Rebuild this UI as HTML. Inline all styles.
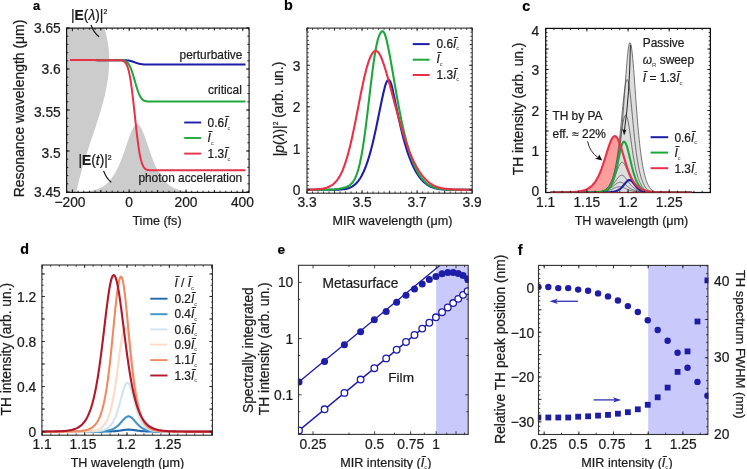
<!DOCTYPE html>
<html><head><meta charset="utf-8"><title>figure</title>
<style>html,body{margin:0;padding:0;background:#fff;}body{width:747px;height:469px;overflow:hidden;font-family:"Liberation Sans",sans-serif;}svg{display:block;will-change:transform;}</style></head>
<body>
<svg width="747" height="469" viewBox="0 0 747 469" font-family="Liberation Sans, sans-serif">
<style>text{stroke:#1a1a1a;stroke-width:0.22px;paint-order:stroke}.sb{fill:#3a3a3a;stroke:none}</style>
<rect width="747" height="469" fill="#fff"/>
<clipPath id="ca"><rect x="66.6" y="28.1" width="182.5" height="164.3"/></clipPath>
<g clip-path="url(#ca)">
<path d="M66.6,28.1 104.4,28.1 105.0,30.2 105.6,32.2 106.1,34.3 106.5,36.3 107.0,38.4 107.4,40.4 107.8,42.5 108.1,44.5 108.4,46.6 108.6,48.6 108.8,50.7 109.0,52.7 109.1,54.8 109.2,56.9 109.2,58.9 109.2,61.0 109.1,63.0 109.1,65.1 109.0,67.1 108.8,69.2 108.7,71.2 108.5,73.3 108.3,75.3 108.0,77.4 107.8,79.4 107.5,81.5 107.1,83.6 106.8,85.6 106.4,87.7 106.0,89.7 105.6,91.8 105.1,93.8 104.7,95.9 104.2,97.9 103.7,100.0 103.1,102.0 102.6,104.1 102.0,106.1 101.4,108.2 100.8,110.2 100.2,112.3 99.6,114.4 99.0,116.4 98.3,118.5 97.7,120.5 97.0,122.6 96.3,124.6 95.7,126.7 95.0,128.7 94.3,130.8 93.6,132.8 92.9,134.9 92.2,136.9 91.5,139.0 90.9,141.1 90.2,143.1 89.5,145.2 88.8,147.2 88.1,149.3 87.5,151.3 86.8,153.4 86.2,155.4 85.5,157.5 84.9,159.5 84.2,161.6 83.6,163.6 83.0,165.7 82.4,167.8 81.8,169.8 81.3,171.9 80.7,173.9 80.1,176.0 79.6,178.0 79.1,180.1 78.6,182.1 78.1,184.2 77.6,186.2 77.1,188.3 76.6,190.3 76.2,192.4 66.6,192.4 Z" fill="#cccccc" stroke="none" stroke-width="0" stroke-linejoin="round" stroke-linecap="butt" />
<path d="M78.0,192.4 78.0,192.0 78.6,192.0 79.2,192.0 79.8,191.9 80.4,191.9 81.0,191.9 81.6,191.8 82.2,191.8 82.8,191.8 83.4,191.7 84.0,191.7 84.6,191.6 85.2,191.6 85.8,191.5 86.4,191.4 87.0,191.4 87.6,191.3 88.2,191.2 88.8,191.2 89.4,191.1 90.0,191.0 90.6,190.9 91.2,190.8 91.8,190.7 92.4,190.5 93.0,190.4 93.6,190.3 94.2,190.1 94.8,190.0 95.4,189.8 96.0,189.7 96.6,189.5 97.2,189.3 97.8,189.1 98.4,188.8 99.0,188.6 99.6,188.3 100.2,188.1 100.8,187.8 101.4,187.5 102.0,187.1 102.6,186.8 103.2,186.4 103.8,186.0 104.4,185.6 105.0,185.2 105.6,184.7 106.2,184.2 106.8,183.7 107.4,183.1 108.0,182.5 108.6,181.9 109.2,181.2 109.8,180.5 110.4,179.8 111.0,179.0 111.6,178.2 112.2,177.3 112.8,176.5 113.4,175.6 114.0,174.7 114.6,173.8 115.2,172.8 115.8,171.7 116.4,170.6 117.0,169.5 117.6,168.3 118.2,167.0 118.8,165.7 119.4,164.4 120.0,163.0 120.6,161.5 121.2,160.0 121.8,158.5 122.4,156.9 123.0,155.2 123.6,153.6 124.2,151.9 124.8,150.1 125.4,148.4 126.0,146.6 126.6,144.8 127.2,143.1 127.8,141.3 128.4,139.6 129.0,137.9 129.6,136.2 130.2,134.6 130.8,133.0 131.4,131.6 132.0,130.2 132.6,128.9 133.2,127.8 133.8,126.8 134.4,125.9 135.0,125.2 135.6,124.7 136.2,124.3 136.8,124.1 137.4,124.1 138.0,124.3 138.6,124.7 139.2,125.2 139.8,125.9 140.4,126.8 141.0,127.8 141.6,128.9 142.2,130.2 142.8,131.6 143.4,133.0 144.0,134.6 144.6,136.2 145.2,137.9 145.8,139.6 146.4,141.3 147.0,143.1 147.6,144.8 148.2,146.6 148.8,148.4 149.4,150.1 150.0,151.9 150.6,153.6 151.2,155.2 151.8,156.9 152.4,158.5 153.0,160.0 153.6,161.5 154.2,163.0 154.8,164.4 155.4,165.7 156.0,167.0 156.6,168.3 157.2,169.5 157.8,170.6 158.4,171.7 159.0,172.8 159.6,173.8 160.2,174.7 160.8,175.6 161.4,176.5 162.0,177.3 162.6,178.2 163.2,179.0 163.8,179.8 164.4,180.5 165.0,181.2 165.6,181.9 166.2,182.5 166.8,183.1 167.4,183.7 168.0,184.2 168.6,184.7 169.2,185.2 169.8,185.6 170.4,186.0 171.0,186.4 171.6,186.8 172.2,187.1 172.8,187.5 173.4,187.8 174.0,188.1 174.6,188.3 175.2,188.6 175.8,188.8 176.4,189.1 177.0,189.3 177.6,189.5 178.2,189.7 178.8,189.8 179.4,190.0 180.0,190.1 180.6,190.3 181.2,190.4 181.8,190.5 182.4,190.7 183.0,190.8 183.6,190.9 184.2,191.0 184.8,191.1 185.4,191.2 186.0,191.2 186.6,191.3 187.2,191.4 187.8,191.4 188.4,191.5 189.0,191.6 189.6,191.6 190.2,191.7 190.8,191.7 191.4,191.8 192.0,191.8 192.6,191.8 193.2,191.9 193.8,191.9 194.4,191.9 195.0,192.0 195.6,192.0 196.2,192.0 196.8,192.0 197.4,192.1 198.0,192.1 198.6,192.1 199.2,192.1 199.8,192.1 200.0,192.4 Z" fill="#cccccc" stroke="none" stroke-width="0" stroke-linejoin="round" stroke-linecap="butt" />
</g>
<path d="M70.0,60.1 70.5,60.1 71.0,60.1 71.5,60.1 72.0,60.1 72.5,60.1 73.0,60.1 73.5,60.1 74.0,60.1 74.5,60.1 75.0,60.1 75.5,60.1 76.0,60.1 76.5,60.1 77.0,60.1 77.5,60.1 78.0,60.1 78.5,60.1 79.0,60.1 79.5,60.1 80.0,60.1 80.5,60.1 81.0,60.1 81.5,60.1 82.0,60.1 82.5,60.1 83.0,60.1 83.5,60.1 84.0,60.1 84.5,60.1 85.0,60.1 85.5,60.1 86.0,60.1 86.5,60.1 87.0,60.1 87.5,60.1 88.0,60.1 88.5,60.1 89.0,60.1 89.5,60.1 90.0,60.1 90.5,60.1 91.0,60.1 91.5,60.1 92.0,60.1 92.5,60.1 93.0,60.1 93.5,60.1 94.0,60.1 94.5,60.1 95.0,60.1 95.5,60.1 96.0,60.1 96.5,60.1 97.0,60.1 97.5,60.2 98.0,60.2 98.5,60.2 99.0,60.2 99.5,60.2 100.0,60.2 100.5,60.2 101.0,60.2 101.5,60.2 102.0,60.2 102.5,60.2 103.0,60.2 103.5,60.2 104.0,60.2 104.5,60.2 105.0,60.2 105.5,60.2 106.0,60.2 106.5,60.2 107.0,60.2 107.5,60.2 108.0,60.2 108.5,60.2 109.0,60.2 109.5,60.2 110.0,60.2 110.5,60.2 111.0,60.2 111.5,60.2 112.0,60.2 112.5,60.2 113.0,60.2 113.5,60.2 114.0,60.2 114.5,60.2 115.0,60.2 115.5,60.2 116.0,60.2 116.5,60.2 117.0,60.2 117.5,60.2 118.0,60.2 118.5,60.2 119.0,60.2 119.5,60.2 120.0,60.2 120.5,60.2 121.0,60.2 121.5,60.2 122.0,60.2 122.5,60.2 123.0,60.2 123.5,60.2 124.0,60.2 124.5,60.2 125.0,60.2 125.5,60.3 126.0,60.3 126.5,60.3 127.0,60.4 127.5,60.4 128.0,60.5 128.5,60.5 129.0,60.6 129.5,60.7 130.0,60.8 130.5,60.9 131.0,61.1 131.5,61.2 132.0,61.3 132.5,61.5 133.0,61.7 133.5,61.9 134.0,62.0 134.5,62.2 135.0,62.4 135.5,62.6 136.0,62.8 136.5,62.9 137.0,63.1 137.5,63.3 138.0,63.4 138.5,63.6 139.0,63.7 139.5,63.8 140.0,63.9 140.5,64.0 141.0,64.1 141.5,64.2 142.0,64.2 142.5,64.3 143.0,64.3 143.5,64.4 144.0,64.4 144.5,64.4 145.0,64.4 145.5,64.5 146.0,64.5 146.5,64.5 147.0,64.5 147.5,64.5 148.0,64.5 148.5,64.5 149.0,64.5 149.5,64.5 150.0,64.5 150.5,64.5 151.0,64.5 151.5,64.5 152.0,64.5 152.5,64.5 153.0,64.5 153.5,64.5 154.0,64.5 154.5,64.5 155.0,64.5 155.5,64.5 156.0,64.5 156.5,64.5 157.0,64.5 157.5,64.5 158.0,64.5 158.5,64.5 159.0,64.5 159.5,64.5 160.0,64.5 160.5,64.5 161.0,64.5 161.5,64.5 162.0,64.5 162.5,64.5 163.0,64.5 163.5,64.5 164.0,64.5 164.5,64.5 165.0,64.5 165.5,64.5 166.0,64.5 166.5,64.5 167.0,64.5 167.5,64.5 168.0,64.5 168.5,64.5 169.0,64.5 169.5,64.5 170.0,64.5 170.5,64.5 171.0,64.5 171.5,64.5 172.0,64.5 172.5,64.5 173.0,64.5 173.5,64.5 174.0,64.5 174.5,64.5 175.0,64.5 175.5,64.5 176.0,64.5 176.5,64.5 177.0,64.5 177.5,64.5 178.0,64.5 178.5,64.5 179.0,64.5 179.5,64.5 180.0,64.5 180.5,64.5 181.0,64.5 181.5,64.5 182.0,64.5 182.5,64.5 183.0,64.5 183.5,64.5 184.0,64.5 184.5,64.5 185.0,64.5 185.5,64.5 186.0,64.5 186.5,64.5 187.0,64.5 187.5,64.5 188.0,64.5 188.5,64.5 189.0,64.5 189.5,64.5 190.0,64.5 190.5,64.5 191.0,64.5 191.5,64.5 192.0,64.5 192.5,64.5 193.0,64.5 193.5,64.5 194.0,64.5 194.5,64.5 195.0,64.5 195.5,64.5 196.0,64.5 196.5,64.5 197.0,64.5 197.5,64.5 198.0,64.5 198.5,64.5 199.0,64.5 199.5,64.5 200.0,64.5 200.5,64.5 201.0,64.5 201.5,64.5 202.0,64.5 202.5,64.5 203.0,64.5 203.5,64.5 204.0,64.5 204.5,64.5 205.0,64.5 205.5,64.5 206.0,64.5 206.5,64.5 207.0,64.5 207.5,64.5 208.0,64.5 208.5,64.5 209.0,64.5 209.5,64.5 210.0,64.5 210.5,64.5 211.0,64.5 211.5,64.5 212.0,64.5 212.5,64.5 213.0,64.5 213.5,64.5 214.0,64.5 214.5,64.5 215.0,64.5 215.5,64.5 216.0,64.5 216.5,64.5 217.0,64.5 217.5,64.5 218.0,64.5 218.5,64.5 219.0,64.5 219.5,64.5 220.0,64.5 220.5,64.5 221.0,64.5 221.5,64.5 222.0,64.5 222.5,64.5 223.0,64.5 223.5,64.5 224.0,64.5 224.5,64.5 225.0,64.5 225.5,64.5 226.0,64.5 226.5,64.5 227.0,64.5 227.5,64.5 228.0,64.5 228.5,64.5 229.0,64.5 229.5,64.5 230.0,64.5 230.5,64.5 231.0,64.5 231.5,64.5 232.0,64.5 232.5,64.5 233.0,64.5 233.5,64.5 234.0,64.5 234.5,64.5 235.0,64.5 235.5,64.5 236.0,64.5 236.5,64.5 237.0,64.5 237.5,64.5 238.0,64.5 238.5,64.5 239.0,64.5 239.5,64.5 240.0,64.5 240.5,64.5 241.0,64.5 241.5,64.5 242.0,64.5 242.5,64.5 243.0,64.5 243.5,64.5 244.0,64.5 244.5,64.5 245.0,64.5 245.5,64.5" fill="none" stroke="#1d1da8" stroke-width="2.0" stroke-linejoin="round" stroke-linecap="butt" />
<path d="M70.0,60.1 70.5,60.1 71.0,60.1 71.5,60.1 72.0,60.1 72.5,60.1 73.0,60.1 73.5,60.1 74.0,60.1 74.5,60.1 75.0,60.1 75.5,60.1 76.0,60.1 76.5,60.1 77.0,60.1 77.5,60.1 78.0,60.1 78.5,60.1 79.0,60.1 79.5,60.1 80.0,60.1 80.5,60.1 81.0,60.1 81.5,60.1 82.0,60.1 82.5,60.1 83.0,60.1 83.5,60.1 84.0,60.1 84.5,60.1 85.0,60.1 85.5,60.1 86.0,60.1 86.5,60.1 87.0,60.1 87.5,60.1 88.0,60.1 88.5,60.1 89.0,60.1 89.5,60.1 90.0,60.1 90.5,60.1 91.0,60.1 91.5,60.1 92.0,60.1 92.5,60.1 93.0,60.1 93.5,60.1 94.0,60.1 94.5,60.1 95.0,60.1 95.5,60.1 96.0,60.1 96.5,60.2 97.0,60.2 97.5,60.2 98.0,60.2 98.5,60.2 99.0,60.2 99.5,60.2 100.0,60.2 100.5,60.2 101.0,60.2 101.5,60.2 102.0,60.2 102.5,60.2 103.0,60.2 103.5,60.2 104.0,60.2 104.5,60.2 105.0,60.2 105.5,60.2 106.0,60.2 106.5,60.2 107.0,60.2 107.5,60.2 108.0,60.2 108.5,60.2 109.0,60.2 109.5,60.2 110.0,60.2 110.5,60.2 111.0,60.2 111.5,60.2 112.0,60.2 112.5,60.2 113.0,60.2 113.5,60.2 114.0,60.2 114.5,60.2 115.0,60.2 115.5,60.2 116.0,60.2 116.5,60.2 117.0,60.2 117.5,60.2 118.0,60.2 118.5,60.2 119.0,60.2 119.5,60.2 120.0,60.2 120.5,60.2 121.0,60.2 121.5,60.2 122.0,60.3 122.5,60.3 123.0,60.4 123.5,60.5 124.0,60.6 124.5,60.7 125.0,60.9 125.5,61.1 126.0,61.4 126.5,61.8 127.0,62.2 127.5,62.6 128.0,63.2 128.5,63.9 129.0,64.7 129.5,65.5 130.0,66.5 130.5,67.6 131.0,68.8 131.5,70.2 132.0,71.6 132.5,73.1 133.0,74.7 133.5,76.4 134.0,78.1 134.5,79.8 135.0,81.6 135.5,83.3 136.0,85.1 136.5,86.7 137.0,88.3 137.5,89.9 138.0,91.3 138.5,92.7 139.0,93.9 139.5,95.0 140.0,96.0 140.5,96.9 141.0,97.7 141.5,98.4 142.0,99.0 142.5,99.5 143.0,99.9 143.5,100.3 144.0,100.6 144.5,100.8 145.0,101.0 145.5,101.1 146.0,101.2 146.5,101.3 147.0,101.4 147.5,101.5 148.0,101.5 148.5,101.5 149.0,101.5 149.5,101.6 150.0,101.6 150.5,101.6 151.0,101.6 151.5,101.6 152.0,101.6 152.5,101.6 153.0,101.6 153.5,101.6 154.0,101.6 154.5,101.6 155.0,101.6 155.5,101.6 156.0,101.6 156.5,101.6 157.0,101.6 157.5,101.6 158.0,101.6 158.5,101.6 159.0,101.6 159.5,101.6 160.0,101.6 160.5,101.6 161.0,101.6 161.5,101.6 162.0,101.6 162.5,101.6 163.0,101.6 163.5,101.6 164.0,101.6 164.5,101.6 165.0,101.6 165.5,101.6 166.0,101.6 166.5,101.6 167.0,101.6 167.5,101.6 168.0,101.6 168.5,101.6 169.0,101.6 169.5,101.6 170.0,101.6 170.5,101.6 171.0,101.6 171.5,101.6 172.0,101.6 172.5,101.6 173.0,101.6 173.5,101.6 174.0,101.6 174.5,101.6 175.0,101.6 175.5,101.6 176.0,101.6 176.5,101.6 177.0,101.6 177.5,101.6 178.0,101.6 178.5,101.6 179.0,101.6 179.5,101.6 180.0,101.6 180.5,101.6 181.0,101.6 181.5,101.6 182.0,101.6 182.5,101.6 183.0,101.6 183.5,101.6 184.0,101.6 184.5,101.6 185.0,101.6 185.5,101.6 186.0,101.6 186.5,101.6 187.0,101.6 187.5,101.6 188.0,101.6 188.5,101.6 189.0,101.6 189.5,101.6 190.0,101.6 190.5,101.6 191.0,101.6 191.5,101.6 192.0,101.6 192.5,101.6 193.0,101.6 193.5,101.6 194.0,101.6 194.5,101.6 195.0,101.6 195.5,101.6 196.0,101.6 196.5,101.6 197.0,101.6 197.5,101.6 198.0,101.6 198.5,101.6 199.0,101.6 199.5,101.6 200.0,101.6 200.5,101.6 201.0,101.6 201.5,101.6 202.0,101.6 202.5,101.6 203.0,101.6 203.5,101.6 204.0,101.6 204.5,101.6 205.0,101.6 205.5,101.6 206.0,101.6 206.5,101.6 207.0,101.6 207.5,101.6 208.0,101.6 208.5,101.6 209.0,101.6 209.5,101.6 210.0,101.6 210.5,101.6 211.0,101.6 211.5,101.6 212.0,101.6 212.5,101.6 213.0,101.6 213.5,101.6 214.0,101.6 214.5,101.6 215.0,101.6 215.5,101.6 216.0,101.6 216.5,101.6 217.0,101.6 217.5,101.6 218.0,101.6 218.5,101.6 219.0,101.6 219.5,101.6 220.0,101.6 220.5,101.6 221.0,101.6 221.5,101.6 222.0,101.6 222.5,101.6 223.0,101.6 223.5,101.6 224.0,101.6 224.5,101.6 225.0,101.6 225.5,101.6 226.0,101.6 226.5,101.6 227.0,101.6 227.5,101.6 228.0,101.6 228.5,101.6 229.0,101.6 229.5,101.6 230.0,101.6 230.5,101.6 231.0,101.6 231.5,101.6 232.0,101.6 232.5,101.6 233.0,101.6 233.5,101.6 234.0,101.6 234.5,101.6 235.0,101.6 235.5,101.6 236.0,101.6 236.5,101.6 237.0,101.6 237.5,101.6 238.0,101.6 238.5,101.6 239.0,101.6 239.5,101.6 240.0,101.6 240.5,101.6 241.0,101.6 241.5,101.6 242.0,101.6 242.5,101.6 243.0,101.6 243.5,101.6 244.0,101.6 244.5,101.6 245.0,101.6 245.5,101.6" fill="none" stroke="#1ea83c" stroke-width="2.0" stroke-linejoin="round" stroke-linecap="butt" />
<path d="M70.0,60.1 70.5,60.1 71.0,60.1 71.5,60.1 72.0,60.1 72.5,60.1 73.0,60.1 73.5,60.1 74.0,60.1 74.5,60.1 75.0,60.1 75.5,60.1 76.0,60.1 76.5,60.1 77.0,60.1 77.5,60.1 78.0,60.1 78.5,60.1 79.0,60.1 79.5,60.1 80.0,60.1 80.5,60.1 81.0,60.1 81.5,60.1 82.0,60.1 82.5,60.1 83.0,60.1 83.5,60.1 84.0,60.1 84.5,60.1 85.0,60.1 85.5,60.1 86.0,60.1 86.5,60.1 87.0,60.1 87.5,60.1 88.0,60.1 88.5,60.1 89.0,60.1 89.5,60.1 90.0,60.1 90.5,60.1 91.0,60.1 91.5,60.1 92.0,60.1 92.5,60.1 93.0,60.1 93.5,60.1 94.0,60.1 94.5,60.1 95.0,60.1 95.5,60.2 96.0,60.2 96.5,60.2 97.0,60.2 97.5,60.2 98.0,60.2 98.5,60.2 99.0,60.2 99.5,60.2 100.0,60.2 100.5,60.2 101.0,60.2 101.5,60.2 102.0,60.2 102.5,60.2 103.0,60.2 103.5,60.2 104.0,60.2 104.5,60.2 105.0,60.2 105.5,60.2 106.0,60.2 106.5,60.2 107.0,60.2 107.5,60.2 108.0,60.2 108.5,60.2 109.0,60.2 109.5,60.2 110.0,60.2 110.5,60.2 111.0,60.2 111.5,60.2 112.0,60.2 112.5,60.2 113.0,60.2 113.5,60.2 114.0,60.2 114.5,60.2 115.0,60.2 115.5,60.2 116.0,60.2 116.5,60.2 117.0,60.2 117.5,60.2 118.0,60.2 118.5,60.2 119.0,60.2 119.5,60.2 120.0,60.2 120.5,60.3 121.0,60.3 121.5,60.4 122.0,60.5 122.5,60.6 123.0,60.8 123.5,61.0 124.0,61.3 124.5,61.7 125.0,62.2 125.5,62.8 126.0,63.5 126.5,64.4 127.0,65.5 127.5,66.8 128.0,68.3 128.5,70.1 129.0,72.1 129.5,74.4 130.0,77.1 130.5,80.0 131.0,83.2 131.5,86.7 132.0,90.5 132.5,94.5 133.0,98.8 133.5,103.2 134.0,107.8 134.5,112.4 135.0,117.1 135.5,121.7 136.0,126.3 136.5,130.8 137.0,135.1 137.5,139.1 138.0,143.0 138.5,146.6 139.0,149.8 139.5,152.8 140.0,155.5 140.5,157.9 141.0,160.0 141.5,161.8 142.0,163.4 142.5,164.7 143.0,165.8 143.5,166.8 144.0,167.5 144.5,168.2 145.0,168.6 145.5,169.0 146.0,169.4 146.5,169.6 147.0,169.8 147.5,169.9 148.0,170.0 148.5,170.1 149.0,170.2 149.5,170.2 150.0,170.2 150.5,170.3 151.0,170.3 151.5,170.3 152.0,170.3 152.5,170.3 153.0,170.3 153.5,170.3 154.0,170.3 154.5,170.3 155.0,170.3 155.5,170.3 156.0,170.3 156.5,170.3 157.0,170.3 157.5,170.3 158.0,170.3 158.5,170.3 159.0,170.3 159.5,170.3 160.0,170.3 160.5,170.3 161.0,170.3 161.5,170.3 162.0,170.3 162.5,170.3 163.0,170.3 163.5,170.3 164.0,170.3 164.5,170.3 165.0,170.3 165.5,170.3 166.0,170.3 166.5,170.3 167.0,170.3 167.5,170.3 168.0,170.3 168.5,170.3 169.0,170.3 169.5,170.3 170.0,170.3 170.5,170.3 171.0,170.3 171.5,170.3 172.0,170.3 172.5,170.3 173.0,170.3 173.5,170.3 174.0,170.3 174.5,170.3 175.0,170.3 175.5,170.3 176.0,170.3 176.5,170.3 177.0,170.3 177.5,170.3 178.0,170.3 178.5,170.3 179.0,170.3 179.5,170.3 180.0,170.3 180.5,170.3 181.0,170.3 181.5,170.3 182.0,170.3 182.5,170.3 183.0,170.3 183.5,170.3 184.0,170.3 184.5,170.3 185.0,170.3 185.5,170.3 186.0,170.3 186.5,170.3 187.0,170.3 187.5,170.3 188.0,170.3 188.5,170.3 189.0,170.3 189.5,170.3 190.0,170.3 190.5,170.3 191.0,170.3 191.5,170.3 192.0,170.3 192.5,170.3 193.0,170.3 193.5,170.3 194.0,170.3 194.5,170.3 195.0,170.3 195.5,170.3 196.0,170.3 196.5,170.3 197.0,170.3 197.5,170.3 198.0,170.3 198.5,170.3 199.0,170.3 199.5,170.3 200.0,170.3 200.5,170.3 201.0,170.3 201.5,170.3 202.0,170.3 202.5,170.3 203.0,170.3 203.5,170.3 204.0,170.3 204.5,170.3 205.0,170.3 205.5,170.3 206.0,170.3 206.5,170.3 207.0,170.3 207.5,170.3 208.0,170.3 208.5,170.3 209.0,170.3 209.5,170.3 210.0,170.3 210.5,170.3 211.0,170.3 211.5,170.3 212.0,170.3 212.5,170.3 213.0,170.3 213.5,170.3 214.0,170.3 214.5,170.3 215.0,170.3 215.5,170.3 216.0,170.3 216.5,170.3 217.0,170.3 217.5,170.3 218.0,170.3 218.5,170.3 219.0,170.3 219.5,170.3 220.0,170.3 220.5,170.3 221.0,170.3 221.5,170.3 222.0,170.3 222.5,170.3 223.0,170.3 223.5,170.3 224.0,170.3 224.5,170.3 225.0,170.3 225.5,170.3 226.0,170.3 226.5,170.3 227.0,170.3 227.5,170.3 228.0,170.3 228.5,170.3 229.0,170.3 229.5,170.3 230.0,170.3 230.5,170.3 231.0,170.3 231.5,170.3 232.0,170.3 232.5,170.3 233.0,170.3 233.5,170.3 234.0,170.3 234.5,170.3 235.0,170.3 235.5,170.3 236.0,170.3 236.5,170.3 237.0,170.3 237.5,170.3 238.0,170.3 238.5,170.3 239.0,170.3 239.5,170.3 240.0,170.3 240.5,170.3 241.0,170.3 241.5,170.3 242.0,170.3 242.5,170.3 243.0,170.3 243.5,170.3 244.0,170.3 244.5,170.3 245.0,170.3 245.5,170.3" fill="none" stroke="#e8324a" stroke-width="2.0" stroke-linejoin="round" stroke-linecap="butt" />
<rect x="66.6" y="28.1" width="182.5" height="164.3" fill="none" stroke="#111" stroke-width="1.15"/>
<line x1="66.72" y1="192.40" x2="66.72" y2="190.60" stroke="#111" stroke-width="0.85"/>
<line x1="66.72" y1="28.10" x2="66.72" y2="29.90" stroke="#111" stroke-width="0.85"/>
<line x1="72.40" y1="192.40" x2="72.40" y2="190.60" stroke="#111" stroke-width="0.85"/>
<line x1="72.40" y1="28.10" x2="72.40" y2="29.90" stroke="#111" stroke-width="0.85"/>
<line x1="78.08" y1="192.40" x2="78.08" y2="190.60" stroke="#111" stroke-width="0.85"/>
<line x1="78.08" y1="28.10" x2="78.08" y2="29.90" stroke="#111" stroke-width="0.85"/>
<line x1="83.76" y1="192.40" x2="83.76" y2="190.60" stroke="#111" stroke-width="0.85"/>
<line x1="83.76" y1="28.10" x2="83.76" y2="29.90" stroke="#111" stroke-width="0.85"/>
<line x1="89.44" y1="192.40" x2="89.44" y2="190.60" stroke="#111" stroke-width="0.85"/>
<line x1="89.44" y1="28.10" x2="89.44" y2="29.90" stroke="#111" stroke-width="0.85"/>
<line x1="95.12" y1="192.40" x2="95.12" y2="190.60" stroke="#111" stroke-width="0.85"/>
<line x1="95.12" y1="28.10" x2="95.12" y2="29.90" stroke="#111" stroke-width="0.85"/>
<line x1="100.80" y1="192.40" x2="100.80" y2="190.60" stroke="#111" stroke-width="0.85"/>
<line x1="100.80" y1="28.10" x2="100.80" y2="29.90" stroke="#111" stroke-width="0.85"/>
<line x1="106.48" y1="192.40" x2="106.48" y2="190.60" stroke="#111" stroke-width="0.85"/>
<line x1="106.48" y1="28.10" x2="106.48" y2="29.90" stroke="#111" stroke-width="0.85"/>
<line x1="112.16" y1="192.40" x2="112.16" y2="190.60" stroke="#111" stroke-width="0.85"/>
<line x1="112.16" y1="28.10" x2="112.16" y2="29.90" stroke="#111" stroke-width="0.85"/>
<line x1="117.84" y1="192.40" x2="117.84" y2="190.60" stroke="#111" stroke-width="0.85"/>
<line x1="117.84" y1="28.10" x2="117.84" y2="29.90" stroke="#111" stroke-width="0.85"/>
<line x1="123.52" y1="192.40" x2="123.52" y2="190.60" stroke="#111" stroke-width="0.85"/>
<line x1="123.52" y1="28.10" x2="123.52" y2="29.90" stroke="#111" stroke-width="0.85"/>
<line x1="129.20" y1="192.40" x2="129.20" y2="190.60" stroke="#111" stroke-width="0.85"/>
<line x1="129.20" y1="28.10" x2="129.20" y2="29.90" stroke="#111" stroke-width="0.85"/>
<line x1="134.88" y1="192.40" x2="134.88" y2="190.60" stroke="#111" stroke-width="0.85"/>
<line x1="134.88" y1="28.10" x2="134.88" y2="29.90" stroke="#111" stroke-width="0.85"/>
<line x1="140.56" y1="192.40" x2="140.56" y2="190.60" stroke="#111" stroke-width="0.85"/>
<line x1="140.56" y1="28.10" x2="140.56" y2="29.90" stroke="#111" stroke-width="0.85"/>
<line x1="146.24" y1="192.40" x2="146.24" y2="190.60" stroke="#111" stroke-width="0.85"/>
<line x1="146.24" y1="28.10" x2="146.24" y2="29.90" stroke="#111" stroke-width="0.85"/>
<line x1="151.92" y1="192.40" x2="151.92" y2="190.60" stroke="#111" stroke-width="0.85"/>
<line x1="151.92" y1="28.10" x2="151.92" y2="29.90" stroke="#111" stroke-width="0.85"/>
<line x1="157.60" y1="192.40" x2="157.60" y2="190.60" stroke="#111" stroke-width="0.85"/>
<line x1="157.60" y1="28.10" x2="157.60" y2="29.90" stroke="#111" stroke-width="0.85"/>
<line x1="163.28" y1="192.40" x2="163.28" y2="190.60" stroke="#111" stroke-width="0.85"/>
<line x1="163.28" y1="28.10" x2="163.28" y2="29.90" stroke="#111" stroke-width="0.85"/>
<line x1="168.96" y1="192.40" x2="168.96" y2="190.60" stroke="#111" stroke-width="0.85"/>
<line x1="168.96" y1="28.10" x2="168.96" y2="29.90" stroke="#111" stroke-width="0.85"/>
<line x1="174.64" y1="192.40" x2="174.64" y2="190.60" stroke="#111" stroke-width="0.85"/>
<line x1="174.64" y1="28.10" x2="174.64" y2="29.90" stroke="#111" stroke-width="0.85"/>
<line x1="180.32" y1="192.40" x2="180.32" y2="190.60" stroke="#111" stroke-width="0.85"/>
<line x1="180.32" y1="28.10" x2="180.32" y2="29.90" stroke="#111" stroke-width="0.85"/>
<line x1="186.00" y1="192.40" x2="186.00" y2="190.60" stroke="#111" stroke-width="0.85"/>
<line x1="186.00" y1="28.10" x2="186.00" y2="29.90" stroke="#111" stroke-width="0.85"/>
<line x1="191.68" y1="192.40" x2="191.68" y2="190.60" stroke="#111" stroke-width="0.85"/>
<line x1="191.68" y1="28.10" x2="191.68" y2="29.90" stroke="#111" stroke-width="0.85"/>
<line x1="197.36" y1="192.40" x2="197.36" y2="190.60" stroke="#111" stroke-width="0.85"/>
<line x1="197.36" y1="28.10" x2="197.36" y2="29.90" stroke="#111" stroke-width="0.85"/>
<line x1="203.04" y1="192.40" x2="203.04" y2="190.60" stroke="#111" stroke-width="0.85"/>
<line x1="203.04" y1="28.10" x2="203.04" y2="29.90" stroke="#111" stroke-width="0.85"/>
<line x1="208.72" y1="192.40" x2="208.72" y2="190.60" stroke="#111" stroke-width="0.85"/>
<line x1="208.72" y1="28.10" x2="208.72" y2="29.90" stroke="#111" stroke-width="0.85"/>
<line x1="214.40" y1="192.40" x2="214.40" y2="190.60" stroke="#111" stroke-width="0.85"/>
<line x1="214.40" y1="28.10" x2="214.40" y2="29.90" stroke="#111" stroke-width="0.85"/>
<line x1="220.08" y1="192.40" x2="220.08" y2="190.60" stroke="#111" stroke-width="0.85"/>
<line x1="220.08" y1="28.10" x2="220.08" y2="29.90" stroke="#111" stroke-width="0.85"/>
<line x1="225.76" y1="192.40" x2="225.76" y2="190.60" stroke="#111" stroke-width="0.85"/>
<line x1="225.76" y1="28.10" x2="225.76" y2="29.90" stroke="#111" stroke-width="0.85"/>
<line x1="231.44" y1="192.40" x2="231.44" y2="190.60" stroke="#111" stroke-width="0.85"/>
<line x1="231.44" y1="28.10" x2="231.44" y2="29.90" stroke="#111" stroke-width="0.85"/>
<line x1="237.12" y1="192.40" x2="237.12" y2="190.60" stroke="#111" stroke-width="0.85"/>
<line x1="237.12" y1="28.10" x2="237.12" y2="29.90" stroke="#111" stroke-width="0.85"/>
<line x1="242.80" y1="192.40" x2="242.80" y2="190.60" stroke="#111" stroke-width="0.85"/>
<line x1="242.80" y1="28.10" x2="242.80" y2="29.90" stroke="#111" stroke-width="0.85"/>
<line x1="248.48" y1="192.40" x2="248.48" y2="190.60" stroke="#111" stroke-width="0.85"/>
<line x1="248.48" y1="28.10" x2="248.48" y2="29.90" stroke="#111" stroke-width="0.85"/>
<line x1="72.40" y1="192.40" x2="72.40" y2="189.30" stroke="#111" stroke-width="0.85"/>
<line x1="72.40" y1="28.10" x2="72.40" y2="31.20" stroke="#111" stroke-width="0.85"/>
<line x1="129.20" y1="192.40" x2="129.20" y2="189.30" stroke="#111" stroke-width="0.85"/>
<line x1="129.20" y1="28.10" x2="129.20" y2="31.20" stroke="#111" stroke-width="0.85"/>
<line x1="186.00" y1="192.40" x2="186.00" y2="189.30" stroke="#111" stroke-width="0.85"/>
<line x1="186.00" y1="28.10" x2="186.00" y2="31.20" stroke="#111" stroke-width="0.85"/>
<line x1="242.80" y1="192.40" x2="242.80" y2="189.30" stroke="#111" stroke-width="0.85"/>
<line x1="242.80" y1="28.10" x2="242.80" y2="31.20" stroke="#111" stroke-width="0.85"/>
<line x1="66.60" y1="192.00" x2="68.40" y2="192.00" stroke="#111" stroke-width="0.85"/>
<line x1="249.10" y1="192.00" x2="247.30" y2="192.00" stroke="#111" stroke-width="0.85"/>
<line x1="66.60" y1="183.80" x2="68.40" y2="183.80" stroke="#111" stroke-width="0.85"/>
<line x1="249.10" y1="183.80" x2="247.30" y2="183.80" stroke="#111" stroke-width="0.85"/>
<line x1="66.60" y1="175.60" x2="68.40" y2="175.60" stroke="#111" stroke-width="0.85"/>
<line x1="249.10" y1="175.60" x2="247.30" y2="175.60" stroke="#111" stroke-width="0.85"/>
<line x1="66.60" y1="167.40" x2="68.40" y2="167.40" stroke="#111" stroke-width="0.85"/>
<line x1="249.10" y1="167.40" x2="247.30" y2="167.40" stroke="#111" stroke-width="0.85"/>
<line x1="66.60" y1="159.20" x2="68.40" y2="159.20" stroke="#111" stroke-width="0.85"/>
<line x1="249.10" y1="159.20" x2="247.30" y2="159.20" stroke="#111" stroke-width="0.85"/>
<line x1="66.60" y1="151.00" x2="68.40" y2="151.00" stroke="#111" stroke-width="0.85"/>
<line x1="249.10" y1="151.00" x2="247.30" y2="151.00" stroke="#111" stroke-width="0.85"/>
<line x1="66.60" y1="142.80" x2="68.40" y2="142.80" stroke="#111" stroke-width="0.85"/>
<line x1="249.10" y1="142.80" x2="247.30" y2="142.80" stroke="#111" stroke-width="0.85"/>
<line x1="66.60" y1="134.60" x2="68.40" y2="134.60" stroke="#111" stroke-width="0.85"/>
<line x1="249.10" y1="134.60" x2="247.30" y2="134.60" stroke="#111" stroke-width="0.85"/>
<line x1="66.60" y1="126.40" x2="68.40" y2="126.40" stroke="#111" stroke-width="0.85"/>
<line x1="249.10" y1="126.40" x2="247.30" y2="126.40" stroke="#111" stroke-width="0.85"/>
<line x1="66.60" y1="118.20" x2="68.40" y2="118.20" stroke="#111" stroke-width="0.85"/>
<line x1="249.10" y1="118.20" x2="247.30" y2="118.20" stroke="#111" stroke-width="0.85"/>
<line x1="66.60" y1="110.00" x2="68.40" y2="110.00" stroke="#111" stroke-width="0.85"/>
<line x1="249.10" y1="110.00" x2="247.30" y2="110.00" stroke="#111" stroke-width="0.85"/>
<line x1="66.60" y1="101.80" x2="68.40" y2="101.80" stroke="#111" stroke-width="0.85"/>
<line x1="249.10" y1="101.80" x2="247.30" y2="101.80" stroke="#111" stroke-width="0.85"/>
<line x1="66.60" y1="93.60" x2="68.40" y2="93.60" stroke="#111" stroke-width="0.85"/>
<line x1="249.10" y1="93.60" x2="247.30" y2="93.60" stroke="#111" stroke-width="0.85"/>
<line x1="66.60" y1="85.40" x2="68.40" y2="85.40" stroke="#111" stroke-width="0.85"/>
<line x1="249.10" y1="85.40" x2="247.30" y2="85.40" stroke="#111" stroke-width="0.85"/>
<line x1="66.60" y1="77.20" x2="68.40" y2="77.20" stroke="#111" stroke-width="0.85"/>
<line x1="249.10" y1="77.20" x2="247.30" y2="77.20" stroke="#111" stroke-width="0.85"/>
<line x1="66.60" y1="69.00" x2="68.40" y2="69.00" stroke="#111" stroke-width="0.85"/>
<line x1="249.10" y1="69.00" x2="247.30" y2="69.00" stroke="#111" stroke-width="0.85"/>
<line x1="66.60" y1="60.80" x2="68.40" y2="60.80" stroke="#111" stroke-width="0.85"/>
<line x1="249.10" y1="60.80" x2="247.30" y2="60.80" stroke="#111" stroke-width="0.85"/>
<line x1="66.60" y1="52.60" x2="68.40" y2="52.60" stroke="#111" stroke-width="0.85"/>
<line x1="249.10" y1="52.60" x2="247.30" y2="52.60" stroke="#111" stroke-width="0.85"/>
<line x1="66.60" y1="44.40" x2="68.40" y2="44.40" stroke="#111" stroke-width="0.85"/>
<line x1="249.10" y1="44.40" x2="247.30" y2="44.40" stroke="#111" stroke-width="0.85"/>
<line x1="66.60" y1="36.20" x2="68.40" y2="36.20" stroke="#111" stroke-width="0.85"/>
<line x1="249.10" y1="36.20" x2="247.30" y2="36.20" stroke="#111" stroke-width="0.85"/>
<line x1="66.60" y1="28.00" x2="68.40" y2="28.00" stroke="#111" stroke-width="0.85"/>
<line x1="249.10" y1="28.00" x2="247.30" y2="28.00" stroke="#111" stroke-width="0.85"/>
<line x1="66.60" y1="192.00" x2="69.70" y2="192.00" stroke="#111" stroke-width="0.85"/>
<line x1="249.10" y1="192.00" x2="246.00" y2="192.00" stroke="#111" stroke-width="0.85"/>
<line x1="66.60" y1="151.00" x2="69.70" y2="151.00" stroke="#111" stroke-width="0.85"/>
<line x1="249.10" y1="151.00" x2="246.00" y2="151.00" stroke="#111" stroke-width="0.85"/>
<line x1="66.60" y1="110.00" x2="69.70" y2="110.00" stroke="#111" stroke-width="0.85"/>
<line x1="249.10" y1="110.00" x2="246.00" y2="110.00" stroke="#111" stroke-width="0.85"/>
<line x1="66.60" y1="69.00" x2="69.70" y2="69.00" stroke="#111" stroke-width="0.85"/>
<line x1="249.10" y1="69.00" x2="246.00" y2="69.00" stroke="#111" stroke-width="0.85"/>
<line x1="66.60" y1="28.00" x2="69.70" y2="28.00" stroke="#111" stroke-width="0.85"/>
<line x1="249.10" y1="28.00" x2="246.00" y2="28.00" stroke="#111" stroke-width="0.85"/>
<line x1="100.80" y1="192.40" x2="100.80" y2="189.90" stroke="#111" stroke-width="0.85"/>
<line x1="100.80" y1="28.10" x2="100.80" y2="30.60" stroke="#111" stroke-width="0.85"/>
<line x1="157.60" y1="192.40" x2="157.60" y2="189.90" stroke="#111" stroke-width="0.85"/>
<line x1="157.60" y1="28.10" x2="157.60" y2="30.60" stroke="#111" stroke-width="0.85"/>
<line x1="214.40" y1="192.40" x2="214.40" y2="189.90" stroke="#111" stroke-width="0.85"/>
<line x1="214.40" y1="28.10" x2="214.40" y2="30.60" stroke="#111" stroke-width="0.85"/>
<text x="60.8" y="33.05" font-size="13.8" text-anchor="end" font-weight="normal" font-style="normal" fill="#1a1a1a" >3.65</text>
<text x="60.8" y="74.35" font-size="13.8" text-anchor="end" font-weight="normal" font-style="normal" fill="#1a1a1a" >3.6</text>
<text x="60.8" y="116.64999999999999" font-size="13.8" text-anchor="end" font-weight="normal" font-style="normal" fill="#1a1a1a" >3.55</text>
<text x="60.8" y="157.95" font-size="13.8" text-anchor="end" font-weight="normal" font-style="normal" fill="#1a1a1a" >3.5</text>
<text x="60.8" y="196.65" font-size="13.8" text-anchor="end" font-weight="normal" font-style="normal" fill="#1a1a1a" >3.45</text>
<text x="70.0" y="206.5" font-size="13.8" text-anchor="middle" font-weight="normal" font-style="normal" fill="#1a1a1a" >&#8722;200</text>
<text x="129.2" y="206.5" font-size="13.8" text-anchor="middle" font-weight="normal" font-style="normal" fill="#1a1a1a" >0</text>
<text x="186.0" y="206.5" font-size="13.8" text-anchor="middle" font-weight="normal" font-style="normal" fill="#1a1a1a" >200</text>
<text x="242.4" y="206.5" font-size="13.8" text-anchor="middle" font-weight="normal" font-style="normal" fill="#1a1a1a" >400</text>
<text x="157" y="224.8" font-size="12.6" text-anchor="middle" font-weight="normal" font-style="normal" fill="#1a1a1a" >Time (fs)</text>
<text x="24.1" y="108.5" font-size="13.95" text-anchor="middle" font-weight="normal" font-style="normal" fill="#1a1a1a" transform="rotate(-90 24.1 108.5)" >Resonance wavelength (&#956;m)</text>
<text x="33.0" y="10.3" font-size="12.8" text-anchor="start" font-weight="bold" font-style="normal" fill="#000" >a</text>
<text x="71.0" y="19.6" font-size="13.8" fill="#1a1a1a">|<tspan font-weight="bold">E</tspan>(<tspan font-style="italic">&#955;</tspan>)|<tspan font-size="6.8" dy="-5.2">2</tspan></text>
<text x="78.4" y="165.0" font-size="13.8" fill="#1a1a1a">|<tspan font-weight="bold">E</tspan>(<tspan font-style="italic">t</tspan>)|<tspan font-size="6.8" dy="-5.2">2</tspan></text>
<path d="M91,24.9 Q93.5,32.5 99.1,36.8" fill="none" stroke="#111" stroke-width="1.2"/>
<path d="M103.6,170.9 Q106,178 111.3,182.4" fill="none" stroke="#111" stroke-width="1.2"/>
<text x="242.4" y="59.4" font-size="11.9" text-anchor="end" font-weight="normal" font-style="normal" fill="#1a1a1a" >perturbative</text>
<text x="241.8" y="94.2" font-size="11.9" text-anchor="end" font-weight="normal" font-style="normal" fill="#1a1a1a" >critical</text>
<text x="242.2" y="181.8" font-size="11.9" text-anchor="end" font-weight="normal" font-style="normal" fill="#1a1a1a" >photon acceleration</text>
<line x1="184.20" y1="122.50" x2="201.20" y2="122.50" stroke="#1d1da8" stroke-width="1.9"/>
<text x="207.6" y="126.9" font-size="11.9" fill="#1a1a1a" text-anchor="start">0.6<tspan font-style="italic">&#296;</tspan><tspan class="sb" font-size="5.6" dy="2.6">c</tspan></text>
<line x1="184.20" y1="138.00" x2="201.20" y2="138.00" stroke="#1ea83c" stroke-width="1.9"/>
<text x="207.6" y="142.4" font-size="11.9" fill="#1a1a1a" text-anchor="start"><tspan font-style="italic">&#296;</tspan><tspan class="sb" font-size="5.6" dy="2.6">c</tspan></text>
<line x1="184.20" y1="153.60" x2="201.20" y2="153.60" stroke="#e8324a" stroke-width="1.9"/>
<text x="207.6" y="158.0" font-size="11.9" fill="#1a1a1a" text-anchor="start">1.3<tspan font-style="italic">&#296;</tspan><tspan class="sb" font-size="5.6" dy="2.6">c</tspan></text>
<clipPath id="cb"><rect x="307.0" y="28.1" width="165.2" height="165.1"/></clipPath>
<g clip-path="url(#cb)">
<path d="M307.0,189.7 307.5,189.7 308.0,189.7 308.5,189.7 309.0,189.7 309.5,189.7 310.0,189.7 310.5,189.7 311.0,189.7 311.5,189.7 312.0,189.7 312.5,189.7 313.0,189.7 313.5,189.7 314.0,189.7 314.5,189.7 315.0,189.7 315.5,189.7 316.0,189.7 316.5,189.7 317.0,189.7 317.5,189.7 318.0,189.7 318.5,189.7 319.0,189.7 319.5,189.7 320.0,189.7 320.5,189.7 321.0,189.7 321.5,189.7 322.0,189.7 322.5,189.7 323.0,189.7 323.5,189.7 324.0,189.7 324.5,189.7 325.0,189.7 325.5,189.7 326.0,189.7 326.5,189.7 327.0,189.7 327.5,189.7 328.0,189.7 328.5,189.7 329.0,189.7 329.5,189.7 330.0,189.7 330.5,189.7 331.0,189.7 331.5,189.7 332.0,189.7 332.5,189.7 333.0,189.7 333.5,189.7 334.0,189.7 334.5,189.7 335.0,189.7 335.5,189.6 336.0,189.6 336.5,189.6 337.0,189.6 337.5,189.6 338.0,189.6 338.5,189.6 339.0,189.6 339.5,189.5 340.0,189.5 340.5,189.5 341.0,189.5 341.5,189.4 342.0,189.4 342.5,189.3 343.0,189.3 343.5,189.2 344.0,189.2 344.5,189.1 345.0,189.0 345.5,189.0 346.0,188.9 346.5,188.8 347.0,188.7 347.5,188.5 348.0,188.4 348.5,188.2 349.0,188.1 349.5,187.9 350.0,187.7 350.5,187.4 351.0,187.2 351.5,186.9 352.0,186.7 352.5,186.4 353.0,186.0 353.5,185.7 354.0,185.3 354.5,184.9 355.0,184.5 355.5,184.0 356.0,183.6 356.5,183.0 357.0,182.5 357.5,181.9 358.0,181.3 358.5,180.7 359.0,180.0 359.5,179.2 360.0,178.5 360.5,177.7 361.0,176.8 361.5,176.0 362.0,175.0 362.5,174.0 363.0,173.0 363.5,172.0 364.0,170.8 364.5,169.7 365.0,168.5 365.5,167.2 366.0,165.9 366.5,164.5 367.0,163.1 367.5,161.6 368.0,160.1 368.5,158.5 369.0,156.9 369.5,155.2 370.0,153.4 370.5,151.6 371.0,149.8 371.5,147.9 372.0,145.9 372.5,143.9 373.0,141.8 373.5,139.7 374.0,137.6 374.5,135.3 375.0,133.1 375.5,130.8 376.0,128.5 376.5,126.1 377.0,123.7 377.5,121.3 378.0,118.8 378.5,116.3 379.0,113.9 379.5,111.4 380.0,108.9 380.5,106.5 381.0,104.0 381.5,101.6 382.0,99.3 382.5,97.0 383.0,94.7 383.5,92.6 384.0,90.4 384.5,88.4 385.0,86.5 385.5,84.9 386.0,83.4 386.5,82.3 387.0,81.3 387.5,80.6 388.0,80.2 388.5,80.0 389.0,80.1 389.5,80.5 390.0,81.2 390.5,82.2 391.0,83.4 391.5,85.0 392.0,86.8 392.5,88.9 393.0,91.2 393.5,93.7 394.0,96.0 394.5,98.3 395.0,100.7 395.5,103.1 396.0,105.4 396.5,107.8 397.0,110.2 397.5,112.6 398.0,115.0 398.5,117.3 399.0,119.6 399.5,121.8 400.0,124.1 400.5,126.2 401.0,128.4 401.5,130.5 402.0,132.5 402.5,134.5 403.0,136.5 403.5,138.4 404.0,140.2 404.5,142.1 405.0,143.8 405.5,145.5 406.0,147.2 406.5,148.8 407.0,150.4 407.5,151.9 408.0,153.4 408.5,154.9 409.0,156.3 409.5,157.6 410.0,158.9 410.5,160.2 411.0,161.4 411.5,162.6 412.0,163.8 412.5,164.9 413.0,166.0 413.5,167.0 414.0,168.1 414.5,169.0 415.0,170.0 415.5,170.9 416.0,171.8 416.5,172.6 417.0,173.4 417.5,174.2 418.0,175.0 418.5,175.7 419.0,176.4 419.5,177.1 420.0,177.8 420.5,178.4 421.0,179.0 421.5,179.6 422.0,180.1 422.5,180.7 423.0,181.2 423.5,181.7 424.0,182.1 424.5,182.6 425.0,183.0 425.5,183.4 426.0,183.8 426.5,184.2 427.0,184.5 427.5,184.9 428.0,185.2 428.5,185.5 429.0,185.8 429.5,186.0 430.0,186.3 430.5,186.5 431.0,186.8 431.5,187.0 432.0,187.2 432.5,187.4 433.0,187.6 433.5,187.7 434.0,187.9 434.5,188.1 435.0,188.2 435.5,188.3 436.0,188.4 436.5,188.6 437.0,188.7 437.5,188.8 438.0,188.8 438.5,188.9 439.0,189.0 439.5,189.1 440.0,189.1 440.5,189.2 441.0,189.2 441.5,189.3 442.0,189.3 442.5,189.4 443.0,189.4 443.5,189.4 444.0,189.5 444.5,189.5 445.0,189.5 445.5,189.5 446.0,189.5 446.5,189.6 447.0,189.6 447.5,189.6 448.0,189.6 448.5,189.6 449.0,189.6 449.5,189.6 450.0,189.6 450.5,189.6 451.0,189.7 451.5,189.7 452.0,189.7 452.5,189.7 453.0,189.7 453.5,189.7 454.0,189.7 454.5,189.7 455.0,189.7 455.5,189.7 456.0,189.7 456.5,189.7 457.0,189.7 457.5,189.7 458.0,189.7 458.5,189.7 459.0,189.7 459.5,189.7 460.0,189.7 460.5,189.7 461.0,189.7 461.5,189.7 462.0,189.7 462.5,189.7 463.0,189.7 463.5,189.7 464.0,189.7 464.5,189.7 465.0,189.7 465.5,189.7 466.0,189.7 466.5,189.7 467.0,189.7 467.5,189.7 468.0,189.7 468.5,189.7 469.0,189.7 469.5,189.7 470.0,189.7 470.5,189.7 471.0,189.7 471.5,189.7 472.0,189.7" fill="none" stroke="#1d1da8" stroke-width="2.1" stroke-linejoin="round" stroke-linecap="butt" />
<path d="M307.0,189.7 307.5,189.7 308.0,189.7 308.5,189.7 309.0,189.7 309.5,189.7 310.0,189.7 310.5,189.7 311.0,189.7 311.5,189.7 312.0,189.7 312.5,189.7 313.0,189.7 313.5,189.7 314.0,189.7 314.5,189.7 315.0,189.7 315.5,189.7 316.0,189.7 316.5,189.7 317.0,189.7 317.5,189.7 318.0,189.7 318.5,189.7 319.0,189.7 319.5,189.7 320.0,189.7 320.5,189.7 321.0,189.7 321.5,189.7 322.0,189.7 322.5,189.7 323.0,189.7 323.5,189.7 324.0,189.7 324.5,189.7 325.0,189.7 325.5,189.7 326.0,189.7 326.5,189.7 327.0,189.7 327.5,189.7 328.0,189.7 328.5,189.7 329.0,189.6 329.5,189.6 330.0,189.6 330.5,189.6 331.0,189.6 331.5,189.6 332.0,189.6 332.5,189.6 333.0,189.5 333.5,189.5 334.0,189.5 334.5,189.4 335.0,189.4 335.5,189.4 336.0,189.3 336.5,189.3 337.0,189.2 337.5,189.1 338.0,189.1 338.5,189.0 339.0,188.9 339.5,188.8 340.0,188.7 340.5,188.5 341.0,188.4 341.5,188.2 342.0,188.2 342.5,188.1 343.0,188.0 343.5,187.9 344.0,187.8 344.5,187.6 345.0,187.5 345.5,187.3 346.0,187.2 346.5,187.0 347.0,186.8 347.5,186.5 348.0,186.3 348.5,186.0 349.0,185.7 349.5,185.4 350.0,185.0 350.5,184.6 351.0,184.1 351.5,183.6 352.0,183.1 352.5,182.5 353.0,181.8 353.5,181.0 354.0,180.2 354.5,179.4 355.0,178.4 355.5,177.3 356.0,176.2 356.5,174.9 357.0,173.5 357.5,172.0 358.0,170.4 358.5,168.7 359.0,166.8 359.5,164.8 360.0,162.7 360.5,160.3 361.0,157.9 361.5,155.3 362.0,152.5 362.5,149.6 363.0,146.5 363.5,143.2 364.0,139.8 364.5,136.3 365.0,132.6 365.5,128.9 366.0,125.0 366.5,120.9 367.0,116.9 367.5,112.7 368.0,108.5 368.5,104.2 369.0,99.9 369.5,95.6 370.0,91.3 370.5,87.1 371.0,82.9 371.5,78.8 372.0,74.8 372.5,70.9 373.0,67.1 373.5,63.4 374.0,59.9 374.5,56.6 375.0,53.5 375.5,50.6 376.0,47.8 376.5,45.3 377.0,43.0 377.5,40.9 378.0,39.1 378.5,37.5 379.0,36.1 379.5,34.8 380.0,33.7 380.5,32.9 381.0,32.2 381.5,31.7 382.0,31.4 382.5,31.3 383.0,31.4 383.5,31.8 384.0,32.5 384.5,33.4 385.0,34.6 385.5,36.1 386.0,37.8 386.5,39.7 387.0,41.8 387.5,44.2 388.0,46.5 388.5,48.9 389.0,51.5 389.5,54.1 390.0,56.8 390.5,59.6 391.0,62.4 391.5,65.2 392.0,68.1 392.5,71.0 393.0,73.9 393.5,76.9 394.0,79.8 394.5,82.7 395.0,85.6 395.5,88.5 396.0,91.4 396.5,94.3 397.0,97.1 397.5,99.9 398.0,102.6 398.5,105.3 399.0,108.0 399.5,110.6 400.0,113.2 400.5,115.7 401.0,118.2 401.5,120.6 402.0,123.0 402.5,125.3 403.0,127.6 403.5,129.8 404.0,132.0 404.5,134.1 405.0,136.1 405.5,138.1 406.0,140.1 406.5,142.0 407.0,143.8 407.5,145.6 408.0,147.4 408.5,149.1 409.0,150.7 409.5,152.3 410.0,153.9 410.5,155.4 411.0,156.8 411.5,158.2 412.0,159.6 412.5,160.9 413.0,162.2 413.5,163.4 414.0,164.6 414.5,165.8 415.0,166.9 415.5,167.9 416.0,169.0 416.5,170.0 417.0,170.9 417.5,171.8 418.0,172.7 418.5,173.6 419.0,174.4 419.5,175.1 420.0,175.9 420.5,176.6 421.0,177.3 421.5,178.0 422.0,178.6 422.5,179.2 423.0,179.8 423.5,180.3 424.0,180.9 424.5,181.4 425.0,181.9 425.5,182.3 426.0,182.8 426.5,183.2 427.0,183.6 427.5,184.0 428.0,184.3 428.5,184.6 429.0,185.0 429.5,185.3 430.0,185.6 430.5,185.8 431.0,186.1 431.5,186.3 432.0,186.6 432.5,186.8 433.0,187.0 433.5,187.2 434.0,187.4 434.5,187.6 435.0,187.7 435.5,187.9 436.0,188.0 436.5,188.1 437.0,188.3 437.5,188.4 438.0,188.5 438.5,188.6 439.0,188.7 439.5,188.8 440.0,188.9 440.5,188.9 441.0,189.0 441.5,189.1 442.0,189.1 442.5,189.2 443.0,189.2 443.5,189.3 444.0,189.3 444.5,189.3 445.0,189.4 445.5,189.4 446.0,189.4 446.5,189.5 447.0,189.5 447.5,189.5 448.0,189.5 448.5,189.5 449.0,189.6 449.5,189.6 450.0,189.6 450.5,189.6 451.0,189.6 451.5,189.6 452.0,189.6 452.5,189.6 453.0,189.6 453.5,189.6 454.0,189.7 454.5,189.7 455.0,189.7 455.5,189.7 456.0,189.7 456.5,189.7 457.0,189.7 457.5,189.7 458.0,189.7 458.5,189.7 459.0,189.7 459.5,189.7 460.0,189.7 460.5,189.7 461.0,189.7 461.5,189.7 462.0,189.7 462.5,189.7 463.0,189.7 463.5,189.7 464.0,189.7 464.5,189.7 465.0,189.7 465.5,189.7 466.0,189.7 466.5,189.7 467.0,189.7 467.5,189.7 468.0,189.7 468.5,189.7 469.0,189.7 469.5,189.7 470.0,189.7 470.5,189.7 471.0,189.7 471.5,189.7 472.0,189.7" fill="none" stroke="#1ea83c" stroke-width="2.1" stroke-linejoin="round" stroke-linecap="butt" />
<path d="M307.0,189.7 307.5,189.7 308.0,189.7 308.5,189.6 309.0,189.6 309.5,189.6 310.0,189.6 310.5,189.6 311.0,189.6 311.5,189.6 312.0,189.6 312.5,189.6 313.0,189.5 313.5,189.5 314.0,189.5 314.5,189.5 315.0,189.5 315.5,189.4 316.0,189.4 316.5,189.4 317.0,189.3 317.5,189.3 318.0,189.3 318.5,189.2 319.0,189.2 319.5,189.1 320.0,189.1 320.5,189.0 321.0,188.9 321.5,188.9 322.0,188.8 322.5,188.7 323.0,188.6 323.5,188.5 324.0,188.4 324.5,188.3 325.0,188.1 325.5,188.0 326.0,187.9 326.5,187.7 327.0,187.6 327.5,187.4 328.0,187.2 328.5,187.0 329.0,186.8 329.5,186.5 330.0,186.3 330.5,186.0 331.0,185.7 331.5,185.4 332.0,185.1 332.5,184.8 333.0,184.4 333.5,184.0 334.0,183.5 334.5,183.1 335.0,182.6 335.5,182.1 336.0,181.5 336.5,180.9 337.0,180.3 337.5,179.6 338.0,178.9 338.5,178.2 339.0,177.4 339.5,176.5 340.0,175.7 340.5,174.7 341.0,173.7 341.5,172.7 342.0,171.6 342.5,170.5 343.0,169.3 343.5,168.0 344.0,166.7 344.5,165.4 345.0,163.9 345.5,162.4 346.0,160.9 346.5,159.3 347.0,157.6 347.5,155.9 348.0,154.1 348.5,152.3 349.0,150.4 349.5,148.4 350.0,146.4 350.5,144.3 351.0,142.2 351.5,140.0 352.0,137.7 352.5,135.5 353.0,133.1 353.5,130.8 354.0,128.4 354.5,125.9 355.0,123.5 355.5,121.0 356.0,118.4 356.5,115.9 357.0,113.3 357.5,110.8 358.0,108.2 358.5,105.6 359.0,103.1 359.5,100.5 360.0,98.0 360.5,95.4 361.0,92.9 361.5,90.5 362.0,88.0 362.5,85.7 363.0,83.3 363.5,81.0 364.0,78.8 364.5,76.6 365.0,74.5 365.5,72.5 366.0,70.5 366.5,68.6 367.0,66.8 367.5,65.1 368.0,63.4 368.5,61.9 369.0,60.5 369.5,59.1 370.0,57.9 370.5,56.7 371.0,55.7 371.5,54.8 372.0,53.9 372.5,53.2 373.0,52.6 373.5,52.0 374.0,51.6 374.5,51.3 375.0,51.0 375.5,50.9 376.0,50.9 376.5,51.0 377.0,51.2 377.5,51.6 378.0,52.0 378.5,52.6 379.0,53.3 379.5,54.0 380.0,54.9 380.5,55.9 381.0,57.0 381.5,58.2 382.0,59.5 382.5,60.8 383.0,62.2 383.5,63.6 384.0,65.1 384.5,66.6 385.0,68.2 385.5,69.8 386.0,71.5 386.5,73.2 387.0,74.9 387.5,76.6 388.0,78.4 388.5,80.3 389.0,82.1 389.5,83.9 390.0,85.8 390.5,87.7 391.0,89.6 391.5,91.5 392.0,93.4 392.5,95.3 393.0,97.2 393.5,99.1 394.0,101.0 394.5,102.9 395.0,104.7 395.5,106.6 396.0,108.5 396.5,110.3 397.0,112.2 397.5,114.0 398.0,115.8 398.5,117.6 399.0,119.4 399.5,121.2 400.0,122.9 400.5,124.6 401.0,126.3 401.5,128.0 402.0,129.7 402.5,131.3 403.0,132.9 403.5,134.5 404.0,136.1 404.5,137.6 405.0,139.1 405.5,140.6 406.0,142.1 406.5,143.5 407.0,144.9 407.5,146.3 408.0,147.7 408.5,149.0 409.0,150.3 409.5,151.6 410.0,152.8 410.5,154.1 411.0,155.3 411.5,156.4 412.0,157.6 412.5,158.7 413.0,159.8 413.5,160.9 414.0,161.9 414.5,162.9 415.0,163.9 415.5,164.9 416.0,165.8 416.5,166.8 417.0,167.6 417.5,168.5 418.0,169.4 418.5,170.2 419.0,171.0 419.5,171.7 420.0,172.5 420.5,173.2 421.0,173.9 421.5,174.6 422.0,175.3 422.5,175.9 423.0,176.5 423.5,177.1 424.0,177.7 424.5,178.3 425.0,178.8 425.5,179.3 426.0,179.8 426.5,180.3 427.0,180.8 427.5,181.2 428.0,181.6 428.5,182.1 429.0,182.5 429.5,182.8 430.0,183.2 430.5,183.6 431.0,183.9 431.5,184.2 432.0,184.5 432.5,184.8 433.0,185.1 433.5,185.4 434.0,185.6 434.5,185.9 435.0,186.1 435.5,186.3 436.0,186.5 436.5,186.7 437.0,186.9 437.5,187.1 438.0,187.2 438.5,187.4 439.0,187.5 439.5,187.7 440.0,187.8 440.5,187.9 441.0,188.0 441.5,188.2 442.0,188.3 442.5,188.4 443.0,188.4 443.5,188.5 444.0,188.6 444.5,188.7 445.0,188.8 445.5,188.8 446.0,188.9 446.5,188.9 447.0,189.0 447.5,189.0 448.0,189.1 448.5,189.1 449.0,189.2 449.5,189.2 450.0,189.3 450.5,189.3 451.0,189.3 451.5,189.3 452.0,189.4 452.5,189.4 453.0,189.4 453.5,189.4 454.0,189.5 454.5,189.5 455.0,189.5 455.5,189.5 456.0,189.5 456.5,189.5 457.0,189.6 457.5,189.6 458.0,189.6 458.5,189.6 459.0,189.6 459.5,189.6 460.0,189.6 460.5,189.6 461.0,189.6 461.5,189.6 462.0,189.6 462.5,189.6 463.0,189.6 463.5,189.7 464.0,189.7 464.5,189.7 465.0,189.7 465.5,189.7 466.0,189.7 466.5,189.7 467.0,189.7 467.5,189.7 468.0,189.7 468.5,189.7 469.0,189.7 469.5,189.7 470.0,189.7 470.5,189.7 471.0,189.7 471.5,189.7 472.0,189.7" fill="none" stroke="#e8324a" stroke-width="2.1" stroke-linejoin="round" stroke-linecap="butt" />
</g>
<rect x="307.0" y="28.1" width="165.2" height="165.1" fill="none" stroke="#222" stroke-width="1.05"/>
<line x1="307.00" y1="193.20" x2="307.00" y2="191.40" stroke="#222" stroke-width="0.85"/>
<line x1="307.00" y1="28.10" x2="307.00" y2="29.90" stroke="#222" stroke-width="0.85"/>
<line x1="312.51" y1="193.20" x2="312.51" y2="191.40" stroke="#222" stroke-width="0.85"/>
<line x1="312.51" y1="28.10" x2="312.51" y2="29.90" stroke="#222" stroke-width="0.85"/>
<line x1="318.01" y1="193.20" x2="318.01" y2="191.40" stroke="#222" stroke-width="0.85"/>
<line x1="318.01" y1="28.10" x2="318.01" y2="29.90" stroke="#222" stroke-width="0.85"/>
<line x1="323.52" y1="193.20" x2="323.52" y2="191.40" stroke="#222" stroke-width="0.85"/>
<line x1="323.52" y1="28.10" x2="323.52" y2="29.90" stroke="#222" stroke-width="0.85"/>
<line x1="329.02" y1="193.20" x2="329.02" y2="191.40" stroke="#222" stroke-width="0.85"/>
<line x1="329.02" y1="28.10" x2="329.02" y2="29.90" stroke="#222" stroke-width="0.85"/>
<line x1="334.53" y1="193.20" x2="334.53" y2="191.40" stroke="#222" stroke-width="0.85"/>
<line x1="334.53" y1="28.10" x2="334.53" y2="29.90" stroke="#222" stroke-width="0.85"/>
<line x1="340.04" y1="193.20" x2="340.04" y2="191.40" stroke="#222" stroke-width="0.85"/>
<line x1="340.04" y1="28.10" x2="340.04" y2="29.90" stroke="#222" stroke-width="0.85"/>
<line x1="345.54" y1="193.20" x2="345.54" y2="191.40" stroke="#222" stroke-width="0.85"/>
<line x1="345.54" y1="28.10" x2="345.54" y2="29.90" stroke="#222" stroke-width="0.85"/>
<line x1="351.05" y1="193.20" x2="351.05" y2="191.40" stroke="#222" stroke-width="0.85"/>
<line x1="351.05" y1="28.10" x2="351.05" y2="29.90" stroke="#222" stroke-width="0.85"/>
<line x1="356.55" y1="193.20" x2="356.55" y2="191.40" stroke="#222" stroke-width="0.85"/>
<line x1="356.55" y1="28.10" x2="356.55" y2="29.90" stroke="#222" stroke-width="0.85"/>
<line x1="362.06" y1="193.20" x2="362.06" y2="191.40" stroke="#222" stroke-width="0.85"/>
<line x1="362.06" y1="28.10" x2="362.06" y2="29.90" stroke="#222" stroke-width="0.85"/>
<line x1="367.57" y1="193.20" x2="367.57" y2="191.40" stroke="#222" stroke-width="0.85"/>
<line x1="367.57" y1="28.10" x2="367.57" y2="29.90" stroke="#222" stroke-width="0.85"/>
<line x1="373.07" y1="193.20" x2="373.07" y2="191.40" stroke="#222" stroke-width="0.85"/>
<line x1="373.07" y1="28.10" x2="373.07" y2="29.90" stroke="#222" stroke-width="0.85"/>
<line x1="378.58" y1="193.20" x2="378.58" y2="191.40" stroke="#222" stroke-width="0.85"/>
<line x1="378.58" y1="28.10" x2="378.58" y2="29.90" stroke="#222" stroke-width="0.85"/>
<line x1="384.08" y1="193.20" x2="384.08" y2="191.40" stroke="#222" stroke-width="0.85"/>
<line x1="384.08" y1="28.10" x2="384.08" y2="29.90" stroke="#222" stroke-width="0.85"/>
<line x1="389.59" y1="193.20" x2="389.59" y2="191.40" stroke="#222" stroke-width="0.85"/>
<line x1="389.59" y1="28.10" x2="389.59" y2="29.90" stroke="#222" stroke-width="0.85"/>
<line x1="395.10" y1="193.20" x2="395.10" y2="191.40" stroke="#222" stroke-width="0.85"/>
<line x1="395.10" y1="28.10" x2="395.10" y2="29.90" stroke="#222" stroke-width="0.85"/>
<line x1="400.60" y1="193.20" x2="400.60" y2="191.40" stroke="#222" stroke-width="0.85"/>
<line x1="400.60" y1="28.10" x2="400.60" y2="29.90" stroke="#222" stroke-width="0.85"/>
<line x1="406.11" y1="193.20" x2="406.11" y2="191.40" stroke="#222" stroke-width="0.85"/>
<line x1="406.11" y1="28.10" x2="406.11" y2="29.90" stroke="#222" stroke-width="0.85"/>
<line x1="411.61" y1="193.20" x2="411.61" y2="191.40" stroke="#222" stroke-width="0.85"/>
<line x1="411.61" y1="28.10" x2="411.61" y2="29.90" stroke="#222" stroke-width="0.85"/>
<line x1="417.12" y1="193.20" x2="417.12" y2="191.40" stroke="#222" stroke-width="0.85"/>
<line x1="417.12" y1="28.10" x2="417.12" y2="29.90" stroke="#222" stroke-width="0.85"/>
<line x1="422.63" y1="193.20" x2="422.63" y2="191.40" stroke="#222" stroke-width="0.85"/>
<line x1="422.63" y1="28.10" x2="422.63" y2="29.90" stroke="#222" stroke-width="0.85"/>
<line x1="428.13" y1="193.20" x2="428.13" y2="191.40" stroke="#222" stroke-width="0.85"/>
<line x1="428.13" y1="28.10" x2="428.13" y2="29.90" stroke="#222" stroke-width="0.85"/>
<line x1="433.64" y1="193.20" x2="433.64" y2="191.40" stroke="#222" stroke-width="0.85"/>
<line x1="433.64" y1="28.10" x2="433.64" y2="29.90" stroke="#222" stroke-width="0.85"/>
<line x1="439.14" y1="193.20" x2="439.14" y2="191.40" stroke="#222" stroke-width="0.85"/>
<line x1="439.14" y1="28.10" x2="439.14" y2="29.90" stroke="#222" stroke-width="0.85"/>
<line x1="444.65" y1="193.20" x2="444.65" y2="191.40" stroke="#222" stroke-width="0.85"/>
<line x1="444.65" y1="28.10" x2="444.65" y2="29.90" stroke="#222" stroke-width="0.85"/>
<line x1="450.16" y1="193.20" x2="450.16" y2="191.40" stroke="#222" stroke-width="0.85"/>
<line x1="450.16" y1="28.10" x2="450.16" y2="29.90" stroke="#222" stroke-width="0.85"/>
<line x1="455.66" y1="193.20" x2="455.66" y2="191.40" stroke="#222" stroke-width="0.85"/>
<line x1="455.66" y1="28.10" x2="455.66" y2="29.90" stroke="#222" stroke-width="0.85"/>
<line x1="461.17" y1="193.20" x2="461.17" y2="191.40" stroke="#222" stroke-width="0.85"/>
<line x1="461.17" y1="28.10" x2="461.17" y2="29.90" stroke="#222" stroke-width="0.85"/>
<line x1="466.67" y1="193.20" x2="466.67" y2="191.40" stroke="#222" stroke-width="0.85"/>
<line x1="466.67" y1="28.10" x2="466.67" y2="29.90" stroke="#222" stroke-width="0.85"/>
<line x1="472.18" y1="193.20" x2="472.18" y2="191.40" stroke="#222" stroke-width="0.85"/>
<line x1="472.18" y1="28.10" x2="472.18" y2="29.90" stroke="#222" stroke-width="0.85"/>
<line x1="307.00" y1="193.20" x2="307.00" y2="190.10" stroke="#222" stroke-width="0.85"/>
<line x1="307.00" y1="28.10" x2="307.00" y2="31.20" stroke="#222" stroke-width="0.85"/>
<line x1="362.06" y1="193.20" x2="362.06" y2="190.10" stroke="#222" stroke-width="0.85"/>
<line x1="362.06" y1="28.10" x2="362.06" y2="31.20" stroke="#222" stroke-width="0.85"/>
<line x1="417.12" y1="193.20" x2="417.12" y2="190.10" stroke="#222" stroke-width="0.85"/>
<line x1="417.12" y1="28.10" x2="417.12" y2="31.20" stroke="#222" stroke-width="0.85"/>
<line x1="472.18" y1="193.20" x2="472.18" y2="190.10" stroke="#222" stroke-width="0.85"/>
<line x1="472.18" y1="28.10" x2="472.18" y2="31.20" stroke="#222" stroke-width="0.85"/>
<line x1="307.00" y1="189.70" x2="308.80" y2="189.70" stroke="#222" stroke-width="0.85"/>
<line x1="472.20" y1="189.70" x2="470.40" y2="189.70" stroke="#222" stroke-width="0.85"/>
<line x1="307.00" y1="185.55" x2="308.80" y2="185.55" stroke="#222" stroke-width="0.85"/>
<line x1="472.20" y1="185.55" x2="470.40" y2="185.55" stroke="#222" stroke-width="0.85"/>
<line x1="307.00" y1="181.41" x2="308.80" y2="181.41" stroke="#222" stroke-width="0.85"/>
<line x1="472.20" y1="181.41" x2="470.40" y2="181.41" stroke="#222" stroke-width="0.85"/>
<line x1="307.00" y1="177.26" x2="308.80" y2="177.26" stroke="#222" stroke-width="0.85"/>
<line x1="472.20" y1="177.26" x2="470.40" y2="177.26" stroke="#222" stroke-width="0.85"/>
<line x1="307.00" y1="173.11" x2="308.80" y2="173.11" stroke="#222" stroke-width="0.85"/>
<line x1="472.20" y1="173.11" x2="470.40" y2="173.11" stroke="#222" stroke-width="0.85"/>
<line x1="307.00" y1="168.96" x2="308.80" y2="168.96" stroke="#222" stroke-width="0.85"/>
<line x1="472.20" y1="168.96" x2="470.40" y2="168.96" stroke="#222" stroke-width="0.85"/>
<line x1="307.00" y1="164.82" x2="308.80" y2="164.82" stroke="#222" stroke-width="0.85"/>
<line x1="472.20" y1="164.82" x2="470.40" y2="164.82" stroke="#222" stroke-width="0.85"/>
<line x1="307.00" y1="160.67" x2="308.80" y2="160.67" stroke="#222" stroke-width="0.85"/>
<line x1="472.20" y1="160.67" x2="470.40" y2="160.67" stroke="#222" stroke-width="0.85"/>
<line x1="307.00" y1="156.52" x2="308.80" y2="156.52" stroke="#222" stroke-width="0.85"/>
<line x1="472.20" y1="156.52" x2="470.40" y2="156.52" stroke="#222" stroke-width="0.85"/>
<line x1="307.00" y1="152.38" x2="308.80" y2="152.38" stroke="#222" stroke-width="0.85"/>
<line x1="472.20" y1="152.38" x2="470.40" y2="152.38" stroke="#222" stroke-width="0.85"/>
<line x1="307.00" y1="148.23" x2="308.80" y2="148.23" stroke="#222" stroke-width="0.85"/>
<line x1="472.20" y1="148.23" x2="470.40" y2="148.23" stroke="#222" stroke-width="0.85"/>
<line x1="307.00" y1="144.08" x2="308.80" y2="144.08" stroke="#222" stroke-width="0.85"/>
<line x1="472.20" y1="144.08" x2="470.40" y2="144.08" stroke="#222" stroke-width="0.85"/>
<line x1="307.00" y1="139.94" x2="308.80" y2="139.94" stroke="#222" stroke-width="0.85"/>
<line x1="472.20" y1="139.94" x2="470.40" y2="139.94" stroke="#222" stroke-width="0.85"/>
<line x1="307.00" y1="135.79" x2="308.80" y2="135.79" stroke="#222" stroke-width="0.85"/>
<line x1="472.20" y1="135.79" x2="470.40" y2="135.79" stroke="#222" stroke-width="0.85"/>
<line x1="307.00" y1="131.64" x2="308.80" y2="131.64" stroke="#222" stroke-width="0.85"/>
<line x1="472.20" y1="131.64" x2="470.40" y2="131.64" stroke="#222" stroke-width="0.85"/>
<line x1="307.00" y1="127.49" x2="308.80" y2="127.49" stroke="#222" stroke-width="0.85"/>
<line x1="472.20" y1="127.49" x2="470.40" y2="127.49" stroke="#222" stroke-width="0.85"/>
<line x1="307.00" y1="123.35" x2="308.80" y2="123.35" stroke="#222" stroke-width="0.85"/>
<line x1="472.20" y1="123.35" x2="470.40" y2="123.35" stroke="#222" stroke-width="0.85"/>
<line x1="307.00" y1="119.20" x2="308.80" y2="119.20" stroke="#222" stroke-width="0.85"/>
<line x1="472.20" y1="119.20" x2="470.40" y2="119.20" stroke="#222" stroke-width="0.85"/>
<line x1="307.00" y1="115.05" x2="308.80" y2="115.05" stroke="#222" stroke-width="0.85"/>
<line x1="472.20" y1="115.05" x2="470.40" y2="115.05" stroke="#222" stroke-width="0.85"/>
<line x1="307.00" y1="110.91" x2="308.80" y2="110.91" stroke="#222" stroke-width="0.85"/>
<line x1="472.20" y1="110.91" x2="470.40" y2="110.91" stroke="#222" stroke-width="0.85"/>
<line x1="307.00" y1="106.76" x2="308.80" y2="106.76" stroke="#222" stroke-width="0.85"/>
<line x1="472.20" y1="106.76" x2="470.40" y2="106.76" stroke="#222" stroke-width="0.85"/>
<line x1="307.00" y1="102.61" x2="308.80" y2="102.61" stroke="#222" stroke-width="0.85"/>
<line x1="472.20" y1="102.61" x2="470.40" y2="102.61" stroke="#222" stroke-width="0.85"/>
<line x1="307.00" y1="98.47" x2="308.80" y2="98.47" stroke="#222" stroke-width="0.85"/>
<line x1="472.20" y1="98.47" x2="470.40" y2="98.47" stroke="#222" stroke-width="0.85"/>
<line x1="307.00" y1="94.32" x2="308.80" y2="94.32" stroke="#222" stroke-width="0.85"/>
<line x1="472.20" y1="94.32" x2="470.40" y2="94.32" stroke="#222" stroke-width="0.85"/>
<line x1="307.00" y1="90.17" x2="308.80" y2="90.17" stroke="#222" stroke-width="0.85"/>
<line x1="472.20" y1="90.17" x2="470.40" y2="90.17" stroke="#222" stroke-width="0.85"/>
<line x1="307.00" y1="86.02" x2="308.80" y2="86.02" stroke="#222" stroke-width="0.85"/>
<line x1="472.20" y1="86.02" x2="470.40" y2="86.02" stroke="#222" stroke-width="0.85"/>
<line x1="307.00" y1="81.88" x2="308.80" y2="81.88" stroke="#222" stroke-width="0.85"/>
<line x1="472.20" y1="81.88" x2="470.40" y2="81.88" stroke="#222" stroke-width="0.85"/>
<line x1="307.00" y1="77.73" x2="308.80" y2="77.73" stroke="#222" stroke-width="0.85"/>
<line x1="472.20" y1="77.73" x2="470.40" y2="77.73" stroke="#222" stroke-width="0.85"/>
<line x1="307.00" y1="73.58" x2="308.80" y2="73.58" stroke="#222" stroke-width="0.85"/>
<line x1="472.20" y1="73.58" x2="470.40" y2="73.58" stroke="#222" stroke-width="0.85"/>
<line x1="307.00" y1="69.44" x2="308.80" y2="69.44" stroke="#222" stroke-width="0.85"/>
<line x1="472.20" y1="69.44" x2="470.40" y2="69.44" stroke="#222" stroke-width="0.85"/>
<line x1="307.00" y1="65.29" x2="308.80" y2="65.29" stroke="#222" stroke-width="0.85"/>
<line x1="472.20" y1="65.29" x2="470.40" y2="65.29" stroke="#222" stroke-width="0.85"/>
<line x1="307.00" y1="61.14" x2="308.80" y2="61.14" stroke="#222" stroke-width="0.85"/>
<line x1="472.20" y1="61.14" x2="470.40" y2="61.14" stroke="#222" stroke-width="0.85"/>
<line x1="307.00" y1="57.00" x2="308.80" y2="57.00" stroke="#222" stroke-width="0.85"/>
<line x1="472.20" y1="57.00" x2="470.40" y2="57.00" stroke="#222" stroke-width="0.85"/>
<line x1="307.00" y1="52.85" x2="308.80" y2="52.85" stroke="#222" stroke-width="0.85"/>
<line x1="472.20" y1="52.85" x2="470.40" y2="52.85" stroke="#222" stroke-width="0.85"/>
<line x1="307.00" y1="48.70" x2="308.80" y2="48.70" stroke="#222" stroke-width="0.85"/>
<line x1="472.20" y1="48.70" x2="470.40" y2="48.70" stroke="#222" stroke-width="0.85"/>
<line x1="307.00" y1="44.56" x2="308.80" y2="44.56" stroke="#222" stroke-width="0.85"/>
<line x1="472.20" y1="44.56" x2="470.40" y2="44.56" stroke="#222" stroke-width="0.85"/>
<line x1="307.00" y1="40.41" x2="308.80" y2="40.41" stroke="#222" stroke-width="0.85"/>
<line x1="472.20" y1="40.41" x2="470.40" y2="40.41" stroke="#222" stroke-width="0.85"/>
<line x1="307.00" y1="36.26" x2="308.80" y2="36.26" stroke="#222" stroke-width="0.85"/>
<line x1="472.20" y1="36.26" x2="470.40" y2="36.26" stroke="#222" stroke-width="0.85"/>
<line x1="307.00" y1="32.11" x2="308.80" y2="32.11" stroke="#222" stroke-width="0.85"/>
<line x1="472.20" y1="32.11" x2="470.40" y2="32.11" stroke="#222" stroke-width="0.85"/>
<line x1="307.00" y1="27.97" x2="308.80" y2="27.97" stroke="#222" stroke-width="0.85"/>
<line x1="472.20" y1="27.97" x2="470.40" y2="27.97" stroke="#222" stroke-width="0.85"/>
<line x1="307.00" y1="189.70" x2="310.10" y2="189.70" stroke="#222" stroke-width="0.85"/>
<line x1="472.20" y1="189.70" x2="469.10" y2="189.70" stroke="#222" stroke-width="0.85"/>
<line x1="307.00" y1="148.23" x2="310.10" y2="148.23" stroke="#222" stroke-width="0.85"/>
<line x1="472.20" y1="148.23" x2="469.10" y2="148.23" stroke="#222" stroke-width="0.85"/>
<line x1="307.00" y1="106.76" x2="310.10" y2="106.76" stroke="#222" stroke-width="0.85"/>
<line x1="472.20" y1="106.76" x2="469.10" y2="106.76" stroke="#222" stroke-width="0.85"/>
<line x1="307.00" y1="65.29" x2="310.10" y2="65.29" stroke="#222" stroke-width="0.85"/>
<line x1="472.20" y1="65.29" x2="469.10" y2="65.29" stroke="#222" stroke-width="0.85"/>
<line x1="334.53" y1="193.20" x2="334.53" y2="190.70" stroke="#222" stroke-width="0.85"/>
<line x1="334.53" y1="28.10" x2="334.53" y2="30.60" stroke="#222" stroke-width="0.85"/>
<line x1="389.59" y1="193.20" x2="389.59" y2="190.70" stroke="#222" stroke-width="0.85"/>
<line x1="389.59" y1="28.10" x2="389.59" y2="30.60" stroke="#222" stroke-width="0.85"/>
<line x1="444.65" y1="193.20" x2="444.65" y2="190.70" stroke="#222" stroke-width="0.85"/>
<line x1="444.65" y1="28.10" x2="444.65" y2="30.60" stroke="#222" stroke-width="0.85"/>
<line x1="307.00" y1="168.96" x2="309.50" y2="168.96" stroke="#222" stroke-width="0.85"/>
<line x1="472.20" y1="168.96" x2="469.70" y2="168.96" stroke="#222" stroke-width="0.85"/>
<line x1="307.00" y1="127.49" x2="309.50" y2="127.49" stroke="#222" stroke-width="0.85"/>
<line x1="472.20" y1="127.49" x2="469.70" y2="127.49" stroke="#222" stroke-width="0.85"/>
<line x1="307.00" y1="86.02" x2="309.50" y2="86.02" stroke="#222" stroke-width="0.85"/>
<line x1="472.20" y1="86.02" x2="469.70" y2="86.02" stroke="#222" stroke-width="0.85"/>
<line x1="307.00" y1="44.56" x2="309.50" y2="44.56" stroke="#222" stroke-width="0.85"/>
<line x1="472.20" y1="44.56" x2="469.70" y2="44.56" stroke="#222" stroke-width="0.85"/>
<text x="300.5" y="195.2" font-size="13.8" text-anchor="end" font-weight="normal" font-style="normal" fill="#1a1a1a" >0</text>
<text x="300.5" y="153.73" font-size="13.8" text-anchor="end" font-weight="normal" font-style="normal" fill="#1a1a1a" >1</text>
<text x="300.5" y="112.25999999999999" font-size="13.8" text-anchor="end" font-weight="normal" font-style="normal" fill="#1a1a1a" >2</text>
<text x="300.5" y="70.78999999999999" font-size="13.8" text-anchor="end" font-weight="normal" font-style="normal" fill="#1a1a1a" >3</text>
<text x="307.0" y="207.3" font-size="13.8" text-anchor="middle" font-weight="normal" font-style="normal" fill="#1a1a1a" >3.3</text>
<text x="362.06000000000006" y="207.3" font-size="13.8" text-anchor="middle" font-weight="normal" font-style="normal" fill="#1a1a1a" >3.5</text>
<text x="417.1200000000001" y="207.3" font-size="13.8" text-anchor="middle" font-weight="normal" font-style="normal" fill="#1a1a1a" >3.7</text>
<text x="472.18000000000006" y="207.3" font-size="13.8" text-anchor="middle" font-weight="normal" font-style="normal" fill="#1a1a1a" >3.9</text>
<text x="392.4" y="224.8" font-size="12.6" text-anchor="middle" font-weight="normal" font-style="normal" fill="#1a1a1a" >MIR wavelength (&#956;m)</text>
<text x="283.6" y="109" font-size="13.8" fill="#1a1a1a" text-anchor="middle" transform="rotate(-90 283.6 109)">|<tspan font-style="italic">p</tspan>(<tspan font-style="italic">&#955;</tspan>)|<tspan font-size="6.8" dy="-5.2">2</tspan><tspan dy="5"> (arb. un.)</tspan></text>
<text x="284.1" y="10.4" font-size="14.3" text-anchor="start" font-weight="bold" font-style="normal" fill="#000" >b</text>
<line x1="412.70" y1="44.10" x2="429.60" y2="44.10" stroke="#1d1da8" stroke-width="2.0"/>
<text x="436.5" y="47.6" font-size="11.9" fill="#1a1a1a" text-anchor="start">0.6<tspan font-style="italic">&#296;</tspan><tspan class="sb" font-size="5.6" dy="2.6">c</tspan></text>
<line x1="412.70" y1="59.70" x2="429.60" y2="59.70" stroke="#1ea83c" stroke-width="2.0"/>
<text x="436.5" y="63.2" font-size="11.9" fill="#1a1a1a" text-anchor="start"><tspan font-style="italic">&#296;</tspan><tspan class="sb" font-size="5.6" dy="2.6">c</tspan></text>
<line x1="412.70" y1="75.00" x2="429.60" y2="75.00" stroke="#e8324a" stroke-width="2.0"/>
<text x="436.5" y="78.5" font-size="11.9" fill="#1a1a1a" text-anchor="start">1.3<tspan font-style="italic">&#296;</tspan><tspan class="sb" font-size="5.6" dy="2.6">c</tspan></text>
<clipPath id="cc"><rect x="545.7" y="28.4" width="164.69999999999993" height="164.6"/></clipPath>
<g clip-path="url(#cc)">
<path d="M545.7,192.5 550.4,192.5 550.9,192.5 551.4,192.5 551.9,192.5 552.4,192.5 552.9,192.5 553.4,192.5 553.9,192.5 554.4,192.5 554.9,192.5 555.4,192.5 555.9,192.5 556.4,192.5 556.9,192.5 557.4,192.5 557.9,192.5 558.4,192.5 558.9,192.4 559.4,192.4 559.9,192.4 560.4,192.4 560.9,192.4 561.4,192.4 561.9,192.4 562.4,192.4 562.9,192.4 563.4,192.4 563.9,192.4 564.4,192.4 564.9,192.4 565.4,192.4 565.9,192.3 566.4,192.3 566.9,192.3 567.4,192.3 567.9,192.3 568.4,192.3 568.9,192.3 569.4,192.2 569.9,192.2 570.4,192.2 570.9,192.2 571.4,192.2 571.9,192.1 572.4,192.1 572.9,192.1 573.4,192.0 573.9,192.0 574.4,192.0 574.9,191.9 575.4,191.9 575.9,191.8 576.4,191.8 576.9,191.7 577.4,191.7 577.9,191.6 578.4,191.5 578.9,191.5 579.4,191.4 579.9,191.3 580.4,191.2 580.9,191.1 581.4,191.0 581.9,190.9 582.4,190.8 582.9,190.6 583.4,190.5 583.9,190.3 584.4,190.2 584.9,190.0 585.4,189.8 585.9,189.6 586.4,189.4 586.9,189.1 587.4,188.9 587.9,188.6 588.4,188.3 588.9,188.0 589.4,187.7 589.9,187.3 590.4,187.0 590.9,186.6 591.4,186.1 591.9,185.7 592.4,185.2 592.9,184.6 593.4,184.1 593.9,183.5 594.4,182.8 594.9,182.2 595.4,181.5 595.9,180.7 596.4,179.9 596.9,179.0 597.4,178.1 597.9,177.2 598.4,176.2 598.9,175.1 599.4,174.0 599.9,172.9 600.4,171.7 600.9,170.4 601.4,169.1 601.9,167.7 602.4,166.3 602.9,164.9 603.4,163.4 603.9,161.8 604.4,160.3 604.9,158.7 605.4,157.1 605.9,155.5 606.4,153.9 606.9,152.2 607.4,150.6 607.9,149.1 608.4,147.5 608.9,146.1 609.4,144.6 609.9,143.3 610.4,142.0 610.9,140.8 611.4,139.8 611.9,138.8 612.4,138.0 612.9,137.3 613.4,136.8 613.9,136.4 614.4,136.2 614.9,136.1 615.4,136.2 615.9,136.4 616.4,136.9 616.9,137.5 617.4,138.2 617.9,139.1 618.4,140.2 618.9,141.3 619.4,142.6 619.9,144.0 620.4,145.5 620.9,147.0 621.4,148.6 621.9,150.3 622.4,152.0 622.9,153.7 623.4,155.4 623.9,157.1 624.4,158.8 624.9,160.4 625.4,162.1 625.9,163.7 626.4,165.3 626.9,166.8 627.4,168.2 627.9,169.7 628.4,171.0 628.9,172.3 629.4,173.6 629.9,174.7 630.4,175.9 630.9,176.9 631.4,178.0 631.9,178.9 632.4,179.8 632.9,180.7 633.4,181.5 633.9,182.2 634.4,182.9 634.9,183.6 635.4,184.2 635.9,184.8 636.4,185.4 636.9,185.9 637.4,186.3 637.9,186.8 638.4,187.2 638.9,187.6 639.4,187.9 639.9,188.3 640.4,188.6 640.9,188.9 641.4,189.1 641.9,189.4 642.4,189.6 642.9,189.8 643.4,190.0 643.9,190.2 644.4,190.4 644.9,190.5 645.4,190.7 645.9,190.8 646.4,190.9 646.9,191.1 647.4,191.2 647.9,191.3 648.4,191.4 648.9,191.4 649.4,191.5 649.9,191.6 650.4,191.7 650.9,191.7 651.4,191.8 651.9,191.8 652.4,191.9 652.9,191.9 653.4,192.0 653.9,192.0 654.4,192.1 654.9,192.1 655.4,192.1 655.9,192.1 656.4,192.2 656.9,192.2 657.4,192.2 657.9,192.2 658.4,192.3 658.9,192.3 659.4,192.3 659.9,192.3 660.4,192.3 660.9,192.3 661.4,192.4 661.9,192.4 662.4,192.4 662.9,192.4 663.4,192.4 663.9,192.4 664.4,192.4 664.9,192.4 665.4,192.4 665.9,192.4 666.4,192.4 666.9,192.4 667.4,192.4 667.9,192.4 668.4,192.5 668.9,192.5 669.4,192.5 669.9,192.5 670.4,192.5 670.9,192.5 671.4,192.5 671.9,192.5 672.4,192.5 672.9,192.5 673.4,192.5 673.9,192.5 674.4,192.5 674.9,192.5 675.4,192.5 675.9,192.5 676.4,192.5 676.9,192.5 677.4,192.5 677.9,192.5 678.4,192.5 678.9,192.5 679.4,192.5 679.9,192.5 680.4,192.5 680.9,192.5 681.4,192.5 681.9,192.5 682.4,192.5 682.9,192.5 683.4,192.5 683.9,192.5 684.4,192.5 684.9,192.5 685.4,192.5 685.9,192.5 686.4,192.5 686.9,192.5 687.4,192.5 687.9,192.5 688.4,192.5 688.9,192.5 689.4,192.5 689.9,192.5 690.4,192.5 690.9,192.5 691.4,192.5 691.9,192.5 692.0,192.5 Z" fill="#ff9c9c" stroke="none" stroke-width="0" stroke-linejoin="round" stroke-linecap="butt" />
<path d="M590.0,192.5 590.0,192.5 590.4,192.5 590.8,192.5 591.2,192.5 591.6,192.5 592.0,192.5 592.4,192.5 592.8,192.5 593.2,192.5 593.6,192.5 594.0,192.5 594.4,192.5 594.8,192.5 595.2,192.5 595.6,192.5 596.0,192.5 596.4,192.5 596.8,192.5 597.2,192.5 597.6,192.5 598.0,192.5 598.4,192.4 598.8,192.4 599.2,192.4 599.6,192.4 600.0,192.4 600.4,192.4 600.8,192.3 601.2,192.3 601.6,192.3 602.0,192.2 602.4,192.2 602.8,192.1 603.2,192.1 603.6,192.0 604.0,191.9 604.4,191.8 604.8,191.7 605.2,191.5 605.6,191.4 606.0,191.2 606.4,191.1 606.8,190.8 607.2,190.6 607.6,190.3 608.0,190.0 608.4,189.7 608.8,189.3 609.2,188.9 609.6,188.5 610.0,188.0 610.4,187.4 610.8,186.8 611.2,186.1 611.6,185.4 612.0,184.6 612.4,183.8 612.8,182.8 613.2,181.8 613.6,180.7 614.0,179.5 614.4,178.2 614.8,176.9 615.2,175.4 615.6,173.8 616.0,172.1 616.4,170.2 616.8,168.3 617.2,166.2 617.6,164.0 618.0,161.6 618.4,159.0 618.8,156.3 619.2,153.3 619.6,150.2 620.0,146.9 620.4,143.3 620.8,139.5 621.2,135.5 621.6,131.2 622.0,126.8 622.4,122.0 622.8,117.1 623.2,112.0 623.6,106.7 624.0,101.2 624.4,95.7 624.8,90.1 625.2,84.5 625.6,79.0 626.0,73.6 626.4,68.4 626.8,63.5 627.2,58.9 627.6,54.8 628.0,51.2 628.4,48.2 628.8,45.7 629.2,43.9 629.6,42.9 630.0,42.5 630.4,42.9 630.8,43.9 631.2,45.7 631.6,48.2 632.0,51.2 632.4,54.8 632.8,58.9 633.2,63.5 633.6,68.4 634.0,73.6 634.4,79.0 634.8,84.5 635.2,90.1 635.6,95.7 636.0,101.2 636.4,106.7 636.8,112.0 637.2,117.1 637.6,122.0 638.0,126.8 638.4,131.2 638.8,135.5 639.2,139.5 639.6,143.3 640.0,146.9 640.4,150.2 640.8,153.3 641.2,156.3 641.6,159.0 642.0,161.6 642.4,164.0 642.8,166.2 643.2,168.3 643.6,170.2 644.0,172.1 644.4,173.8 644.8,175.4 645.2,176.9 645.6,178.2 646.0,179.5 646.4,180.7 646.8,181.8 647.2,182.8 647.6,183.8 648.0,184.6 648.4,185.4 648.8,186.1 649.2,186.8 649.6,187.4 650.0,188.0 650.4,188.5 650.8,188.9 651.2,189.3 651.6,189.7 652.0,190.0 652.4,190.3 652.8,190.6 653.2,190.8 653.6,191.1 654.0,191.2 654.4,191.4 654.8,191.5 655.2,191.7 655.6,191.8 656.0,191.9 656.4,192.0 656.8,192.1 657.2,192.1 657.6,192.2 658.0,192.2 658.4,192.3 658.8,192.3 659.2,192.3 659.6,192.4 660.0,192.4 660.4,192.4 660.8,192.4 661.2,192.4 661.6,192.4 662.0,192.5 662.4,192.5 662.8,192.5 663.2,192.5 663.6,192.5 664.0,192.5 664.4,192.5 664.8,192.5 665.0,192.5 Z" fill="#dedede" stroke="none" stroke-width="0" stroke-linejoin="round" stroke-linecap="butt" />
<path d="M590.0,192.5 590.0,192.5 590.4,192.5 590.8,192.5 591.2,192.5 591.6,192.5 592.0,192.5 592.4,192.5 592.8,192.5 593.2,192.5 593.6,192.5 594.0,192.5 594.4,192.5 594.8,192.5 595.2,192.5 595.6,192.4 596.0,192.4 596.4,192.4 596.8,192.4 597.2,192.4 597.6,192.4 598.0,192.3 598.4,192.3 598.8,192.3 599.2,192.3 599.6,192.2 600.0,192.2 600.4,192.1 600.8,192.0 601.2,192.0 601.6,191.9 602.0,191.8 602.4,191.7 602.8,191.6 603.2,191.4 603.6,191.3 604.0,191.1 604.4,190.9 604.8,190.7 605.2,190.4 605.6,190.2 606.0,189.9 606.4,189.6 606.8,189.2 607.2,188.8 607.6,188.4 608.0,187.9 608.4,187.3 608.8,186.8 609.2,186.1 609.6,185.5 610.0,184.7 610.4,183.9 610.8,183.1 611.2,182.2 611.6,181.2 612.0,180.1 612.4,179.0 612.8,177.7 613.2,176.4 613.6,175.0 614.0,173.5 614.4,171.9 614.8,170.2 615.2,168.4 615.6,166.4 616.0,164.3 616.4,162.1 616.8,159.7 617.2,157.2 617.6,154.5 618.0,151.6 618.4,148.6 618.8,145.3 619.2,142.0 619.6,138.4 620.0,134.7 620.4,130.9 620.8,126.9 621.2,122.8 621.6,118.7 622.0,114.5 622.4,110.4 622.8,106.3 623.2,102.3 623.6,98.5 624.0,94.9 624.4,91.6 624.8,88.5 625.2,85.9 625.6,83.6 626.0,81.9 626.4,80.6 626.8,79.8 627.2,79.5 627.6,79.8 628.0,80.6 628.4,82.0 628.8,83.9 629.2,86.2 629.6,89.0 630.0,92.2 630.4,95.7 630.8,99.5 631.2,103.5 631.6,107.6 632.0,111.9 632.4,116.2 632.8,120.4 633.2,124.7 633.6,128.8 634.0,132.8 634.4,136.7 634.8,140.4 635.2,144.0 635.6,147.4 636.0,150.6 636.4,153.6 636.8,156.4 637.2,159.1 637.6,161.6 638.0,163.9 638.4,166.1 638.8,168.1 639.2,170.0 639.6,171.8 640.0,173.5 640.4,175.0 640.8,176.4 641.2,177.8 641.6,179.1 642.0,180.2 642.4,181.3 642.8,182.3 643.2,183.3 643.6,184.1 644.0,184.9 644.4,185.7 644.8,186.3 645.2,187.0 645.6,187.5 646.0,188.1 646.4,188.5 646.8,189.0 647.2,189.4 647.6,189.7 648.0,190.1 648.4,190.3 648.8,190.6 649.2,190.8 649.6,191.0 650.0,191.2 650.4,191.4 650.8,191.5 651.2,191.7 651.6,191.8 652.0,191.9 652.4,192.0 652.8,192.0 653.2,192.1 653.6,192.2 654.0,192.2 654.4,192.3 654.8,192.3 655.2,192.3 655.6,192.4 656.0,192.4 656.4,192.4 656.8,192.4 657.2,192.4 657.6,192.4 658.0,192.4 658.4,192.5 658.8,192.5 659.2,192.5 659.6,192.5 660.0,192.5 660.4,192.5 660.8,192.5 661.2,192.5 661.6,192.5 662.0,192.5 662.4,192.5 662.8,192.5 663.2,192.5 663.6,192.5 664.0,192.5 664.4,192.5 664.8,192.5 665.0,192.5 Z" fill="#dedede" stroke="none" stroke-width="0" stroke-linejoin="round" stroke-linecap="butt" />
<path d="M590.0,192.5 590.0,192.5 590.4,192.5 590.8,192.5 591.2,192.5 591.6,192.5 592.0,192.5 592.4,192.5 592.8,192.5 593.2,192.5 593.6,192.5 594.0,192.4 594.4,192.4 594.8,192.4 595.2,192.4 595.6,192.4 596.0,192.4 596.4,192.4 596.8,192.3 597.2,192.3 597.6,192.3 598.0,192.2 598.4,192.2 598.8,192.2 599.2,192.1 599.6,192.0 600.0,192.0 600.4,191.9 600.8,191.8 601.2,191.7 601.6,191.6 602.0,191.5 602.4,191.4 602.8,191.2 603.2,191.0 603.6,190.9 604.0,190.6 604.4,190.4 604.8,190.2 605.2,189.9 605.6,189.6 606.0,189.3 606.4,188.9 606.8,188.5 607.2,188.1 607.6,187.7 608.0,187.2 608.4,186.7 608.8,186.1 609.2,185.5 609.6,184.8 610.0,184.1 610.4,183.4 610.8,182.6 611.2,181.7 611.6,180.8 612.0,179.8 612.4,178.8 612.8,177.6 613.2,176.4 613.6,175.2 614.0,173.8 614.4,172.4 614.8,170.8 615.2,169.2 615.6,167.5 616.0,165.6 616.4,163.7 616.8,161.6 617.2,159.4 617.6,157.1 618.0,154.7 618.4,152.2 618.8,149.6 619.2,147.0 619.6,144.3 620.0,141.5 620.4,138.8 620.8,136.0 621.2,133.3 621.6,130.6 622.0,128.1 622.4,125.7 622.8,123.5 623.2,121.4 623.6,119.6 624.0,118.1 624.4,116.9 624.8,116.0 625.2,115.4 625.6,115.1 626.0,115.2 626.4,115.7 626.8,116.5 627.2,117.7 627.6,119.2 628.0,121.0 628.4,123.0 628.8,125.3 629.2,127.8 629.6,130.5 630.0,133.2 630.4,136.0 630.8,138.9 631.2,141.8 631.6,144.7 632.0,147.5 632.4,150.3 632.8,152.9 633.2,155.5 633.6,158.0 634.0,160.3 634.4,162.5 634.8,164.7 635.2,166.6 635.6,168.5 636.0,170.3 636.4,171.9 636.8,173.4 637.2,174.9 637.6,176.2 638.0,177.5 638.4,178.6 638.8,179.7 639.2,180.8 639.6,181.7 640.0,182.6 640.4,183.5 640.8,184.2 641.2,185.0 641.6,185.6 642.0,186.3 642.4,186.8 642.8,187.4 643.2,187.9 643.6,188.3 644.0,188.7 644.4,189.1 644.8,189.5 645.2,189.8 645.6,190.1 646.0,190.4 646.4,190.6 646.8,190.8 647.2,191.0 647.6,191.2 648.0,191.3 648.4,191.5 648.8,191.6 649.2,191.7 649.6,191.8 650.0,191.9 650.4,192.0 650.8,192.1 651.2,192.1 651.6,192.2 652.0,192.2 652.4,192.3 652.8,192.3 653.2,192.3 653.6,192.4 654.0,192.4 654.4,192.4 654.8,192.4 655.2,192.4 655.6,192.4 656.0,192.4 656.4,192.5 656.8,192.5 657.2,192.5 657.6,192.5 658.0,192.5 658.4,192.5 658.8,192.5 659.2,192.5 659.6,192.5 660.0,192.5 660.4,192.5 660.8,192.5 661.2,192.5 661.6,192.5 662.0,192.5 662.4,192.5 662.8,192.5 663.2,192.5 663.6,192.5 664.0,192.5 664.4,192.5 664.8,192.5 665.0,192.5 Z" fill="#dedede" stroke="none" stroke-width="0" stroke-linejoin="round" stroke-linecap="butt" />
<path d="M590.0,192.5 590.0,192.5 590.4,192.5 590.8,192.5 591.2,192.5 591.6,192.4 592.0,192.4 592.4,192.4 592.8,192.4 593.2,192.4 593.6,192.4 594.0,192.4 594.4,192.4 594.8,192.3 595.2,192.3 595.6,192.3 596.0,192.3 596.4,192.2 596.8,192.2 597.2,192.1 597.6,192.1 598.0,192.0 598.4,192.0 598.8,191.9 599.2,191.9 599.6,191.8 600.0,191.7 600.4,191.6 600.8,191.5 601.2,191.4 601.6,191.3 602.0,191.1 602.4,191.0 602.8,190.8 603.2,190.7 603.6,190.5 604.0,190.3 604.4,190.1 604.8,189.9 605.2,189.6 605.6,189.4 606.0,189.1 606.4,188.8 606.8,188.5 607.2,188.2 607.6,187.8 608.0,187.5 608.4,187.1 608.8,186.7 609.2,186.2 609.6,185.7 610.0,185.2 610.4,184.7 610.8,184.1 611.2,183.5 611.6,182.9 612.0,182.2 612.4,181.4 612.8,180.7 613.2,179.9 613.6,179.0 614.0,178.2 614.4,177.2 614.8,176.3 615.2,175.3 615.6,174.3 616.0,173.3 616.4,172.2 616.8,171.2 617.2,170.2 617.6,169.2 618.0,168.2 618.4,167.2 618.8,166.3 619.2,165.5 619.6,164.8 620.0,164.1 620.4,163.5 620.8,163.0 621.2,162.7 621.6,162.4 622.0,162.3 622.4,162.3 622.8,162.4 623.2,162.7 623.6,163.0 624.0,163.5 624.4,164.1 624.8,164.8 625.2,165.5 625.6,166.3 626.0,167.2 626.4,168.2 626.8,169.2 627.2,170.2 627.6,171.2 628.0,172.2 628.4,173.3 628.8,174.3 629.2,175.3 629.6,176.3 630.0,177.2 630.4,178.2 630.8,179.0 631.2,179.9 631.6,180.7 632.0,181.4 632.4,182.2 632.8,182.9 633.2,183.5 633.6,184.1 634.0,184.7 634.4,185.2 634.8,185.7 635.2,186.2 635.6,186.7 636.0,187.1 636.4,187.5 636.8,187.8 637.2,188.2 637.6,188.5 638.0,188.8 638.4,189.1 638.8,189.4 639.2,189.6 639.6,189.9 640.0,190.1 640.4,190.3 640.8,190.5 641.2,190.7 641.6,190.8 642.0,191.0 642.4,191.1 642.8,191.3 643.2,191.4 643.6,191.5 644.0,191.6 644.4,191.7 644.8,191.8 645.2,191.9 645.6,191.9 646.0,192.0 646.4,192.0 646.8,192.1 647.2,192.1 647.6,192.2 648.0,192.2 648.4,192.3 648.8,192.3 649.2,192.3 649.6,192.3 650.0,192.4 650.4,192.4 650.8,192.4 651.2,192.4 651.6,192.4 652.0,192.4 652.4,192.4 652.8,192.4 653.2,192.5 653.6,192.5 654.0,192.5 654.4,192.5 654.8,192.5 655.2,192.5 655.6,192.5 656.0,192.5 656.4,192.5 656.8,192.5 657.2,192.5 657.6,192.5 658.0,192.5 658.4,192.5 658.8,192.5 659.2,192.5 659.6,192.5 660.0,192.5 660.4,192.5 660.8,192.5 661.2,192.5 661.6,192.5 662.0,192.5 662.4,192.5 662.8,192.5 663.2,192.5 663.6,192.5 664.0,192.5 664.4,192.5 664.8,192.5 665.0,192.5 Z" fill="#dedede" stroke="none" stroke-width="0" stroke-linejoin="round" stroke-linecap="butt" />
<path d="M590.0,192.5 590.0,192.5 590.4,192.5 590.8,192.5 591.2,192.5 591.6,192.4 592.0,192.4 592.4,192.4 592.8,192.4 593.2,192.4 593.6,192.4 594.0,192.4 594.4,192.4 594.8,192.3 595.2,192.3 595.6,192.3 596.0,192.3 596.4,192.2 596.8,192.2 597.2,192.2 597.6,192.1 598.0,192.1 598.4,192.1 598.8,192.0 599.2,192.0 599.6,191.9 600.0,191.8 600.4,191.8 600.8,191.7 601.2,191.6 601.6,191.5 602.0,191.4 602.4,191.3 602.8,191.2 603.2,191.1 603.6,191.0 604.0,190.9 604.4,190.7 604.8,190.6 605.2,190.4 605.6,190.3 606.0,190.1 606.4,189.9 606.8,189.7 607.2,189.5 607.6,189.2 608.0,189.0 608.4,188.7 608.8,188.5 609.2,188.2 609.6,187.9 610.0,187.6 610.4,187.2 610.8,186.9 611.2,186.5 611.6,186.1 612.0,185.6 612.4,185.2 612.8,184.7 613.2,184.2 613.6,183.7 614.0,183.2 614.4,182.7 614.8,182.1 615.2,181.6 615.6,181.0 616.0,180.4 616.4,179.9 616.8,179.3 617.2,178.7 617.6,178.2 618.0,177.7 618.4,177.2 618.8,176.8 619.2,176.4 619.6,176.1 620.0,175.8 620.4,175.5 620.8,175.4 621.2,175.3 621.6,175.2 622.0,175.2 622.4,175.3 622.8,175.4 623.2,175.7 623.6,175.9 624.0,176.2 624.4,176.6 624.8,177.0 625.2,177.5 625.6,178.0 626.0,178.5 626.4,179.0 626.8,179.6 627.2,180.1 627.6,180.7 628.0,181.3 628.4,181.8 628.8,182.4 629.2,182.9 629.6,183.5 630.0,184.0 630.4,184.5 630.8,185.0 631.2,185.4 631.6,185.9 632.0,186.3 632.4,186.7 632.8,187.0 633.2,187.4 633.6,187.7 634.0,188.0 634.4,188.3 634.8,188.6 635.2,188.9 635.6,189.1 636.0,189.4 636.4,189.6 636.8,189.8 637.2,190.0 637.6,190.2 638.0,190.3 638.4,190.5 638.8,190.7 639.2,190.8 639.6,190.9 640.0,191.1 640.4,191.2 640.8,191.3 641.2,191.4 641.6,191.5 642.0,191.6 642.4,191.7 642.8,191.7 643.2,191.8 643.6,191.9 644.0,191.9 644.4,192.0 644.8,192.0 645.2,192.1 645.6,192.1 646.0,192.2 646.4,192.2 646.8,192.2 647.2,192.3 647.6,192.3 648.0,192.3 648.4,192.3 648.8,192.4 649.2,192.4 649.6,192.4 650.0,192.4 650.4,192.4 650.8,192.4 651.2,192.4 651.6,192.4 652.0,192.4 652.4,192.5 652.8,192.5 653.2,192.5 653.6,192.5 654.0,192.5 654.4,192.5 654.8,192.5 655.2,192.5 655.6,192.5 656.0,192.5 656.4,192.5 656.8,192.5 657.2,192.5 657.6,192.5 658.0,192.5 658.4,192.5 658.8,192.5 659.2,192.5 659.6,192.5 660.0,192.5 660.4,192.5 660.8,192.5 661.2,192.5 661.6,192.5 662.0,192.5 662.4,192.5 662.8,192.5 663.2,192.5 663.6,192.5 664.0,192.5 664.4,192.5 664.8,192.5 665.0,192.5 Z" fill="#dedede" stroke="none" stroke-width="0" stroke-linejoin="round" stroke-linecap="butt" />
<path d="M590.0,192.5 590.0,192.5 590.4,192.4 590.8,192.4 591.2,192.4 591.6,192.4 592.0,192.4 592.4,192.4 592.8,192.4 593.2,192.4 593.6,192.4 594.0,192.3 594.4,192.3 594.8,192.3 595.2,192.3 595.6,192.3 596.0,192.2 596.4,192.2 596.8,192.2 597.2,192.1 597.6,192.1 598.0,192.1 598.4,192.0 598.8,192.0 599.2,191.9 599.6,191.9 600.0,191.8 600.4,191.8 600.8,191.7 601.2,191.6 601.6,191.6 602.0,191.5 602.4,191.4 602.8,191.3 603.2,191.2 603.6,191.1 604.0,191.0 604.4,190.9 604.8,190.8 605.2,190.7 605.6,190.5 606.0,190.4 606.4,190.3 606.8,190.1 607.2,189.9 607.6,189.8 608.0,189.6 608.4,189.4 608.8,189.2 609.2,189.0 609.6,188.7 610.0,188.5 610.4,188.2 610.8,188.0 611.2,187.7 611.6,187.4 612.0,187.1 612.4,186.8 612.8,186.5 613.2,186.2 613.6,185.9 614.0,185.5 614.4,185.2 614.8,184.9 615.2,184.6 615.6,184.3 616.0,184.0 616.4,183.7 616.8,183.4 617.2,183.1 617.6,182.9 618.0,182.7 618.4,182.6 618.8,182.4 619.2,182.3 619.6,182.2 620.0,182.2 620.4,182.2 620.8,182.2 621.2,182.3 621.6,182.4 622.0,182.6 622.4,182.7 622.8,182.9 623.2,183.1 623.6,183.4 624.0,183.7 624.4,184.0 624.8,184.3 625.2,184.6 625.6,184.9 626.0,185.2 626.4,185.5 626.8,185.9 627.2,186.2 627.6,186.5 628.0,186.8 628.4,187.1 628.8,187.4 629.2,187.7 629.6,188.0 630.0,188.2 630.4,188.5 630.8,188.7 631.2,189.0 631.6,189.2 632.0,189.4 632.4,189.6 632.8,189.8 633.2,189.9 633.6,190.1 634.0,190.3 634.4,190.4 634.8,190.5 635.2,190.7 635.6,190.8 636.0,190.9 636.4,191.0 636.8,191.1 637.2,191.2 637.6,191.3 638.0,191.4 638.4,191.5 638.8,191.6 639.2,191.6 639.6,191.7 640.0,191.8 640.4,191.8 640.8,191.9 641.2,191.9 641.6,192.0 642.0,192.0 642.4,192.1 642.8,192.1 643.2,192.1 643.6,192.2 644.0,192.2 644.4,192.2 644.8,192.3 645.2,192.3 645.6,192.3 646.0,192.3 646.4,192.3 646.8,192.4 647.2,192.4 647.6,192.4 648.0,192.4 648.4,192.4 648.8,192.4 649.2,192.4 649.6,192.4 650.0,192.4 650.4,192.5 650.8,192.5 651.2,192.5 651.6,192.5 652.0,192.5 652.4,192.5 652.8,192.5 653.2,192.5 653.6,192.5 654.0,192.5 654.4,192.5 654.8,192.5 655.2,192.5 655.6,192.5 656.0,192.5 656.4,192.5 656.8,192.5 657.2,192.5 657.6,192.5 658.0,192.5 658.4,192.5 658.8,192.5 659.2,192.5 659.6,192.5 660.0,192.5 660.4,192.5 660.8,192.5 661.2,192.5 661.6,192.5 662.0,192.5 662.4,192.5 662.8,192.5 663.2,192.5 663.6,192.5 664.0,192.5 664.4,192.5 664.8,192.5 665.0,192.5 Z" fill="#dedede" stroke="none" stroke-width="0" stroke-linejoin="round" stroke-linecap="butt" />
<path d="M590.0,192.5 590.0,192.5 590.4,192.5 590.8,192.4 591.2,192.4 591.6,192.4 592.0,192.4 592.4,192.4 592.8,192.4 593.2,192.4 593.6,192.4 594.0,192.4 594.4,192.4 594.8,192.4 595.2,192.3 595.6,192.3 596.0,192.3 596.4,192.3 596.8,192.3 597.2,192.2 597.6,192.2 598.0,192.2 598.4,192.2 598.8,192.1 599.2,192.1 599.6,192.1 600.0,192.0 600.4,192.0 600.8,191.9 601.2,191.9 601.6,191.9 602.0,191.8 602.4,191.8 602.8,191.7 603.2,191.6 603.6,191.6 604.0,191.5 604.4,191.4 604.8,191.4 605.2,191.3 605.6,191.2 606.0,191.1 606.4,191.0 606.8,190.9 607.2,190.8 607.6,190.7 608.0,190.6 608.4,190.5 608.8,190.4 609.2,190.2 609.6,190.1 610.0,189.9 610.4,189.8 610.8,189.6 611.2,189.5 611.6,189.3 612.0,189.1 612.4,189.0 612.8,188.8 613.2,188.6 613.6,188.4 614.0,188.3 614.4,188.1 614.8,187.9 615.2,187.8 615.6,187.6 616.0,187.5 616.4,187.3 616.8,187.2 617.2,187.1 617.6,187.0 618.0,186.9 618.4,186.9 618.8,186.8 619.2,186.8 619.6,186.8 620.0,186.8 620.4,186.8 620.8,186.9 621.2,187.0 621.6,187.1 622.0,187.2 622.4,187.3 622.8,187.4 623.2,187.5 623.6,187.7 624.0,187.8 624.4,188.0 624.8,188.2 625.2,188.4 625.6,188.5 626.0,188.7 626.4,188.9 626.8,189.1 627.2,189.2 627.6,189.4 628.0,189.6 628.4,189.7 628.8,189.9 629.2,190.0 629.6,190.2 630.0,190.3 630.4,190.4 630.8,190.5 631.2,190.7 631.6,190.8 632.0,190.9 632.4,191.0 632.8,191.1 633.2,191.2 633.6,191.3 634.0,191.3 634.4,191.4 634.8,191.5 635.2,191.5 635.6,191.6 636.0,191.7 636.4,191.7 636.8,191.8 637.2,191.8 637.6,191.9 638.0,191.9 638.4,192.0 638.8,192.0 639.2,192.0 639.6,192.1 640.0,192.1 640.4,192.1 640.8,192.2 641.2,192.2 641.6,192.2 642.0,192.2 642.4,192.3 642.8,192.3 643.2,192.3 643.6,192.3 644.0,192.3 644.4,192.4 644.8,192.4 645.2,192.4 645.6,192.4 646.0,192.4 646.4,192.4 646.8,192.4 647.2,192.4 647.6,192.4 648.0,192.4 648.4,192.5 648.8,192.5 649.2,192.5 649.6,192.5 650.0,192.5 650.4,192.5 650.8,192.5 651.2,192.5 651.6,192.5 652.0,192.5 652.4,192.5 652.8,192.5 653.2,192.5 653.6,192.5 654.0,192.5 654.4,192.5 654.8,192.5 655.2,192.5 655.6,192.5 656.0,192.5 656.4,192.5 656.8,192.5 657.2,192.5 657.6,192.5 658.0,192.5 658.4,192.5 658.8,192.5 659.2,192.5 659.6,192.5 660.0,192.5 660.4,192.5 660.8,192.5 661.2,192.5 661.6,192.5 662.0,192.5 662.4,192.5 662.8,192.5 663.2,192.5 663.6,192.5 664.0,192.5 664.4,192.5 664.8,192.5 665.0,192.5 Z" fill="#dedede" stroke="none" stroke-width="0" stroke-linejoin="round" stroke-linecap="butt" />
<path d="M590.0,192.5 590.4,192.5 590.8,192.5 591.2,192.5 591.6,192.5 592.0,192.5 592.4,192.5 592.8,192.5 593.2,192.5 593.6,192.5 594.0,192.5 594.4,192.5 594.8,192.5 595.2,192.5 595.6,192.5 596.0,192.5 596.4,192.5 596.8,192.5 597.2,192.5 597.6,192.5 598.0,192.5 598.4,192.4 598.8,192.4 599.2,192.4 599.6,192.4 600.0,192.4 600.4,192.4 600.8,192.3 601.2,192.3 601.6,192.3 602.0,192.2 602.4,192.2 602.8,192.1 603.2,192.1 603.6,192.0 604.0,191.9 604.4,191.8 604.8,191.7 605.2,191.5 605.6,191.4 606.0,191.2 606.4,191.1 606.8,190.8 607.2,190.6 607.6,190.3 608.0,190.0 608.4,189.7 608.8,189.3 609.2,188.9 609.6,188.5 610.0,188.0 610.4,187.4 610.8,186.8 611.2,186.1 611.6,185.4 612.0,184.6 612.4,183.8 612.8,182.8 613.2,181.8 613.6,180.7 614.0,179.5 614.4,178.2 614.8,176.9 615.2,175.4 615.6,173.8 616.0,172.1 616.4,170.2 616.8,168.3 617.2,166.2 617.6,164.0 618.0,161.6 618.4,159.0 618.8,156.3 619.2,153.3 619.6,150.2 620.0,146.9 620.4,143.3 620.8,139.5 621.2,135.5 621.6,131.2 622.0,126.8 622.4,122.0 622.8,117.1 623.2,112.0 623.6,106.7 624.0,101.2 624.4,95.7 624.8,90.1 625.2,84.5 625.6,79.0 626.0,73.6 626.4,68.4 626.8,63.5 627.2,58.9 627.6,54.8 628.0,51.2 628.4,48.2 628.8,45.7 629.2,43.9 629.6,42.9 630.0,42.5 630.4,42.9 630.8,43.9 631.2,45.7 631.6,48.2 632.0,51.2 632.4,54.8 632.8,58.9 633.2,63.5 633.6,68.4 634.0,73.6 634.4,79.0 634.8,84.5 635.2,90.1 635.6,95.7 636.0,101.2 636.4,106.7 636.8,112.0 637.2,117.1 637.6,122.0 638.0,126.8 638.4,131.2 638.8,135.5 639.2,139.5 639.6,143.3 640.0,146.9 640.4,150.2 640.8,153.3 641.2,156.3 641.6,159.0 642.0,161.6 642.4,164.0 642.8,166.2 643.2,168.3 643.6,170.2 644.0,172.1 644.4,173.8 644.8,175.4 645.2,176.9 645.6,178.2 646.0,179.5 646.4,180.7 646.8,181.8 647.2,182.8 647.6,183.8 648.0,184.6 648.4,185.4 648.8,186.1 649.2,186.8 649.6,187.4 650.0,188.0 650.4,188.5 650.8,188.9 651.2,189.3 651.6,189.7 652.0,190.0 652.4,190.3 652.8,190.6 653.2,190.8 653.6,191.1 654.0,191.2 654.4,191.4 654.8,191.5 655.2,191.7 655.6,191.8 656.0,191.9 656.4,192.0 656.8,192.1 657.2,192.1 657.6,192.2 658.0,192.2 658.4,192.3 658.8,192.3 659.2,192.3 659.6,192.4 660.0,192.4 660.4,192.4 660.8,192.4 661.2,192.4 661.6,192.4 662.0,192.5 662.4,192.5 662.8,192.5 663.2,192.5 663.6,192.5 664.0,192.5 664.4,192.5 664.8,192.5" fill="none" stroke="#4a4a4a" stroke-width="0.75" stroke-linejoin="round" stroke-linecap="butt" />
<path d="M590.0,192.5 590.4,192.5 590.8,192.5 591.2,192.5 591.6,192.5 592.0,192.5 592.4,192.5 592.8,192.5 593.2,192.5 593.6,192.5 594.0,192.5 594.4,192.5 594.8,192.5 595.2,192.5 595.6,192.4 596.0,192.4 596.4,192.4 596.8,192.4 597.2,192.4 597.6,192.4 598.0,192.3 598.4,192.3 598.8,192.3 599.2,192.3 599.6,192.2 600.0,192.2 600.4,192.1 600.8,192.0 601.2,192.0 601.6,191.9 602.0,191.8 602.4,191.7 602.8,191.6 603.2,191.4 603.6,191.3 604.0,191.1 604.4,190.9 604.8,190.7 605.2,190.4 605.6,190.2 606.0,189.9 606.4,189.6 606.8,189.2 607.2,188.8 607.6,188.4 608.0,187.9 608.4,187.3 608.8,186.8 609.2,186.1 609.6,185.5 610.0,184.7 610.4,183.9 610.8,183.1 611.2,182.2 611.6,181.2 612.0,180.1 612.4,179.0 612.8,177.7 613.2,176.4 613.6,175.0 614.0,173.5 614.4,171.9 614.8,170.2 615.2,168.4 615.6,166.4 616.0,164.3 616.4,162.1 616.8,159.7 617.2,157.2 617.6,154.5 618.0,151.6 618.4,148.6 618.8,145.3 619.2,142.0 619.6,138.4 620.0,134.7 620.4,130.9 620.8,126.9 621.2,122.8 621.6,118.7 622.0,114.5 622.4,110.4 622.8,106.3 623.2,102.3 623.6,98.5 624.0,94.9 624.4,91.6 624.8,88.5 625.2,85.9 625.6,83.6 626.0,81.9 626.4,80.6 626.8,79.8 627.2,79.5 627.6,79.8 628.0,80.6 628.4,82.0 628.8,83.9 629.2,86.2 629.6,89.0 630.0,92.2 630.4,95.7 630.8,99.5 631.2,103.5 631.6,107.6 632.0,111.9 632.4,116.2 632.8,120.4 633.2,124.7 633.6,128.8 634.0,132.8 634.4,136.7 634.8,140.4 635.2,144.0 635.6,147.4 636.0,150.6 636.4,153.6 636.8,156.4 637.2,159.1 637.6,161.6 638.0,163.9 638.4,166.1 638.8,168.1 639.2,170.0 639.6,171.8 640.0,173.5 640.4,175.0 640.8,176.4 641.2,177.8 641.6,179.1 642.0,180.2 642.4,181.3 642.8,182.3 643.2,183.3 643.6,184.1 644.0,184.9 644.4,185.7 644.8,186.3 645.2,187.0 645.6,187.5 646.0,188.1 646.4,188.5 646.8,189.0 647.2,189.4 647.6,189.7 648.0,190.1 648.4,190.3 648.8,190.6 649.2,190.8 649.6,191.0 650.0,191.2 650.4,191.4 650.8,191.5 651.2,191.7 651.6,191.8 652.0,191.9 652.4,192.0 652.8,192.0 653.2,192.1 653.6,192.2 654.0,192.2 654.4,192.3 654.8,192.3 655.2,192.3 655.6,192.4 656.0,192.4 656.4,192.4 656.8,192.4 657.2,192.4 657.6,192.4 658.0,192.4 658.4,192.5 658.8,192.5 659.2,192.5 659.6,192.5 660.0,192.5 660.4,192.5 660.8,192.5 661.2,192.5 661.6,192.5 662.0,192.5 662.4,192.5 662.8,192.5 663.2,192.5 663.6,192.5 664.0,192.5 664.4,192.5 664.8,192.5" fill="none" stroke="#4a4a4a" stroke-width="0.75" stroke-linejoin="round" stroke-linecap="butt" />
<path d="M590.0,192.5 590.4,192.5 590.8,192.5 591.2,192.5 591.6,192.5 592.0,192.5 592.4,192.5 592.8,192.5 593.2,192.5 593.6,192.5 594.0,192.4 594.4,192.4 594.8,192.4 595.2,192.4 595.6,192.4 596.0,192.4 596.4,192.4 596.8,192.3 597.2,192.3 597.6,192.3 598.0,192.2 598.4,192.2 598.8,192.2 599.2,192.1 599.6,192.0 600.0,192.0 600.4,191.9 600.8,191.8 601.2,191.7 601.6,191.6 602.0,191.5 602.4,191.4 602.8,191.2 603.2,191.0 603.6,190.9 604.0,190.6 604.4,190.4 604.8,190.2 605.2,189.9 605.6,189.6 606.0,189.3 606.4,188.9 606.8,188.5 607.2,188.1 607.6,187.7 608.0,187.2 608.4,186.7 608.8,186.1 609.2,185.5 609.6,184.8 610.0,184.1 610.4,183.4 610.8,182.6 611.2,181.7 611.6,180.8 612.0,179.8 612.4,178.8 612.8,177.6 613.2,176.4 613.6,175.2 614.0,173.8 614.4,172.4 614.8,170.8 615.2,169.2 615.6,167.5 616.0,165.6 616.4,163.7 616.8,161.6 617.2,159.4 617.6,157.1 618.0,154.7 618.4,152.2 618.8,149.6 619.2,147.0 619.6,144.3 620.0,141.5 620.4,138.8 620.8,136.0 621.2,133.3 621.6,130.6 622.0,128.1 622.4,125.7 622.8,123.5 623.2,121.4 623.6,119.6 624.0,118.1 624.4,116.9 624.8,116.0 625.2,115.4 625.6,115.1 626.0,115.2 626.4,115.7 626.8,116.5 627.2,117.7 627.6,119.2 628.0,121.0 628.4,123.0 628.8,125.3 629.2,127.8 629.6,130.5 630.0,133.2 630.4,136.0 630.8,138.9 631.2,141.8 631.6,144.7 632.0,147.5 632.4,150.3 632.8,152.9 633.2,155.5 633.6,158.0 634.0,160.3 634.4,162.5 634.8,164.7 635.2,166.6 635.6,168.5 636.0,170.3 636.4,171.9 636.8,173.4 637.2,174.9 637.6,176.2 638.0,177.5 638.4,178.6 638.8,179.7 639.2,180.8 639.6,181.7 640.0,182.6 640.4,183.5 640.8,184.2 641.2,185.0 641.6,185.6 642.0,186.3 642.4,186.8 642.8,187.4 643.2,187.9 643.6,188.3 644.0,188.7 644.4,189.1 644.8,189.5 645.2,189.8 645.6,190.1 646.0,190.4 646.4,190.6 646.8,190.8 647.2,191.0 647.6,191.2 648.0,191.3 648.4,191.5 648.8,191.6 649.2,191.7 649.6,191.8 650.0,191.9 650.4,192.0 650.8,192.1 651.2,192.1 651.6,192.2 652.0,192.2 652.4,192.3 652.8,192.3 653.2,192.3 653.6,192.4 654.0,192.4 654.4,192.4 654.8,192.4 655.2,192.4 655.6,192.4 656.0,192.4 656.4,192.5 656.8,192.5 657.2,192.5 657.6,192.5 658.0,192.5 658.4,192.5 658.8,192.5 659.2,192.5 659.6,192.5 660.0,192.5 660.4,192.5 660.8,192.5 661.2,192.5 661.6,192.5 662.0,192.5 662.4,192.5 662.8,192.5 663.2,192.5 663.6,192.5 664.0,192.5 664.4,192.5 664.8,192.5" fill="none" stroke="#4a4a4a" stroke-width="0.75" stroke-linejoin="round" stroke-linecap="butt" />
<path d="M590.0,192.5 590.4,192.5 590.8,192.5 591.2,192.5 591.6,192.4 592.0,192.4 592.4,192.4 592.8,192.4 593.2,192.4 593.6,192.4 594.0,192.4 594.4,192.4 594.8,192.3 595.2,192.3 595.6,192.3 596.0,192.3 596.4,192.2 596.8,192.2 597.2,192.1 597.6,192.1 598.0,192.0 598.4,192.0 598.8,191.9 599.2,191.9 599.6,191.8 600.0,191.7 600.4,191.6 600.8,191.5 601.2,191.4 601.6,191.3 602.0,191.1 602.4,191.0 602.8,190.8 603.2,190.7 603.6,190.5 604.0,190.3 604.4,190.1 604.8,189.9 605.2,189.6 605.6,189.4 606.0,189.1 606.4,188.8 606.8,188.5 607.2,188.2 607.6,187.8 608.0,187.5 608.4,187.1 608.8,186.7 609.2,186.2 609.6,185.7 610.0,185.2 610.4,184.7 610.8,184.1 611.2,183.5 611.6,182.9 612.0,182.2 612.4,181.4 612.8,180.7 613.2,179.9 613.6,179.0 614.0,178.2 614.4,177.2 614.8,176.3 615.2,175.3 615.6,174.3 616.0,173.3 616.4,172.2 616.8,171.2 617.2,170.2 617.6,169.2 618.0,168.2 618.4,167.2 618.8,166.3 619.2,165.5 619.6,164.8 620.0,164.1 620.4,163.5 620.8,163.0 621.2,162.7 621.6,162.4 622.0,162.3 622.4,162.3 622.8,162.4 623.2,162.7 623.6,163.0 624.0,163.5 624.4,164.1 624.8,164.8 625.2,165.5 625.6,166.3 626.0,167.2 626.4,168.2 626.8,169.2 627.2,170.2 627.6,171.2 628.0,172.2 628.4,173.3 628.8,174.3 629.2,175.3 629.6,176.3 630.0,177.2 630.4,178.2 630.8,179.0 631.2,179.9 631.6,180.7 632.0,181.4 632.4,182.2 632.8,182.9 633.2,183.5 633.6,184.1 634.0,184.7 634.4,185.2 634.8,185.7 635.2,186.2 635.6,186.7 636.0,187.1 636.4,187.5 636.8,187.8 637.2,188.2 637.6,188.5 638.0,188.8 638.4,189.1 638.8,189.4 639.2,189.6 639.6,189.9 640.0,190.1 640.4,190.3 640.8,190.5 641.2,190.7 641.6,190.8 642.0,191.0 642.4,191.1 642.8,191.3 643.2,191.4 643.6,191.5 644.0,191.6 644.4,191.7 644.8,191.8 645.2,191.9 645.6,191.9 646.0,192.0 646.4,192.0 646.8,192.1 647.2,192.1 647.6,192.2 648.0,192.2 648.4,192.3 648.8,192.3 649.2,192.3 649.6,192.3 650.0,192.4 650.4,192.4 650.8,192.4 651.2,192.4 651.6,192.4 652.0,192.4 652.4,192.4 652.8,192.4 653.2,192.5 653.6,192.5 654.0,192.5 654.4,192.5 654.8,192.5 655.2,192.5 655.6,192.5 656.0,192.5 656.4,192.5 656.8,192.5 657.2,192.5 657.6,192.5 658.0,192.5 658.4,192.5 658.8,192.5 659.2,192.5 659.6,192.5 660.0,192.5 660.4,192.5 660.8,192.5 661.2,192.5 661.6,192.5 662.0,192.5 662.4,192.5 662.8,192.5 663.2,192.5 663.6,192.5 664.0,192.5 664.4,192.5 664.8,192.5" fill="none" stroke="#4a4a4a" stroke-width="0.75" stroke-linejoin="round" stroke-linecap="butt" />
<path d="M590.0,192.5 590.4,192.5 590.8,192.5 591.2,192.5 591.6,192.4 592.0,192.4 592.4,192.4 592.8,192.4 593.2,192.4 593.6,192.4 594.0,192.4 594.4,192.4 594.8,192.3 595.2,192.3 595.6,192.3 596.0,192.3 596.4,192.2 596.8,192.2 597.2,192.2 597.6,192.1 598.0,192.1 598.4,192.1 598.8,192.0 599.2,192.0 599.6,191.9 600.0,191.8 600.4,191.8 600.8,191.7 601.2,191.6 601.6,191.5 602.0,191.4 602.4,191.3 602.8,191.2 603.2,191.1 603.6,191.0 604.0,190.9 604.4,190.7 604.8,190.6 605.2,190.4 605.6,190.3 606.0,190.1 606.4,189.9 606.8,189.7 607.2,189.5 607.6,189.2 608.0,189.0 608.4,188.7 608.8,188.5 609.2,188.2 609.6,187.9 610.0,187.6 610.4,187.2 610.8,186.9 611.2,186.5 611.6,186.1 612.0,185.6 612.4,185.2 612.8,184.7 613.2,184.2 613.6,183.7 614.0,183.2 614.4,182.7 614.8,182.1 615.2,181.6 615.6,181.0 616.0,180.4 616.4,179.9 616.8,179.3 617.2,178.7 617.6,178.2 618.0,177.7 618.4,177.2 618.8,176.8 619.2,176.4 619.6,176.1 620.0,175.8 620.4,175.5 620.8,175.4 621.2,175.3 621.6,175.2 622.0,175.2 622.4,175.3 622.8,175.4 623.2,175.7 623.6,175.9 624.0,176.2 624.4,176.6 624.8,177.0 625.2,177.5 625.6,178.0 626.0,178.5 626.4,179.0 626.8,179.6 627.2,180.1 627.6,180.7 628.0,181.3 628.4,181.8 628.8,182.4 629.2,182.9 629.6,183.5 630.0,184.0 630.4,184.5 630.8,185.0 631.2,185.4 631.6,185.9 632.0,186.3 632.4,186.7 632.8,187.0 633.2,187.4 633.6,187.7 634.0,188.0 634.4,188.3 634.8,188.6 635.2,188.9 635.6,189.1 636.0,189.4 636.4,189.6 636.8,189.8 637.2,190.0 637.6,190.2 638.0,190.3 638.4,190.5 638.8,190.7 639.2,190.8 639.6,190.9 640.0,191.1 640.4,191.2 640.8,191.3 641.2,191.4 641.6,191.5 642.0,191.6 642.4,191.7 642.8,191.7 643.2,191.8 643.6,191.9 644.0,191.9 644.4,192.0 644.8,192.0 645.2,192.1 645.6,192.1 646.0,192.2 646.4,192.2 646.8,192.2 647.2,192.3 647.6,192.3 648.0,192.3 648.4,192.3 648.8,192.4 649.2,192.4 649.6,192.4 650.0,192.4 650.4,192.4 650.8,192.4 651.2,192.4 651.6,192.4 652.0,192.4 652.4,192.5 652.8,192.5 653.2,192.5 653.6,192.5 654.0,192.5 654.4,192.5 654.8,192.5 655.2,192.5 655.6,192.5 656.0,192.5 656.4,192.5 656.8,192.5 657.2,192.5 657.6,192.5 658.0,192.5 658.4,192.5 658.8,192.5 659.2,192.5 659.6,192.5 660.0,192.5 660.4,192.5 660.8,192.5 661.2,192.5 661.6,192.5 662.0,192.5 662.4,192.5 662.8,192.5 663.2,192.5 663.6,192.5 664.0,192.5 664.4,192.5 664.8,192.5" fill="none" stroke="#4a4a4a" stroke-width="0.75" stroke-linejoin="round" stroke-linecap="butt" />
<path d="M590.0,192.5 590.4,192.4 590.8,192.4 591.2,192.4 591.6,192.4 592.0,192.4 592.4,192.4 592.8,192.4 593.2,192.4 593.6,192.4 594.0,192.3 594.4,192.3 594.8,192.3 595.2,192.3 595.6,192.3 596.0,192.2 596.4,192.2 596.8,192.2 597.2,192.1 597.6,192.1 598.0,192.1 598.4,192.0 598.8,192.0 599.2,191.9 599.6,191.9 600.0,191.8 600.4,191.8 600.8,191.7 601.2,191.6 601.6,191.6 602.0,191.5 602.4,191.4 602.8,191.3 603.2,191.2 603.6,191.1 604.0,191.0 604.4,190.9 604.8,190.8 605.2,190.7 605.6,190.5 606.0,190.4 606.4,190.3 606.8,190.1 607.2,189.9 607.6,189.8 608.0,189.6 608.4,189.4 608.8,189.2 609.2,189.0 609.6,188.7 610.0,188.5 610.4,188.2 610.8,188.0 611.2,187.7 611.6,187.4 612.0,187.1 612.4,186.8 612.8,186.5 613.2,186.2 613.6,185.9 614.0,185.5 614.4,185.2 614.8,184.9 615.2,184.6 615.6,184.3 616.0,184.0 616.4,183.7 616.8,183.4 617.2,183.1 617.6,182.9 618.0,182.7 618.4,182.6 618.8,182.4 619.2,182.3 619.6,182.2 620.0,182.2 620.4,182.2 620.8,182.2 621.2,182.3 621.6,182.4 622.0,182.6 622.4,182.7 622.8,182.9 623.2,183.1 623.6,183.4 624.0,183.7 624.4,184.0 624.8,184.3 625.2,184.6 625.6,184.9 626.0,185.2 626.4,185.5 626.8,185.9 627.2,186.2 627.6,186.5 628.0,186.8 628.4,187.1 628.8,187.4 629.2,187.7 629.6,188.0 630.0,188.2 630.4,188.5 630.8,188.7 631.2,189.0 631.6,189.2 632.0,189.4 632.4,189.6 632.8,189.8 633.2,189.9 633.6,190.1 634.0,190.3 634.4,190.4 634.8,190.5 635.2,190.7 635.6,190.8 636.0,190.9 636.4,191.0 636.8,191.1 637.2,191.2 637.6,191.3 638.0,191.4 638.4,191.5 638.8,191.6 639.2,191.6 639.6,191.7 640.0,191.8 640.4,191.8 640.8,191.9 641.2,191.9 641.6,192.0 642.0,192.0 642.4,192.1 642.8,192.1 643.2,192.1 643.6,192.2 644.0,192.2 644.4,192.2 644.8,192.3 645.2,192.3 645.6,192.3 646.0,192.3 646.4,192.3 646.8,192.4 647.2,192.4 647.6,192.4 648.0,192.4 648.4,192.4 648.8,192.4 649.2,192.4 649.6,192.4 650.0,192.4 650.4,192.5 650.8,192.5 651.2,192.5 651.6,192.5 652.0,192.5 652.4,192.5 652.8,192.5 653.2,192.5 653.6,192.5 654.0,192.5 654.4,192.5 654.8,192.5 655.2,192.5 655.6,192.5 656.0,192.5 656.4,192.5 656.8,192.5 657.2,192.5 657.6,192.5 658.0,192.5 658.4,192.5 658.8,192.5 659.2,192.5 659.6,192.5 660.0,192.5 660.4,192.5 660.8,192.5 661.2,192.5 661.6,192.5 662.0,192.5 662.4,192.5 662.8,192.5 663.2,192.5 663.6,192.5 664.0,192.5 664.4,192.5 664.8,192.5" fill="none" stroke="#4a4a4a" stroke-width="0.75" stroke-linejoin="round" stroke-linecap="butt" />
<path d="M590.0,192.5 590.4,192.5 590.8,192.4 591.2,192.4 591.6,192.4 592.0,192.4 592.4,192.4 592.8,192.4 593.2,192.4 593.6,192.4 594.0,192.4 594.4,192.4 594.8,192.4 595.2,192.3 595.6,192.3 596.0,192.3 596.4,192.3 596.8,192.3 597.2,192.2 597.6,192.2 598.0,192.2 598.4,192.2 598.8,192.1 599.2,192.1 599.6,192.1 600.0,192.0 600.4,192.0 600.8,191.9 601.2,191.9 601.6,191.9 602.0,191.8 602.4,191.8 602.8,191.7 603.2,191.6 603.6,191.6 604.0,191.5 604.4,191.4 604.8,191.4 605.2,191.3 605.6,191.2 606.0,191.1 606.4,191.0 606.8,190.9 607.2,190.8 607.6,190.7 608.0,190.6 608.4,190.5 608.8,190.4 609.2,190.2 609.6,190.1 610.0,189.9 610.4,189.8 610.8,189.6 611.2,189.5 611.6,189.3 612.0,189.1 612.4,189.0 612.8,188.8 613.2,188.6 613.6,188.4 614.0,188.3 614.4,188.1 614.8,187.9 615.2,187.8 615.6,187.6 616.0,187.5 616.4,187.3 616.8,187.2 617.2,187.1 617.6,187.0 618.0,186.9 618.4,186.9 618.8,186.8 619.2,186.8 619.6,186.8 620.0,186.8 620.4,186.8 620.8,186.9 621.2,187.0 621.6,187.1 622.0,187.2 622.4,187.3 622.8,187.4 623.2,187.5 623.6,187.7 624.0,187.8 624.4,188.0 624.8,188.2 625.2,188.4 625.6,188.5 626.0,188.7 626.4,188.9 626.8,189.1 627.2,189.2 627.6,189.4 628.0,189.6 628.4,189.7 628.8,189.9 629.2,190.0 629.6,190.2 630.0,190.3 630.4,190.4 630.8,190.5 631.2,190.7 631.6,190.8 632.0,190.9 632.4,191.0 632.8,191.1 633.2,191.2 633.6,191.3 634.0,191.3 634.4,191.4 634.8,191.5 635.2,191.5 635.6,191.6 636.0,191.7 636.4,191.7 636.8,191.8 637.2,191.8 637.6,191.9 638.0,191.9 638.4,192.0 638.8,192.0 639.2,192.0 639.6,192.1 640.0,192.1 640.4,192.1 640.8,192.2 641.2,192.2 641.6,192.2 642.0,192.2 642.4,192.3 642.8,192.3 643.2,192.3 643.6,192.3 644.0,192.3 644.4,192.4 644.8,192.4 645.2,192.4 645.6,192.4 646.0,192.4 646.4,192.4 646.8,192.4 647.2,192.4 647.6,192.4 648.0,192.4 648.4,192.5 648.8,192.5 649.2,192.5 649.6,192.5 650.0,192.5 650.4,192.5 650.8,192.5 651.2,192.5 651.6,192.5 652.0,192.5 652.4,192.5 652.8,192.5 653.2,192.5 653.6,192.5 654.0,192.5 654.4,192.5 654.8,192.5 655.2,192.5 655.6,192.5 656.0,192.5 656.4,192.5 656.8,192.5 657.2,192.5 657.6,192.5 658.0,192.5 658.4,192.5 658.8,192.5 659.2,192.5 659.6,192.5 660.0,192.5 660.4,192.5 660.8,192.5 661.2,192.5 661.6,192.5 662.0,192.5 662.4,192.5 662.8,192.5 663.2,192.5 663.6,192.5 664.0,192.5 664.4,192.5 664.8,192.5" fill="none" stroke="#4a4a4a" stroke-width="0.75" stroke-linejoin="round" stroke-linecap="butt" />
<path d="M550.4,192.5 550.9,192.5 551.4,192.5 551.9,192.5 552.4,192.5 552.9,192.5 553.4,192.5 553.9,192.5 554.4,192.5 554.9,192.5 555.4,192.5 555.9,192.5 556.4,192.5 556.9,192.5 557.4,192.5 557.9,192.5 558.4,192.5 558.9,192.5 559.4,192.5 559.9,192.5 560.4,192.5 560.9,192.5 561.4,192.5 561.9,192.5 562.4,192.5 562.9,192.5 563.4,192.5 563.9,192.5 564.4,192.5 564.9,192.5 565.4,192.5 565.9,192.5 566.4,192.5 566.9,192.5 567.4,192.5 567.9,192.5 568.4,192.5 568.9,192.5 569.4,192.5 569.9,192.5 570.4,192.5 570.9,192.5 571.4,192.5 571.9,192.5 572.4,192.5 572.9,192.5 573.4,192.5 573.9,192.5 574.4,192.5 574.9,192.5 575.4,192.5 575.9,192.5 576.4,192.5 576.9,192.5 577.4,192.5 577.9,192.5 578.4,192.5 578.9,192.5 579.4,192.5 579.9,192.5 580.4,192.5 580.9,192.5 581.4,192.5 581.9,192.5 582.4,192.5 582.9,192.5 583.4,192.5 583.9,192.5 584.4,192.5 584.9,192.5 585.4,192.5 585.9,192.5 586.4,192.5 586.9,192.5 587.4,192.5 587.9,192.5 588.4,192.5 588.9,192.5 589.4,192.5 589.9,192.5 590.4,192.5 590.9,192.5 591.4,192.5 591.9,192.5 592.4,192.5 592.9,192.5 593.4,192.5 593.9,192.5 594.4,192.5 594.9,192.5 595.4,192.5 595.9,192.5 596.4,192.5 596.9,192.5 597.4,192.5 597.9,192.5 598.4,192.5 598.9,192.5 599.4,192.5 599.9,192.5 600.4,192.5 600.9,192.5 601.4,192.5 601.9,192.5 602.4,192.5 602.9,192.5 603.4,192.4 603.9,192.4 604.4,192.4 604.9,192.4 605.4,192.4 605.9,192.4 606.4,192.4 606.9,192.4 607.4,192.4 607.9,192.3 608.4,192.3 608.9,192.3 609.4,192.3 609.9,192.2 610.4,192.2 610.9,192.1 611.4,192.1 611.9,192.0 612.4,192.0 612.9,191.9 613.4,191.8 613.9,191.7 614.4,191.6 614.9,191.5 615.4,191.3 615.9,191.2 616.4,191.0 616.9,190.8 617.4,190.6 617.9,190.3 618.4,190.1 618.9,189.8 619.4,189.4 619.9,189.1 620.4,188.7 620.9,188.2 621.4,187.8 621.9,187.3 622.4,186.7 622.9,186.1 623.4,185.5 623.9,184.9 624.4,184.3 624.9,183.7 625.4,183.0 625.9,182.4 626.4,181.9 626.9,181.4 627.4,180.9 627.9,180.5 628.4,180.3 628.9,180.1 629.4,180.0 629.9,180.0 630.4,180.2 630.9,180.5 631.4,180.8 631.9,181.3 632.4,181.8 632.9,182.4 633.4,183.1 633.9,183.7 634.4,184.4 634.9,185.0 635.4,185.7 635.9,186.3 636.4,186.9 636.9,187.5 637.4,188.0 637.9,188.5 638.4,188.9 638.9,189.3 639.4,189.7 639.9,190.0 640.4,190.3 640.9,190.6 641.4,190.8 641.9,191.0 642.4,191.2 642.9,191.3 643.4,191.5 643.9,191.6 644.4,191.7 644.9,191.8 645.4,191.9 645.9,192.0 646.4,192.1 646.9,192.1 647.4,192.2 647.9,192.2 648.4,192.2 648.9,192.3 649.4,192.3 649.9,192.3 650.4,192.4 650.9,192.4 651.4,192.4 651.9,192.4 652.4,192.4 652.9,192.4 653.4,192.4 653.9,192.4 654.4,192.5 654.9,192.5 655.4,192.5 655.9,192.5 656.4,192.5 656.9,192.5 657.4,192.5 657.9,192.5 658.4,192.5 658.9,192.5 659.4,192.5 659.9,192.5 660.4,192.5 660.9,192.5 661.4,192.5 661.9,192.5 662.4,192.5 662.9,192.5 663.4,192.5 663.9,192.5 664.4,192.5 664.9,192.5 665.4,192.5 665.9,192.5 666.4,192.5 666.9,192.5 667.4,192.5 667.9,192.5 668.4,192.5 668.9,192.5 669.4,192.5 669.9,192.5 670.4,192.5 670.9,192.5 671.4,192.5 671.9,192.5 672.4,192.5 672.9,192.5 673.4,192.5 673.9,192.5 674.4,192.5 674.9,192.5 675.4,192.5 675.9,192.5 676.4,192.5 676.9,192.5 677.4,192.5 677.9,192.5 678.4,192.5 678.9,192.5 679.4,192.5 679.9,192.5 680.4,192.5 680.9,192.5 681.4,192.5 681.9,192.5 682.4,192.5 682.9,192.5 683.4,192.5 683.9,192.5 684.4,192.5 684.9,192.5 685.4,192.5 685.9,192.5 686.4,192.5 686.9,192.5 687.4,192.5 687.9,192.5 688.4,192.5 688.9,192.5 689.4,192.5 689.9,192.5 690.4,192.5 690.9,192.5 691.4,192.5 691.9,192.5" fill="none" stroke="#1d1da8" stroke-width="2.1" stroke-linejoin="round" stroke-linecap="butt" />
<path d="M550.4,192.5 550.9,192.5 551.4,192.5 551.9,192.5 552.4,192.5 552.9,192.5 553.4,192.5 553.9,192.5 554.4,192.5 554.9,192.5 555.4,192.5 555.9,192.5 556.4,192.5 556.9,192.5 557.4,192.5 557.9,192.5 558.4,192.5 558.9,192.5 559.4,192.5 559.9,192.5 560.4,192.5 560.9,192.5 561.4,192.5 561.9,192.5 562.4,192.5 562.9,192.5 563.4,192.5 563.9,192.5 564.4,192.5 564.9,192.5 565.4,192.5 565.9,192.5 566.4,192.5 566.9,192.5 567.4,192.5 567.9,192.5 568.4,192.5 568.9,192.5 569.4,192.5 569.9,192.5 570.4,192.5 570.9,192.5 571.4,192.5 571.9,192.5 572.4,192.5 572.9,192.5 573.4,192.5 573.9,192.5 574.4,192.5 574.9,192.5 575.4,192.5 575.9,192.5 576.4,192.5 576.9,192.5 577.4,192.5 577.9,192.5 578.4,192.5 578.9,192.5 579.4,192.5 579.9,192.5 580.4,192.5 580.9,192.5 581.4,192.5 581.9,192.5 582.4,192.5 582.9,192.5 583.4,192.5 583.9,192.5 584.4,192.5 584.9,192.5 585.4,192.5 585.9,192.5 586.4,192.5 586.9,192.5 587.4,192.5 587.9,192.5 588.4,192.5 588.9,192.5 589.4,192.5 589.9,192.5 590.4,192.4 590.9,192.4 591.4,192.4 591.9,192.4 592.4,192.4 592.9,192.4 593.4,192.4 593.9,192.4 594.4,192.4 594.9,192.3 595.4,192.3 595.9,192.3 596.4,192.3 596.9,192.2 597.4,192.2 597.9,192.2 598.4,192.1 598.9,192.1 599.4,192.0 599.9,192.0 600.4,191.9 600.9,191.8 601.4,191.7 601.9,191.6 602.4,191.5 602.9,191.4 603.4,191.3 603.9,191.1 604.4,190.9 604.9,190.7 605.4,190.5 605.9,190.2 606.4,189.9 606.9,189.6 607.4,189.2 607.9,188.8 608.4,188.4 608.9,187.8 609.4,187.3 609.9,186.6 610.4,185.9 610.9,185.1 611.4,184.2 611.9,183.2 612.4,182.1 612.9,180.9 613.4,179.6 613.9,178.2 614.4,176.6 614.9,174.9 615.4,173.1 615.9,171.1 616.4,169.1 616.9,166.9 617.4,164.6 617.9,162.3 618.4,159.9 618.9,157.4 619.4,155.0 619.9,152.7 620.4,150.5 620.9,148.4 621.4,146.5 621.9,144.9 622.4,143.5 622.9,142.5 623.4,141.9 623.9,141.6 624.4,141.7 624.9,142.1 625.4,142.8 625.9,143.8 626.4,145.0 626.9,146.4 627.4,148.1 627.9,149.9 628.4,151.9 628.9,153.9 629.4,156.0 629.9,158.2 630.4,160.3 630.9,162.5 631.4,164.5 631.9,166.6 632.4,168.5 632.9,170.4 633.4,172.2 633.9,173.9 634.4,175.4 634.9,176.9 635.4,178.3 635.9,179.6 636.4,180.7 636.9,181.8 637.4,182.8 637.9,183.7 638.4,184.6 638.9,185.3 639.4,186.0 639.9,186.7 640.4,187.3 640.9,187.8 641.4,188.2 641.9,188.7 642.4,189.1 642.9,189.4 643.4,189.7 643.9,190.0 644.4,190.3 644.9,190.5 645.4,190.7 645.9,190.9 646.4,191.0 646.9,191.2 647.4,191.3 647.9,191.4 648.4,191.6 648.9,191.7 649.4,191.7 649.9,191.8 650.4,191.9 650.9,192.0 651.4,192.0 651.9,192.1 652.4,192.1 652.9,192.1 653.4,192.2 653.9,192.2 654.4,192.2 654.9,192.3 655.4,192.3 655.9,192.3 656.4,192.3 656.9,192.4 657.4,192.4 657.9,192.4 658.4,192.4 658.9,192.4 659.4,192.4 659.9,192.4 660.4,192.4 660.9,192.4 661.4,192.4 661.9,192.5 662.4,192.5 662.9,192.5 663.4,192.5 663.9,192.5 664.4,192.5 664.9,192.5 665.4,192.5 665.9,192.5 666.4,192.5 666.9,192.5 667.4,192.5 667.9,192.5 668.4,192.5 668.9,192.5 669.4,192.5 669.9,192.5 670.4,192.5 670.9,192.5 671.4,192.5 671.9,192.5 672.4,192.5 672.9,192.5 673.4,192.5 673.9,192.5 674.4,192.5 674.9,192.5 675.4,192.5 675.9,192.5 676.4,192.5 676.9,192.5 677.4,192.5 677.9,192.5 678.4,192.5 678.9,192.5 679.4,192.5 679.9,192.5 680.4,192.5 680.9,192.5 681.4,192.5 681.9,192.5 682.4,192.5 682.9,192.5 683.4,192.5 683.9,192.5 684.4,192.5 684.9,192.5 685.4,192.5 685.9,192.5 686.4,192.5 686.9,192.5 687.4,192.5 687.9,192.5 688.4,192.5 688.9,192.5 689.4,192.5 689.9,192.5 690.4,192.5 690.9,192.5 691.4,192.5 691.9,192.5" fill="none" stroke="#1ea83c" stroke-width="2.1" stroke-linejoin="round" stroke-linecap="butt" />
<path d="M550.4,192.5 550.9,192.5 551.4,192.5 551.9,192.5 552.4,192.5 552.9,192.5 553.4,192.5 553.9,192.5 554.4,192.5 554.9,192.5 555.4,192.5 555.9,192.5 556.4,192.5 556.9,192.5 557.4,192.5 557.9,192.5 558.4,192.5 558.9,192.4 559.4,192.4 559.9,192.4 560.4,192.4 560.9,192.4 561.4,192.4 561.9,192.4 562.4,192.4 562.9,192.4 563.4,192.4 563.9,192.4 564.4,192.4 564.9,192.4 565.4,192.4 565.9,192.3 566.4,192.3 566.9,192.3 567.4,192.3 567.9,192.3 568.4,192.3 568.9,192.3 569.4,192.2 569.9,192.2 570.4,192.2 570.9,192.2 571.4,192.2 571.9,192.1 572.4,192.1 572.9,192.1 573.4,192.0 573.9,192.0 574.4,192.0 574.9,191.9 575.4,191.9 575.9,191.8 576.4,191.8 576.9,191.7 577.4,191.7 577.9,191.6 578.4,191.5 578.9,191.5 579.4,191.4 579.9,191.3 580.4,191.2 580.9,191.1 581.4,191.0 581.9,190.9 582.4,190.8 582.9,190.6 583.4,190.5 583.9,190.3 584.4,190.2 584.9,190.0 585.4,189.8 585.9,189.6 586.4,189.4 586.9,189.1 587.4,188.9 587.9,188.6 588.4,188.3 588.9,188.0 589.4,187.7 589.9,187.3 590.4,187.0 590.9,186.6 591.4,186.1 591.9,185.7 592.4,185.2 592.9,184.6 593.4,184.1 593.9,183.5 594.4,182.8 594.9,182.2 595.4,181.5 595.9,180.7 596.4,179.9 596.9,179.0 597.4,178.1 597.9,177.2 598.4,176.2 598.9,175.1 599.4,174.0 599.9,172.9 600.4,171.7 600.9,170.4 601.4,169.1 601.9,167.7 602.4,166.3 602.9,164.9 603.4,163.4 603.9,161.8 604.4,160.3 604.9,158.7 605.4,157.1 605.9,155.5 606.4,153.9 606.9,152.2 607.4,150.6 607.9,149.1 608.4,147.5 608.9,146.1 609.4,144.6 609.9,143.3 610.4,142.0 610.9,140.8 611.4,139.8 611.9,138.8 612.4,138.0 612.9,137.3 613.4,136.8 613.9,136.4 614.4,136.2 614.9,136.1 615.4,136.2 615.9,136.4 616.4,136.9 616.9,137.5 617.4,138.2 617.9,139.1 618.4,140.2 618.9,141.3 619.4,142.6 619.9,144.0 620.4,145.5 620.9,147.0 621.4,148.6 621.9,150.3 622.4,152.0 622.9,153.7 623.4,155.4 623.9,157.1 624.4,158.8 624.9,160.4 625.4,162.1 625.9,163.7 626.4,165.3 626.9,166.8 627.4,168.2 627.9,169.7 628.4,171.0 628.9,172.3 629.4,173.6 629.9,174.7 630.4,175.9 630.9,176.9 631.4,178.0 631.9,178.9 632.4,179.8 632.9,180.7 633.4,181.5 633.9,182.2 634.4,182.9 634.9,183.6 635.4,184.2 635.9,184.8 636.4,185.4 636.9,185.9 637.4,186.3 637.9,186.8 638.4,187.2 638.9,187.6 639.4,187.9 639.9,188.3 640.4,188.6 640.9,188.9 641.4,189.1 641.9,189.4 642.4,189.6 642.9,189.8 643.4,190.0 643.9,190.2 644.4,190.4 644.9,190.5 645.4,190.7 645.9,190.8 646.4,190.9 646.9,191.1 647.4,191.2 647.9,191.3 648.4,191.4 648.9,191.4 649.4,191.5 649.9,191.6 650.4,191.7 650.9,191.7 651.4,191.8 651.9,191.8 652.4,191.9 652.9,191.9 653.4,192.0 653.9,192.0 654.4,192.1 654.9,192.1 655.4,192.1 655.9,192.1 656.4,192.2 656.9,192.2 657.4,192.2 657.9,192.2 658.4,192.3 658.9,192.3 659.4,192.3 659.9,192.3 660.4,192.3 660.9,192.3 661.4,192.4 661.9,192.4 662.4,192.4 662.9,192.4 663.4,192.4 663.9,192.4 664.4,192.4 664.9,192.4 665.4,192.4 665.9,192.4 666.4,192.4 666.9,192.4 667.4,192.4 667.9,192.4 668.4,192.5 668.9,192.5 669.4,192.5 669.9,192.5 670.4,192.5 670.9,192.5 671.4,192.5 671.9,192.5 672.4,192.5 672.9,192.5 673.4,192.5 673.9,192.5 674.4,192.5 674.9,192.5 675.4,192.5 675.9,192.5 676.4,192.5 676.9,192.5 677.4,192.5 677.9,192.5 678.4,192.5 678.9,192.5 679.4,192.5 679.9,192.5 680.4,192.5 680.9,192.5 681.4,192.5 681.9,192.5 682.4,192.5 682.9,192.5 683.4,192.5 683.9,192.5 684.4,192.5 684.9,192.5 685.4,192.5 685.9,192.5 686.4,192.5 686.9,192.5 687.4,192.5 687.9,192.5 688.4,192.5 688.9,192.5 689.4,192.5 689.9,192.5 690.4,192.5 690.9,192.5 691.4,192.5 691.9,192.5" fill="none" stroke="#e8324a" stroke-width="2.1" stroke-linejoin="round" stroke-linecap="butt" />
</g>
<path d="M630.4,45 Q629.6,95 624.4,130.5" fill="none" stroke="#111" stroke-width="0.9"/>
<path d="M624.1,135.5 L622.1,128.6 L624.4,130.3 L626.4,129.4 Z" fill="#111"/>
<rect x="545.7" y="28.4" width="164.69999999999993" height="164.1" fill="none" stroke="#111" stroke-width="1.25"/>
<line x1="550.4" y1="192.5" x2="692" y2="192.5" stroke="#e8324a" stroke-width="1.2" opacity="0.55"/>
<line x1="545.70" y1="192.50" x2="545.70" y2="190.70" stroke="#111" stroke-width="0.85"/>
<line x1="545.70" y1="28.40" x2="545.70" y2="30.20" stroke="#111" stroke-width="0.85"/>
<line x1="553.94" y1="192.50" x2="553.94" y2="190.70" stroke="#111" stroke-width="0.85"/>
<line x1="553.94" y1="28.40" x2="553.94" y2="30.20" stroke="#111" stroke-width="0.85"/>
<line x1="562.17" y1="192.50" x2="562.17" y2="190.70" stroke="#111" stroke-width="0.85"/>
<line x1="562.17" y1="28.40" x2="562.17" y2="30.20" stroke="#111" stroke-width="0.85"/>
<line x1="570.41" y1="192.50" x2="570.41" y2="190.70" stroke="#111" stroke-width="0.85"/>
<line x1="570.41" y1="28.40" x2="570.41" y2="30.20" stroke="#111" stroke-width="0.85"/>
<line x1="578.64" y1="192.50" x2="578.64" y2="190.70" stroke="#111" stroke-width="0.85"/>
<line x1="578.64" y1="28.40" x2="578.64" y2="30.20" stroke="#111" stroke-width="0.85"/>
<line x1="586.88" y1="192.50" x2="586.88" y2="190.70" stroke="#111" stroke-width="0.85"/>
<line x1="586.88" y1="28.40" x2="586.88" y2="30.20" stroke="#111" stroke-width="0.85"/>
<line x1="595.11" y1="192.50" x2="595.11" y2="190.70" stroke="#111" stroke-width="0.85"/>
<line x1="595.11" y1="28.40" x2="595.11" y2="30.20" stroke="#111" stroke-width="0.85"/>
<line x1="603.35" y1="192.50" x2="603.35" y2="190.70" stroke="#111" stroke-width="0.85"/>
<line x1="603.35" y1="28.40" x2="603.35" y2="30.20" stroke="#111" stroke-width="0.85"/>
<line x1="611.58" y1="192.50" x2="611.58" y2="190.70" stroke="#111" stroke-width="0.85"/>
<line x1="611.58" y1="28.40" x2="611.58" y2="30.20" stroke="#111" stroke-width="0.85"/>
<line x1="619.82" y1="192.50" x2="619.82" y2="190.70" stroke="#111" stroke-width="0.85"/>
<line x1="619.82" y1="28.40" x2="619.82" y2="30.20" stroke="#111" stroke-width="0.85"/>
<line x1="628.05" y1="192.50" x2="628.05" y2="190.70" stroke="#111" stroke-width="0.85"/>
<line x1="628.05" y1="28.40" x2="628.05" y2="30.20" stroke="#111" stroke-width="0.85"/>
<line x1="636.29" y1="192.50" x2="636.29" y2="190.70" stroke="#111" stroke-width="0.85"/>
<line x1="636.29" y1="28.40" x2="636.29" y2="30.20" stroke="#111" stroke-width="0.85"/>
<line x1="644.52" y1="192.50" x2="644.52" y2="190.70" stroke="#111" stroke-width="0.85"/>
<line x1="644.52" y1="28.40" x2="644.52" y2="30.20" stroke="#111" stroke-width="0.85"/>
<line x1="652.75" y1="192.50" x2="652.75" y2="190.70" stroke="#111" stroke-width="0.85"/>
<line x1="652.75" y1="28.40" x2="652.75" y2="30.20" stroke="#111" stroke-width="0.85"/>
<line x1="660.99" y1="192.50" x2="660.99" y2="190.70" stroke="#111" stroke-width="0.85"/>
<line x1="660.99" y1="28.40" x2="660.99" y2="30.20" stroke="#111" stroke-width="0.85"/>
<line x1="669.22" y1="192.50" x2="669.22" y2="190.70" stroke="#111" stroke-width="0.85"/>
<line x1="669.22" y1="28.40" x2="669.22" y2="30.20" stroke="#111" stroke-width="0.85"/>
<line x1="677.46" y1="192.50" x2="677.46" y2="190.70" stroke="#111" stroke-width="0.85"/>
<line x1="677.46" y1="28.40" x2="677.46" y2="30.20" stroke="#111" stroke-width="0.85"/>
<line x1="685.69" y1="192.50" x2="685.69" y2="190.70" stroke="#111" stroke-width="0.85"/>
<line x1="685.69" y1="28.40" x2="685.69" y2="30.20" stroke="#111" stroke-width="0.85"/>
<line x1="693.93" y1="192.50" x2="693.93" y2="190.70" stroke="#111" stroke-width="0.85"/>
<line x1="693.93" y1="28.40" x2="693.93" y2="30.20" stroke="#111" stroke-width="0.85"/>
<line x1="702.16" y1="192.50" x2="702.16" y2="190.70" stroke="#111" stroke-width="0.85"/>
<line x1="702.16" y1="28.40" x2="702.16" y2="30.20" stroke="#111" stroke-width="0.85"/>
<line x1="710.40" y1="192.50" x2="710.40" y2="190.70" stroke="#111" stroke-width="0.85"/>
<line x1="710.40" y1="28.40" x2="710.40" y2="30.20" stroke="#111" stroke-width="0.85"/>
<line x1="545.70" y1="192.50" x2="545.70" y2="189.40" stroke="#111" stroke-width="0.85"/>
<line x1="545.70" y1="28.40" x2="545.70" y2="31.50" stroke="#111" stroke-width="0.85"/>
<line x1="586.87" y1="192.50" x2="586.87" y2="189.40" stroke="#111" stroke-width="0.85"/>
<line x1="586.87" y1="28.40" x2="586.87" y2="31.50" stroke="#111" stroke-width="0.85"/>
<line x1="628.05" y1="192.50" x2="628.05" y2="189.40" stroke="#111" stroke-width="0.85"/>
<line x1="628.05" y1="28.40" x2="628.05" y2="31.50" stroke="#111" stroke-width="0.85"/>
<line x1="669.22" y1="192.50" x2="669.22" y2="189.40" stroke="#111" stroke-width="0.85"/>
<line x1="669.22" y1="28.40" x2="669.22" y2="31.50" stroke="#111" stroke-width="0.85"/>
<line x1="710.40" y1="192.50" x2="710.40" y2="189.40" stroke="#111" stroke-width="0.85"/>
<line x1="710.40" y1="28.40" x2="710.40" y2="31.50" stroke="#111" stroke-width="0.85"/>
<line x1="545.70" y1="192.50" x2="547.50" y2="192.50" stroke="#111" stroke-width="0.85"/>
<line x1="710.40" y1="192.50" x2="708.60" y2="192.50" stroke="#111" stroke-width="0.85"/>
<line x1="545.70" y1="188.40" x2="547.50" y2="188.40" stroke="#111" stroke-width="0.85"/>
<line x1="710.40" y1="188.40" x2="708.60" y2="188.40" stroke="#111" stroke-width="0.85"/>
<line x1="545.70" y1="184.30" x2="547.50" y2="184.30" stroke="#111" stroke-width="0.85"/>
<line x1="710.40" y1="184.30" x2="708.60" y2="184.30" stroke="#111" stroke-width="0.85"/>
<line x1="545.70" y1="180.20" x2="547.50" y2="180.20" stroke="#111" stroke-width="0.85"/>
<line x1="710.40" y1="180.20" x2="708.60" y2="180.20" stroke="#111" stroke-width="0.85"/>
<line x1="545.70" y1="176.10" x2="547.50" y2="176.10" stroke="#111" stroke-width="0.85"/>
<line x1="710.40" y1="176.10" x2="708.60" y2="176.10" stroke="#111" stroke-width="0.85"/>
<line x1="545.70" y1="172.00" x2="547.50" y2="172.00" stroke="#111" stroke-width="0.85"/>
<line x1="710.40" y1="172.00" x2="708.60" y2="172.00" stroke="#111" stroke-width="0.85"/>
<line x1="545.70" y1="167.90" x2="547.50" y2="167.90" stroke="#111" stroke-width="0.85"/>
<line x1="710.40" y1="167.90" x2="708.60" y2="167.90" stroke="#111" stroke-width="0.85"/>
<line x1="545.70" y1="163.80" x2="547.50" y2="163.80" stroke="#111" stroke-width="0.85"/>
<line x1="710.40" y1="163.80" x2="708.60" y2="163.80" stroke="#111" stroke-width="0.85"/>
<line x1="545.70" y1="159.70" x2="547.50" y2="159.70" stroke="#111" stroke-width="0.85"/>
<line x1="710.40" y1="159.70" x2="708.60" y2="159.70" stroke="#111" stroke-width="0.85"/>
<line x1="545.70" y1="155.60" x2="547.50" y2="155.60" stroke="#111" stroke-width="0.85"/>
<line x1="710.40" y1="155.60" x2="708.60" y2="155.60" stroke="#111" stroke-width="0.85"/>
<line x1="545.70" y1="151.50" x2="547.50" y2="151.50" stroke="#111" stroke-width="0.85"/>
<line x1="710.40" y1="151.50" x2="708.60" y2="151.50" stroke="#111" stroke-width="0.85"/>
<line x1="545.70" y1="147.40" x2="547.50" y2="147.40" stroke="#111" stroke-width="0.85"/>
<line x1="710.40" y1="147.40" x2="708.60" y2="147.40" stroke="#111" stroke-width="0.85"/>
<line x1="545.70" y1="143.30" x2="547.50" y2="143.30" stroke="#111" stroke-width="0.85"/>
<line x1="710.40" y1="143.30" x2="708.60" y2="143.30" stroke="#111" stroke-width="0.85"/>
<line x1="545.70" y1="139.20" x2="547.50" y2="139.20" stroke="#111" stroke-width="0.85"/>
<line x1="710.40" y1="139.20" x2="708.60" y2="139.20" stroke="#111" stroke-width="0.85"/>
<line x1="545.70" y1="135.10" x2="547.50" y2="135.10" stroke="#111" stroke-width="0.85"/>
<line x1="710.40" y1="135.10" x2="708.60" y2="135.10" stroke="#111" stroke-width="0.85"/>
<line x1="545.70" y1="131.00" x2="547.50" y2="131.00" stroke="#111" stroke-width="0.85"/>
<line x1="710.40" y1="131.00" x2="708.60" y2="131.00" stroke="#111" stroke-width="0.85"/>
<line x1="545.70" y1="126.90" x2="547.50" y2="126.90" stroke="#111" stroke-width="0.85"/>
<line x1="710.40" y1="126.90" x2="708.60" y2="126.90" stroke="#111" stroke-width="0.85"/>
<line x1="545.70" y1="122.80" x2="547.50" y2="122.80" stroke="#111" stroke-width="0.85"/>
<line x1="710.40" y1="122.80" x2="708.60" y2="122.80" stroke="#111" stroke-width="0.85"/>
<line x1="545.70" y1="118.70" x2="547.50" y2="118.70" stroke="#111" stroke-width="0.85"/>
<line x1="710.40" y1="118.70" x2="708.60" y2="118.70" stroke="#111" stroke-width="0.85"/>
<line x1="545.70" y1="114.60" x2="547.50" y2="114.60" stroke="#111" stroke-width="0.85"/>
<line x1="710.40" y1="114.60" x2="708.60" y2="114.60" stroke="#111" stroke-width="0.85"/>
<line x1="545.70" y1="110.50" x2="547.50" y2="110.50" stroke="#111" stroke-width="0.85"/>
<line x1="710.40" y1="110.50" x2="708.60" y2="110.50" stroke="#111" stroke-width="0.85"/>
<line x1="545.70" y1="106.40" x2="547.50" y2="106.40" stroke="#111" stroke-width="0.85"/>
<line x1="710.40" y1="106.40" x2="708.60" y2="106.40" stroke="#111" stroke-width="0.85"/>
<line x1="545.70" y1="102.30" x2="547.50" y2="102.30" stroke="#111" stroke-width="0.85"/>
<line x1="710.40" y1="102.30" x2="708.60" y2="102.30" stroke="#111" stroke-width="0.85"/>
<line x1="545.70" y1="98.20" x2="547.50" y2="98.20" stroke="#111" stroke-width="0.85"/>
<line x1="710.40" y1="98.20" x2="708.60" y2="98.20" stroke="#111" stroke-width="0.85"/>
<line x1="545.70" y1="94.10" x2="547.50" y2="94.10" stroke="#111" stroke-width="0.85"/>
<line x1="710.40" y1="94.10" x2="708.60" y2="94.10" stroke="#111" stroke-width="0.85"/>
<line x1="545.70" y1="90.00" x2="547.50" y2="90.00" stroke="#111" stroke-width="0.85"/>
<line x1="710.40" y1="90.00" x2="708.60" y2="90.00" stroke="#111" stroke-width="0.85"/>
<line x1="545.70" y1="85.90" x2="547.50" y2="85.90" stroke="#111" stroke-width="0.85"/>
<line x1="710.40" y1="85.90" x2="708.60" y2="85.90" stroke="#111" stroke-width="0.85"/>
<line x1="545.70" y1="81.80" x2="547.50" y2="81.80" stroke="#111" stroke-width="0.85"/>
<line x1="710.40" y1="81.80" x2="708.60" y2="81.80" stroke="#111" stroke-width="0.85"/>
<line x1="545.70" y1="77.70" x2="547.50" y2="77.70" stroke="#111" stroke-width="0.85"/>
<line x1="710.40" y1="77.70" x2="708.60" y2="77.70" stroke="#111" stroke-width="0.85"/>
<line x1="545.70" y1="73.60" x2="547.50" y2="73.60" stroke="#111" stroke-width="0.85"/>
<line x1="710.40" y1="73.60" x2="708.60" y2="73.60" stroke="#111" stroke-width="0.85"/>
<line x1="545.70" y1="69.50" x2="547.50" y2="69.50" stroke="#111" stroke-width="0.85"/>
<line x1="710.40" y1="69.50" x2="708.60" y2="69.50" stroke="#111" stroke-width="0.85"/>
<line x1="545.70" y1="65.40" x2="547.50" y2="65.40" stroke="#111" stroke-width="0.85"/>
<line x1="710.40" y1="65.40" x2="708.60" y2="65.40" stroke="#111" stroke-width="0.85"/>
<line x1="545.70" y1="61.30" x2="547.50" y2="61.30" stroke="#111" stroke-width="0.85"/>
<line x1="710.40" y1="61.30" x2="708.60" y2="61.30" stroke="#111" stroke-width="0.85"/>
<line x1="545.70" y1="57.20" x2="547.50" y2="57.20" stroke="#111" stroke-width="0.85"/>
<line x1="710.40" y1="57.20" x2="708.60" y2="57.20" stroke="#111" stroke-width="0.85"/>
<line x1="545.70" y1="53.10" x2="547.50" y2="53.10" stroke="#111" stroke-width="0.85"/>
<line x1="710.40" y1="53.10" x2="708.60" y2="53.10" stroke="#111" stroke-width="0.85"/>
<line x1="545.70" y1="49.00" x2="547.50" y2="49.00" stroke="#111" stroke-width="0.85"/>
<line x1="710.40" y1="49.00" x2="708.60" y2="49.00" stroke="#111" stroke-width="0.85"/>
<line x1="545.70" y1="44.90" x2="547.50" y2="44.90" stroke="#111" stroke-width="0.85"/>
<line x1="710.40" y1="44.90" x2="708.60" y2="44.90" stroke="#111" stroke-width="0.85"/>
<line x1="545.70" y1="40.80" x2="547.50" y2="40.80" stroke="#111" stroke-width="0.85"/>
<line x1="710.40" y1="40.80" x2="708.60" y2="40.80" stroke="#111" stroke-width="0.85"/>
<line x1="545.70" y1="36.70" x2="547.50" y2="36.70" stroke="#111" stroke-width="0.85"/>
<line x1="710.40" y1="36.70" x2="708.60" y2="36.70" stroke="#111" stroke-width="0.85"/>
<line x1="545.70" y1="32.60" x2="547.50" y2="32.60" stroke="#111" stroke-width="0.85"/>
<line x1="710.40" y1="32.60" x2="708.60" y2="32.60" stroke="#111" stroke-width="0.85"/>
<line x1="545.70" y1="28.50" x2="547.50" y2="28.50" stroke="#111" stroke-width="0.85"/>
<line x1="710.40" y1="28.50" x2="708.60" y2="28.50" stroke="#111" stroke-width="0.85"/>
<line x1="545.70" y1="192.50" x2="548.80" y2="192.50" stroke="#111" stroke-width="0.85"/>
<line x1="710.40" y1="192.50" x2="707.30" y2="192.50" stroke="#111" stroke-width="0.85"/>
<line x1="545.70" y1="172.00" x2="548.80" y2="172.00" stroke="#111" stroke-width="0.85"/>
<line x1="710.40" y1="172.00" x2="707.30" y2="172.00" stroke="#111" stroke-width="0.85"/>
<line x1="545.70" y1="151.50" x2="548.80" y2="151.50" stroke="#111" stroke-width="0.85"/>
<line x1="710.40" y1="151.50" x2="707.30" y2="151.50" stroke="#111" stroke-width="0.85"/>
<line x1="545.70" y1="131.00" x2="548.80" y2="131.00" stroke="#111" stroke-width="0.85"/>
<line x1="710.40" y1="131.00" x2="707.30" y2="131.00" stroke="#111" stroke-width="0.85"/>
<line x1="545.70" y1="110.50" x2="548.80" y2="110.50" stroke="#111" stroke-width="0.85"/>
<line x1="710.40" y1="110.50" x2="707.30" y2="110.50" stroke="#111" stroke-width="0.85"/>
<line x1="545.70" y1="90.00" x2="548.80" y2="90.00" stroke="#111" stroke-width="0.85"/>
<line x1="710.40" y1="90.00" x2="707.30" y2="90.00" stroke="#111" stroke-width="0.85"/>
<line x1="545.70" y1="69.50" x2="548.80" y2="69.50" stroke="#111" stroke-width="0.85"/>
<line x1="710.40" y1="69.50" x2="707.30" y2="69.50" stroke="#111" stroke-width="0.85"/>
<line x1="545.70" y1="49.00" x2="548.80" y2="49.00" stroke="#111" stroke-width="0.85"/>
<line x1="710.40" y1="49.00" x2="707.30" y2="49.00" stroke="#111" stroke-width="0.85"/>
<line x1="545.70" y1="28.50" x2="548.80" y2="28.50" stroke="#111" stroke-width="0.85"/>
<line x1="710.40" y1="28.50" x2="707.30" y2="28.50" stroke="#111" stroke-width="0.85"/>
<text x="539.3" y="36.0" font-size="13.8" text-anchor="end" font-weight="normal" font-style="normal" fill="#1a1a1a" >4</text>
<text x="539.3" y="74.9" font-size="13.8" text-anchor="end" font-weight="normal" font-style="normal" fill="#1a1a1a" >3</text>
<text x="539.3" y="116.10000000000001" font-size="13.8" text-anchor="end" font-weight="normal" font-style="normal" fill="#1a1a1a" >2</text>
<text x="539.3" y="156.3" font-size="13.8" text-anchor="end" font-weight="normal" font-style="normal" fill="#1a1a1a" >1</text>
<text x="539.3" y="195.70000000000002" font-size="13.8" text-anchor="end" font-weight="normal" font-style="normal" fill="#1a1a1a" >0</text>
<text x="545.7" y="207.3" font-size="13.8" text-anchor="middle" font-weight="normal" font-style="normal" fill="#1a1a1a" >1.1</text>
<text x="586.8749999999999" y="207.3" font-size="13.8" text-anchor="middle" font-weight="normal" font-style="normal" fill="#1a1a1a" >1.15</text>
<text x="628.05" y="207.3" font-size="13.8" text-anchor="middle" font-weight="normal" font-style="normal" fill="#1a1a1a" >1.2</text>
<text x="669.2249999999999" y="207.3" font-size="13.8" text-anchor="middle" font-weight="normal" font-style="normal" fill="#1a1a1a" >1.25</text>
<text x="631.5" y="224.8" font-size="12.6" text-anchor="middle" font-weight="normal" font-style="normal" fill="#1a1a1a" >TH wavelength (&#956;m)</text>
<text x="523.0" y="108.9" font-size="13.8" text-anchor="middle" font-weight="normal" font-style="normal" fill="#1a1a1a" transform="rotate(-90 523.0 108.9)" >TH intensity (arb. un.)</text>
<text x="522.3" y="10.5" font-size="14.3" text-anchor="start" font-weight="bold" font-style="normal" fill="#000" >c</text>
<text x="642.8" y="46.8" font-size="11.9" text-anchor="start" font-weight="normal" font-style="normal" fill="#1a1a1a" >Passive</text>
<text x="642.8" y="64.0" font-size="11.9" fill="#1a1a1a"><tspan font-style="italic">&#969;</tspan><tspan class="sb" font-size="6" dy="2.6">R</tspan><tspan dy="-2.6"> sweep</tspan></text>
<text x="642.8" y="82.2" font-size="11.9" fill="#1a1a1a"><tspan font-style="italic">&#296;</tspan> = 1.3<tspan font-style="italic">&#296;</tspan><tspan class="sb" font-size="6.2" dy="2.6">c</tspan></text>
<text x="552.4" y="120.4" font-size="11.9" text-anchor="start" font-weight="normal" font-style="normal" fill="#1a1a1a" >TH by PA</text>
<text x="552.6" y="138.0" font-size="11.9" text-anchor="start" font-weight="normal" font-style="normal" fill="#1a1a1a" >eff. &#8776; 22%</text>
<path d="M587.6,141.3 Q589.5,151.5 597.9,157.5" fill="none" stroke="#111" stroke-width="0.9"/>
<path d="M602.3,160.5 L595.0,158.8 L597.9,157.4 L599.2,154.5 Z" fill="#111"/>
<line x1="650.60" y1="137.20" x2="668.20" y2="137.20" stroke="#1d1da8" stroke-width="2.0"/>
<text x="674.4" y="141.5" font-size="11.9" fill="#1a1a1a" text-anchor="start">0.6<tspan font-style="italic">&#296;</tspan><tspan class="sb" font-size="5.6" dy="2.6">c</tspan></text>
<line x1="650.60" y1="152.60" x2="668.20" y2="152.60" stroke="#1ea83c" stroke-width="2.0"/>
<text x="674.4" y="156.9" font-size="11.9" fill="#1a1a1a" text-anchor="start"><tspan font-style="italic">&#296;</tspan><tspan class="sb" font-size="5.6" dy="2.6">c</tspan></text>
<line x1="650.60" y1="168.20" x2="668.20" y2="168.20" stroke="#e8324a" stroke-width="2.0"/>
<text x="674.4" y="172.5" font-size="11.9" fill="#1a1a1a" text-anchor="start">1.3<tspan font-style="italic">&#296;</tspan><tspan class="sb" font-size="5.6" dy="2.6">c</tspan></text>
<clipPath id="cd"><rect x="41.9" y="265.0" width="170.5" height="170.2"/></clipPath>
<g clip-path="url(#cd)">
<path d="M41.9,431.6 42.4,431.6 42.9,431.6 43.4,431.6 43.9,431.6 44.4,431.6 44.9,431.6 45.4,431.6 45.9,431.6 46.4,431.6 46.9,431.6 47.4,431.6 47.9,431.6 48.4,431.6 48.9,431.6 49.4,431.6 49.9,431.6 50.4,431.6 50.9,431.6 51.4,431.6 51.9,431.6 52.4,431.6 52.9,431.6 53.4,431.6 53.9,431.6 54.4,431.6 54.9,431.6 55.4,431.6 55.9,431.6 56.4,431.6 56.9,431.6 57.4,431.6 57.9,431.6 58.4,431.6 58.9,431.6 59.4,431.6 59.9,431.6 60.4,431.6 60.9,431.6 61.4,431.6 61.9,431.6 62.4,431.6 62.9,431.6 63.4,431.6 63.9,431.6 64.4,431.6 64.9,431.6 65.4,431.6 65.9,431.6 66.4,431.6 66.9,431.6 67.4,431.6 67.9,431.6 68.4,431.6 68.9,431.6 69.4,431.6 69.9,431.6 70.4,431.6 70.9,431.6 71.4,431.6 71.9,431.6 72.4,431.6 72.9,431.6 73.4,431.6 73.9,431.6 74.4,431.6 74.9,431.6 75.4,431.6 75.9,431.6 76.4,431.6 76.9,431.6 77.4,431.6 77.9,431.6 78.4,431.6 78.9,431.6 79.4,431.6 79.9,431.6 80.4,431.6 80.9,431.6 81.4,431.6 81.9,431.6 82.4,431.6 82.9,431.6 83.4,431.6 83.9,431.6 84.4,431.6 84.9,431.6 85.4,431.6 85.9,431.6 86.4,431.6 86.9,431.6 87.4,431.6 87.9,431.6 88.4,431.6 88.9,431.6 89.4,431.6 89.9,431.6 90.4,431.6 90.9,431.6 91.4,431.6 91.9,431.6 92.4,431.6 92.9,431.6 93.4,431.6 93.9,431.6 94.4,431.6 94.9,431.6 95.4,431.6 95.9,431.6 96.4,431.6 96.9,431.6 97.4,431.6 97.9,431.6 98.4,431.6 98.9,431.6 99.4,431.6 99.9,431.6 100.4,431.6 100.9,431.6 101.4,431.6 101.9,431.6 102.4,431.6 102.9,431.6 103.4,431.5 103.9,431.5 104.4,431.5 104.9,431.5 105.4,431.5 105.9,431.5 106.4,431.5 106.9,431.5 107.4,431.5 107.9,431.5 108.4,431.5 108.9,431.5 109.4,431.4 109.9,431.4 110.4,431.4 110.9,431.4 111.4,431.4 111.9,431.3 112.4,431.3 112.9,431.3 113.4,431.3 113.9,431.2 114.4,431.2 114.9,431.2 115.4,431.1 115.9,431.1 116.4,431.0 116.9,431.0 117.4,430.9 117.9,430.9 118.4,430.8 118.9,430.7 119.4,430.7 119.9,430.6 120.4,430.5 120.9,430.5 121.4,430.4 121.9,430.3 122.4,430.2 122.9,430.1 123.4,430.1 123.9,430.0 124.4,429.9 124.9,429.9 125.4,429.8 125.9,429.7 126.4,429.7 126.9,429.7 127.4,429.6 127.9,429.6 128.4,429.6 128.9,429.6 129.4,429.6 129.9,429.6 130.4,429.7 130.9,429.7 131.4,429.7 131.9,429.8 132.4,429.9 132.9,429.9 133.4,430.0 133.9,430.1 134.4,430.1 134.9,430.2 135.4,430.3 135.9,430.4 136.4,430.4 136.9,430.5 137.4,430.6 137.9,430.7 138.4,430.7 138.9,430.8 139.4,430.8 139.9,430.9 140.4,431.0 140.9,431.0 141.4,431.1 141.9,431.1 142.4,431.1 142.9,431.2 143.4,431.2 143.9,431.3 144.4,431.3 144.9,431.3 145.4,431.3 145.9,431.4 146.4,431.4 146.9,431.4 147.4,431.4 147.9,431.4 148.4,431.5 148.9,431.5 149.4,431.5 149.9,431.5 150.4,431.5 150.9,431.5 151.4,431.5 151.9,431.5 152.4,431.5 152.9,431.5 153.4,431.5 153.9,431.5 154.4,431.6 154.9,431.6 155.4,431.6 155.9,431.6 156.4,431.6 156.9,431.6 157.4,431.6 157.9,431.6 158.4,431.6 158.9,431.6 159.4,431.6 159.9,431.6 160.4,431.6 160.9,431.6 161.4,431.6 161.9,431.6 162.4,431.6 162.9,431.6 163.4,431.6 163.9,431.6 164.4,431.6 164.9,431.6 165.4,431.6 165.9,431.6 166.4,431.6 166.9,431.6 167.4,431.6 167.9,431.6 168.4,431.6 168.9,431.6 169.4,431.6 169.9,431.6 170.4,431.6 170.9,431.6 171.4,431.6 171.9,431.6 172.4,431.6 172.9,431.6 173.4,431.6 173.9,431.6 174.4,431.6 174.9,431.6 175.4,431.6 175.9,431.6 176.4,431.6 176.9,431.6 177.4,431.6 177.9,431.6 178.4,431.6 178.9,431.6 179.4,431.6 179.9,431.6 180.4,431.6 180.9,431.6 181.4,431.6 181.9,431.6 182.4,431.6 182.9,431.6 183.4,431.6 183.9,431.6 184.4,431.6 184.9,431.6 185.4,431.6 185.9,431.6 186.4,431.6 186.9,431.6 187.4,431.6 187.9,431.6 188.4,431.6 188.9,431.6 189.4,431.6 189.9,431.6 190.4,431.6 190.9,431.6 191.4,431.6 191.9,431.6 192.4,431.6 192.9,431.6 193.4,431.6 193.9,431.6 194.4,431.6 194.9,431.6 195.4,431.6 195.9,431.6 196.4,431.6 196.9,431.6 197.4,431.6 197.9,431.6 198.4,431.6 198.9,431.6 199.4,431.6 199.9,431.6 200.4,431.6 200.9,431.6 201.4,431.6 201.9,431.6 202.4,431.6 202.9,431.6 203.4,431.6 203.9,431.6 204.4,431.6 204.9,431.6 205.4,431.6 205.9,431.6 206.4,431.6 206.9,431.6 207.4,431.6 207.9,431.6 208.4,431.6 208.9,431.6 209.4,431.6 209.9,431.6 210.4,431.6 210.9,431.6 211.4,431.6 211.9,431.6 212.4,431.6" fill="none" stroke="#2166ac" stroke-width="2.1" stroke-linejoin="round" stroke-linecap="butt" />
<path d="M41.9,431.6 42.4,431.6 42.9,431.6 43.4,431.6 43.9,431.6 44.4,431.6 44.9,431.6 45.4,431.6 45.9,431.6 46.4,431.6 46.9,431.6 47.4,431.6 47.9,431.6 48.4,431.6 48.9,431.6 49.4,431.6 49.9,431.6 50.4,431.6 50.9,431.6 51.4,431.6 51.9,431.6 52.4,431.6 52.9,431.6 53.4,431.6 53.9,431.6 54.4,431.6 54.9,431.6 55.4,431.6 55.9,431.6 56.4,431.6 56.9,431.6 57.4,431.6 57.9,431.6 58.4,431.6 58.9,431.6 59.4,431.6 59.9,431.6 60.4,431.6 60.9,431.6 61.4,431.6 61.9,431.6 62.4,431.6 62.9,431.6 63.4,431.6 63.9,431.6 64.4,431.6 64.9,431.6 65.4,431.6 65.9,431.6 66.4,431.6 66.9,431.6 67.4,431.6 67.9,431.6 68.4,431.6 68.9,431.6 69.4,431.6 69.9,431.6 70.4,431.6 70.9,431.6 71.4,431.6 71.9,431.6 72.4,431.6 72.9,431.6 73.4,431.6 73.9,431.6 74.4,431.6 74.9,431.6 75.4,431.6 75.9,431.6 76.4,431.6 76.9,431.6 77.4,431.6 77.9,431.6 78.4,431.6 78.9,431.6 79.4,431.6 79.9,431.6 80.4,431.6 80.9,431.6 81.4,431.6 81.9,431.6 82.4,431.6 82.9,431.6 83.4,431.6 83.9,431.6 84.4,431.6 84.9,431.6 85.4,431.6 85.9,431.6 86.4,431.6 86.9,431.6 87.4,431.6 87.9,431.6 88.4,431.6 88.9,431.6 89.4,431.6 89.9,431.6 90.4,431.6 90.9,431.6 91.4,431.6 91.9,431.6 92.4,431.6 92.9,431.5 93.4,431.5 93.9,431.5 94.4,431.5 94.9,431.5 95.4,431.5 95.9,431.5 96.4,431.5 96.9,431.5 97.4,431.5 97.9,431.5 98.4,431.4 98.9,431.4 99.4,431.4 99.9,431.4 100.4,431.4 100.9,431.3 101.4,431.3 101.9,431.3 102.4,431.3 102.9,431.2 103.4,431.2 103.9,431.1 104.4,431.1 104.9,431.0 105.4,431.0 105.9,430.9 106.4,430.9 106.9,430.8 107.4,430.7 107.9,430.6 108.4,430.5 108.9,430.4 109.4,430.3 109.9,430.1 110.4,430.0 110.9,429.8 111.4,429.7 111.9,429.5 112.4,429.3 112.9,429.1 113.4,428.8 113.9,428.6 114.4,428.3 114.9,428.0 115.4,427.7 115.9,427.3 116.4,426.9 116.9,426.6 117.4,426.1 117.9,425.7 118.4,425.2 118.9,424.7 119.4,424.2 119.9,423.7 120.4,423.1 120.9,422.6 121.4,422.0 121.9,421.4 122.4,420.8 122.9,420.3 123.4,419.7 123.9,419.2 124.4,418.7 124.9,418.2 125.4,417.7 125.9,417.4 126.4,417.0 126.9,416.8 127.4,416.6 127.9,416.5 128.4,416.4 128.9,416.4 129.4,416.5 129.9,416.7 130.4,416.9 130.9,417.2 131.4,417.6 131.9,418.0 132.4,418.5 132.9,419.0 133.4,419.5 133.9,420.0 134.4,420.6 134.9,421.2 135.4,421.8 135.9,422.3 136.4,422.9 136.9,423.5 137.4,424.0 137.9,424.5 138.4,425.0 138.9,425.5 139.4,426.0 139.9,426.4 140.4,426.8 140.9,427.2 141.4,427.5 141.9,427.9 142.4,428.2 142.9,428.5 143.4,428.7 143.9,429.0 144.4,429.2 144.9,429.4 145.4,429.6 145.9,429.8 146.4,429.9 146.9,430.1 147.4,430.2 147.9,430.3 148.4,430.5 148.9,430.6 149.4,430.7 149.9,430.7 150.4,430.8 150.9,430.9 151.4,431.0 151.9,431.0 152.4,431.1 152.9,431.1 153.4,431.2 153.9,431.2 154.4,431.2 154.9,431.3 155.4,431.3 155.9,431.3 156.4,431.4 156.9,431.4 157.4,431.4 157.9,431.4 158.4,431.4 158.9,431.5 159.4,431.5 159.9,431.5 160.4,431.5 160.9,431.5 161.4,431.5 161.9,431.5 162.4,431.5 162.9,431.5 163.4,431.5 163.9,431.5 164.4,431.6 164.9,431.6 165.4,431.6 165.9,431.6 166.4,431.6 166.9,431.6 167.4,431.6 167.9,431.6 168.4,431.6 168.9,431.6 169.4,431.6 169.9,431.6 170.4,431.6 170.9,431.6 171.4,431.6 171.9,431.6 172.4,431.6 172.9,431.6 173.4,431.6 173.9,431.6 174.4,431.6 174.9,431.6 175.4,431.6 175.9,431.6 176.4,431.6 176.9,431.6 177.4,431.6 177.9,431.6 178.4,431.6 178.9,431.6 179.4,431.6 179.9,431.6 180.4,431.6 180.9,431.6 181.4,431.6 181.9,431.6 182.4,431.6 182.9,431.6 183.4,431.6 183.9,431.6 184.4,431.6 184.9,431.6 185.4,431.6 185.9,431.6 186.4,431.6 186.9,431.6 187.4,431.6 187.9,431.6 188.4,431.6 188.9,431.6 189.4,431.6 189.9,431.6 190.4,431.6 190.9,431.6 191.4,431.6 191.9,431.6 192.4,431.6 192.9,431.6 193.4,431.6 193.9,431.6 194.4,431.6 194.9,431.6 195.4,431.6 195.9,431.6 196.4,431.6 196.9,431.6 197.4,431.6 197.9,431.6 198.4,431.6 198.9,431.6 199.4,431.6 199.9,431.6 200.4,431.6 200.9,431.6 201.4,431.6 201.9,431.6 202.4,431.6 202.9,431.6 203.4,431.6 203.9,431.6 204.4,431.6 204.9,431.6 205.4,431.6 205.9,431.6 206.4,431.6 206.9,431.6 207.4,431.6 207.9,431.6 208.4,431.6 208.9,431.6 209.4,431.6 209.9,431.6 210.4,431.6 210.9,431.6 211.4,431.6 211.9,431.6 212.4,431.6" fill="none" stroke="#4393c3" stroke-width="2.1" stroke-linejoin="round" stroke-linecap="butt" />
<path d="M41.9,431.6 42.4,431.6 42.9,431.6 43.4,431.6 43.9,431.6 44.4,431.6 44.9,431.6 45.4,431.6 45.9,431.6 46.4,431.6 46.9,431.6 47.4,431.6 47.9,431.6 48.4,431.6 48.9,431.6 49.4,431.6 49.9,431.6 50.4,431.6 50.9,431.6 51.4,431.6 51.9,431.6 52.4,431.6 52.9,431.6 53.4,431.6 53.9,431.6 54.4,431.6 54.9,431.6 55.4,431.6 55.9,431.6 56.4,431.6 56.9,431.6 57.4,431.6 57.9,431.6 58.4,431.6 58.9,431.6 59.4,431.6 59.9,431.6 60.4,431.6 60.9,431.6 61.4,431.6 61.9,431.6 62.4,431.6 62.9,431.6 63.4,431.6 63.9,431.6 64.4,431.6 64.9,431.6 65.4,431.6 65.9,431.6 66.4,431.6 66.9,431.6 67.4,431.6 67.9,431.6 68.4,431.6 68.9,431.6 69.4,431.6 69.9,431.6 70.4,431.6 70.9,431.6 71.4,431.6 71.9,431.6 72.4,431.6 72.9,431.6 73.4,431.6 73.9,431.6 74.4,431.6 74.9,431.6 75.4,431.6 75.9,431.6 76.4,431.6 76.9,431.6 77.4,431.6 77.9,431.6 78.4,431.6 78.9,431.6 79.4,431.6 79.9,431.6 80.4,431.6 80.9,431.6 81.4,431.6 81.9,431.6 82.4,431.6 82.9,431.6 83.4,431.6 83.9,431.6 84.4,431.6 84.9,431.6 85.4,431.6 85.9,431.6 86.4,431.5 86.9,431.5 87.4,431.5 87.9,431.5 88.4,431.5 88.9,431.5 89.4,431.5 89.9,431.5 90.4,431.5 90.9,431.5 91.4,431.5 91.9,431.4 92.4,431.4 92.9,431.4 93.4,431.4 93.9,431.4 94.4,431.3 94.9,431.3 95.4,431.3 95.9,431.2 96.4,431.2 96.9,431.2 97.4,431.1 97.9,431.1 98.4,431.0 98.9,431.0 99.4,430.9 99.9,430.8 100.4,430.7 100.9,430.7 101.4,430.6 101.9,430.4 102.4,430.3 102.9,430.2 103.4,430.1 103.9,429.9 104.4,429.7 104.9,429.5 105.4,429.3 105.9,429.1 106.4,428.8 106.9,428.5 107.4,428.2 107.9,427.9 108.4,427.5 108.9,427.1 109.4,426.6 109.9,426.1 110.4,425.6 110.9,425.0 111.4,424.4 111.9,423.7 112.4,422.9 112.9,422.1 113.4,421.2 113.9,420.3 114.4,419.3 114.9,418.1 115.4,417.0 115.9,415.7 116.4,414.3 116.9,412.9 117.4,411.4 117.9,409.8 118.4,408.2 118.9,406.5 119.4,404.7 119.9,402.9 120.4,401.0 120.9,399.1 121.4,397.2 121.9,395.4 122.4,393.6 122.9,391.8 123.4,390.2 123.9,388.6 124.4,387.2 124.9,386.0 125.4,384.9 125.9,384.0 126.4,383.4 126.9,383.0 127.4,382.8 127.9,382.9 128.4,383.2 128.9,383.8 129.4,384.7 129.9,385.7 130.4,387.0 130.9,388.4 131.4,390.0 131.9,391.8 132.4,393.6 132.9,395.5 133.4,397.4 133.9,399.4 134.4,401.3 134.9,403.3 135.4,405.1 135.9,407.0 136.4,408.8 136.9,410.4 137.4,412.1 137.9,413.6 138.4,415.0 138.9,416.4 139.4,417.7 139.9,418.9 140.4,420.0 140.9,421.0 141.4,421.9 141.9,422.8 142.4,423.6 142.9,424.3 143.4,425.0 143.9,425.6 144.4,426.2 144.9,426.7 145.4,427.1 145.9,427.6 146.4,427.9 146.9,428.3 147.4,428.6 147.9,428.9 148.4,429.2 148.9,429.4 149.4,429.6 149.9,429.8 150.4,430.0 150.9,430.1 151.4,430.3 151.9,430.4 152.4,430.5 152.9,430.6 153.4,430.7 153.9,430.8 154.4,430.9 154.9,431.0 155.4,431.0 155.9,431.1 156.4,431.1 156.9,431.2 157.4,431.2 157.9,431.3 158.4,431.3 158.9,431.3 159.4,431.3 159.9,431.4 160.4,431.4 160.9,431.4 161.4,431.4 161.9,431.4 162.4,431.5 162.9,431.5 163.4,431.5 163.9,431.5 164.4,431.5 164.9,431.5 165.4,431.5 165.9,431.5 166.4,431.5 166.9,431.5 167.4,431.6 167.9,431.6 168.4,431.6 168.9,431.6 169.4,431.6 169.9,431.6 170.4,431.6 170.9,431.6 171.4,431.6 171.9,431.6 172.4,431.6 172.9,431.6 173.4,431.6 173.9,431.6 174.4,431.6 174.9,431.6 175.4,431.6 175.9,431.6 176.4,431.6 176.9,431.6 177.4,431.6 177.9,431.6 178.4,431.6 178.9,431.6 179.4,431.6 179.9,431.6 180.4,431.6 180.9,431.6 181.4,431.6 181.9,431.6 182.4,431.6 182.9,431.6 183.4,431.6 183.9,431.6 184.4,431.6 184.9,431.6 185.4,431.6 185.9,431.6 186.4,431.6 186.9,431.6 187.4,431.6 187.9,431.6 188.4,431.6 188.9,431.6 189.4,431.6 189.9,431.6 190.4,431.6 190.9,431.6 191.4,431.6 191.9,431.6 192.4,431.6 192.9,431.6 193.4,431.6 193.9,431.6 194.4,431.6 194.9,431.6 195.4,431.6 195.9,431.6 196.4,431.6 196.9,431.6 197.4,431.6 197.9,431.6 198.4,431.6 198.9,431.6 199.4,431.6 199.9,431.6 200.4,431.6 200.9,431.6 201.4,431.6 201.9,431.6 202.4,431.6 202.9,431.6 203.4,431.6 203.9,431.6 204.4,431.6 204.9,431.6 205.4,431.6 205.9,431.6 206.4,431.6 206.9,431.6 207.4,431.6 207.9,431.6 208.4,431.6 208.9,431.6 209.4,431.6 209.9,431.6 210.4,431.6 210.9,431.6 211.4,431.6 211.9,431.6 212.4,431.6" fill="none" stroke="#d1e5f0" stroke-width="2.1" stroke-linejoin="round" stroke-linecap="butt" />
<path d="M41.9,431.6 42.4,431.6 42.9,431.6 43.4,431.6 43.9,431.6 44.4,431.6 44.9,431.6 45.4,431.6 45.9,431.6 46.4,431.6 46.9,431.6 47.4,431.6 47.9,431.6 48.4,431.6 48.9,431.6 49.4,431.6 49.9,431.6 50.4,431.6 50.9,431.6 51.4,431.6 51.9,431.6 52.4,431.6 52.9,431.6 53.4,431.6 53.9,431.6 54.4,431.6 54.9,431.6 55.4,431.6 55.9,431.6 56.4,431.6 56.9,431.6 57.4,431.6 57.9,431.6 58.4,431.6 58.9,431.6 59.4,431.6 59.9,431.6 60.4,431.6 60.9,431.6 61.4,431.6 61.9,431.6 62.4,431.6 62.9,431.6 63.4,431.6 63.9,431.6 64.4,431.6 64.9,431.6 65.4,431.6 65.9,431.6 66.4,431.6 66.9,431.6 67.4,431.6 67.9,431.6 68.4,431.6 68.9,431.6 69.4,431.6 69.9,431.6 70.4,431.6 70.9,431.6 71.4,431.6 71.9,431.6 72.4,431.6 72.9,431.6 73.4,431.6 73.9,431.6 74.4,431.6 74.9,431.6 75.4,431.6 75.9,431.6 76.4,431.6 76.9,431.6 77.4,431.6 77.9,431.6 78.4,431.6 78.9,431.5 79.4,431.5 79.9,431.5 80.4,431.5 80.9,431.5 81.4,431.5 81.9,431.5 82.4,431.5 82.9,431.5 83.4,431.5 83.9,431.5 84.4,431.5 84.9,431.4 85.4,431.4 85.9,431.4 86.4,431.4 86.9,431.4 87.4,431.3 87.9,431.3 88.4,431.3 88.9,431.2 89.4,431.2 89.9,431.2 90.4,431.1 90.9,431.1 91.4,431.0 91.9,431.0 92.4,430.9 92.9,430.8 93.4,430.8 93.9,430.7 94.4,430.6 94.9,430.5 95.4,430.4 95.9,430.2 96.4,430.1 96.9,429.9 97.4,429.8 97.9,429.6 98.4,429.4 98.9,429.2 99.4,428.9 99.9,428.6 100.4,428.3 100.9,428.0 101.4,427.7 101.9,427.3 102.4,426.8 102.9,426.3 103.4,425.8 103.9,425.3 104.4,424.6 104.9,424.0 105.4,423.2 105.9,422.4 106.4,421.5 106.9,420.5 107.4,419.5 107.9,418.3 108.4,417.0 108.9,415.7 109.4,414.2 109.9,412.6 110.4,410.9 110.9,409.0 111.4,407.0 111.9,404.8 112.4,402.5 112.9,400.0 113.4,397.3 113.9,394.5 114.4,391.6 114.9,388.4 115.4,385.2 115.9,381.7 116.4,378.2 116.9,374.5 117.4,370.7 117.9,366.9 118.4,363.0 118.9,359.1 119.4,355.2 119.9,351.4 120.4,347.8 120.9,344.2 121.4,340.9 121.9,337.9 122.4,335.1 122.9,332.8 123.4,330.8 123.9,329.2 124.4,328.1 124.9,327.5 125.4,327.3 125.9,327.7 126.4,328.5 126.9,329.8 127.4,331.6 127.9,333.8 128.4,336.4 128.9,339.3 129.4,342.5 129.9,345.9 130.4,349.6 130.9,353.4 131.4,357.2 131.9,361.1 132.4,365.1 132.9,369.0 133.4,372.8 133.9,376.6 134.4,380.2 134.9,383.8 135.4,387.1 135.9,390.4 136.4,393.4 136.9,396.3 137.4,399.1 137.9,401.6 138.4,404.0 138.9,406.3 139.4,408.3 139.9,410.3 140.4,412.1 140.9,413.7 141.4,415.3 141.9,416.7 142.4,418.0 142.9,419.2 143.4,420.3 143.9,421.3 144.4,422.2 144.9,423.0 145.4,423.8 145.9,424.5 146.4,425.1 146.9,425.7 147.4,426.3 147.9,426.8 148.4,427.2 148.9,427.6 149.4,428.0 149.9,428.3 150.4,428.6 150.9,428.9 151.4,429.1 151.9,429.4 152.4,429.6 152.9,429.8 153.4,429.9 153.9,430.1 154.4,430.2 154.9,430.3 155.4,430.5 155.9,430.6 156.4,430.7 156.9,430.8 157.4,430.8 157.9,430.9 158.4,431.0 158.9,431.0 159.4,431.1 159.9,431.1 160.4,431.2 160.9,431.2 161.4,431.2 161.9,431.3 162.4,431.3 162.9,431.3 163.4,431.4 163.9,431.4 164.4,431.4 164.9,431.4 165.4,431.4 165.9,431.5 166.4,431.5 166.9,431.5 167.4,431.5 167.9,431.5 168.4,431.5 168.9,431.5 169.4,431.5 169.9,431.5 170.4,431.5 170.9,431.5 171.4,431.6 171.9,431.6 172.4,431.6 172.9,431.6 173.4,431.6 173.9,431.6 174.4,431.6 174.9,431.6 175.4,431.6 175.9,431.6 176.4,431.6 176.9,431.6 177.4,431.6 177.9,431.6 178.4,431.6 178.9,431.6 179.4,431.6 179.9,431.6 180.4,431.6 180.9,431.6 181.4,431.6 181.9,431.6 182.4,431.6 182.9,431.6 183.4,431.6 183.9,431.6 184.4,431.6 184.9,431.6 185.4,431.6 185.9,431.6 186.4,431.6 186.9,431.6 187.4,431.6 187.9,431.6 188.4,431.6 188.9,431.6 189.4,431.6 189.9,431.6 190.4,431.6 190.9,431.6 191.4,431.6 191.9,431.6 192.4,431.6 192.9,431.6 193.4,431.6 193.9,431.6 194.4,431.6 194.9,431.6 195.4,431.6 195.9,431.6 196.4,431.6 196.9,431.6 197.4,431.6 197.9,431.6 198.4,431.6 198.9,431.6 199.4,431.6 199.9,431.6 200.4,431.6 200.9,431.6 201.4,431.6 201.9,431.6 202.4,431.6 202.9,431.6 203.4,431.6 203.9,431.6 204.4,431.6 204.9,431.6 205.4,431.6 205.9,431.6 206.4,431.6 206.9,431.6 207.4,431.6 207.9,431.6 208.4,431.6 208.9,431.6 209.4,431.6 209.9,431.6 210.4,431.6 210.9,431.6 211.4,431.6 211.9,431.6 212.4,431.6" fill="none" stroke="#fddbc7" stroke-width="2.1" stroke-linejoin="round" stroke-linecap="butt" />
<path d="M41.9,431.6 42.4,431.6 42.9,431.6 43.4,431.6 43.9,431.6 44.4,431.6 44.9,431.6 45.4,431.6 45.9,431.6 46.4,431.6 46.9,431.6 47.4,431.6 47.9,431.6 48.4,431.6 48.9,431.6 49.4,431.6 49.9,431.6 50.4,431.6 50.9,431.6 51.4,431.6 51.9,431.6 52.4,431.6 52.9,431.6 53.4,431.6 53.9,431.6 54.4,431.6 54.9,431.6 55.4,431.6 55.9,431.6 56.4,431.6 56.9,431.6 57.4,431.6 57.9,431.6 58.4,431.6 58.9,431.6 59.4,431.6 59.9,431.6 60.4,431.6 60.9,431.6 61.4,431.6 61.9,431.6 62.4,431.6 62.9,431.6 63.4,431.6 63.9,431.6 64.4,431.6 64.9,431.6 65.4,431.6 65.9,431.6 66.4,431.6 66.9,431.5 67.4,431.5 67.9,431.5 68.4,431.5 68.9,431.5 69.4,431.5 69.9,431.5 70.4,431.5 70.9,431.5 71.4,431.5 71.9,431.5 72.4,431.5 72.9,431.5 73.4,431.4 73.9,431.4 74.4,431.4 74.9,431.4 75.4,431.4 75.9,431.4 76.4,431.3 76.9,431.3 77.4,431.3 77.9,431.3 78.4,431.2 78.9,431.2 79.4,431.2 79.9,431.1 80.4,431.1 80.9,431.0 81.4,431.0 81.9,430.9 82.4,430.8 82.9,430.8 83.4,430.7 83.9,430.6 84.4,430.5 84.9,430.4 85.4,430.3 85.9,430.2 86.4,430.1 86.9,430.0 87.4,429.8 87.9,429.7 88.4,429.5 88.9,429.3 89.4,429.1 89.9,428.8 90.4,428.6 90.9,428.3 91.4,428.0 91.9,427.7 92.4,427.4 92.9,427.0 93.4,426.6 93.9,426.1 94.4,425.6 94.9,425.1 95.4,424.5 95.9,423.9 96.4,423.2 96.9,422.5 97.4,421.7 97.9,420.8 98.4,419.9 98.9,418.9 99.4,417.8 99.9,416.6 100.4,415.3 100.9,413.9 101.4,412.4 101.9,410.8 102.4,409.0 102.9,407.1 103.4,405.1 103.9,402.9 104.4,400.6 104.9,398.1 105.4,395.4 105.9,392.6 106.4,389.6 106.9,386.3 107.4,382.9 107.9,379.3 108.4,375.5 108.9,371.5 109.4,367.4 109.9,363.0 110.4,358.5 110.9,353.8 111.4,348.9 111.9,343.9 112.4,338.9 112.9,333.7 113.4,328.6 113.9,323.4 114.4,318.2 114.9,313.2 115.4,308.2 115.9,303.5 116.4,299.0 116.9,294.7 117.4,290.8 117.9,287.3 118.4,284.3 118.9,281.7 119.4,279.6 119.9,278.0 120.4,277.0 120.9,276.6 121.4,276.8 121.9,277.6 122.4,279.1 122.9,281.1 123.4,283.8 123.9,286.9 124.4,290.5 124.9,294.6 125.4,299.0 125.9,303.7 126.4,308.7 126.9,313.9 127.4,319.2 127.9,324.5 128.4,330.0 128.9,335.4 129.4,340.7 129.9,346.0 130.4,351.1 130.9,356.1 131.4,361.0 131.9,365.6 132.4,370.0 132.9,374.3 133.4,378.3 133.9,382.1 134.4,385.7 134.9,389.1 135.4,392.3 135.9,395.3 136.4,398.1 136.9,400.7 137.4,403.1 137.9,405.4 138.4,407.5 138.9,409.4 139.4,411.2 139.9,412.9 140.4,414.4 140.9,415.8 141.4,417.1 141.9,418.3 142.4,419.4 142.9,420.5 143.4,421.4 143.9,422.3 144.4,423.0 144.9,423.8 145.4,424.4 145.9,425.0 146.4,425.6 146.9,426.1 147.4,426.6 147.9,427.0 148.4,427.4 148.9,427.8 149.4,428.1 149.9,428.4 150.4,428.7 150.9,428.9 151.4,429.2 151.9,429.4 152.4,429.6 152.9,429.7 153.4,429.9 153.9,430.0 154.4,430.2 154.9,430.3 155.4,430.4 155.9,430.5 156.4,430.6 156.9,430.7 157.4,430.8 157.9,430.8 158.4,430.9 158.9,431.0 159.4,431.0 159.9,431.1 160.4,431.1 160.9,431.2 161.4,431.2 161.9,431.2 162.4,431.3 162.9,431.3 163.4,431.3 163.9,431.3 164.4,431.4 164.9,431.4 165.4,431.4 165.9,431.4 166.4,431.4 166.9,431.5 167.4,431.5 167.9,431.5 168.4,431.5 168.9,431.5 169.4,431.5 169.9,431.5 170.4,431.5 170.9,431.5 171.4,431.5 171.9,431.5 172.4,431.5 172.9,431.6 173.4,431.6 173.9,431.6 174.4,431.6 174.9,431.6 175.4,431.6 175.9,431.6 176.4,431.6 176.9,431.6 177.4,431.6 177.9,431.6 178.4,431.6 178.9,431.6 179.4,431.6 179.9,431.6 180.4,431.6 180.9,431.6 181.4,431.6 181.9,431.6 182.4,431.6 182.9,431.6 183.4,431.6 183.9,431.6 184.4,431.6 184.9,431.6 185.4,431.6 185.9,431.6 186.4,431.6 186.9,431.6 187.4,431.6 187.9,431.6 188.4,431.6 188.9,431.6 189.4,431.6 189.9,431.6 190.4,431.6 190.9,431.6 191.4,431.6 191.9,431.6 192.4,431.6 192.9,431.6 193.4,431.6 193.9,431.6 194.4,431.6 194.9,431.6 195.4,431.6 195.9,431.6 196.4,431.6 196.9,431.6 197.4,431.6 197.9,431.6 198.4,431.6 198.9,431.6 199.4,431.6 199.9,431.6 200.4,431.6 200.9,431.6 201.4,431.6 201.9,431.6 202.4,431.6 202.9,431.6 203.4,431.6 203.9,431.6 204.4,431.6 204.9,431.6 205.4,431.6 205.9,431.6 206.4,431.6 206.9,431.6 207.4,431.6 207.9,431.6 208.4,431.6 208.9,431.6 209.4,431.6 209.9,431.6 210.4,431.6 210.9,431.6 211.4,431.6 211.9,431.6 212.4,431.6" fill="none" stroke="#ef8a62" stroke-width="2.1" stroke-linejoin="round" stroke-linecap="butt" />
<path d="M41.9,431.6 42.4,431.6 42.9,431.6 43.4,431.6 43.9,431.6 44.4,431.6 44.9,431.6 45.4,431.6 45.9,431.6 46.4,431.6 46.9,431.5 47.4,431.5 47.9,431.5 48.4,431.5 48.9,431.5 49.4,431.5 49.9,431.5 50.4,431.5 50.9,431.5 51.4,431.5 51.9,431.5 52.4,431.5 52.9,431.5 53.4,431.5 53.9,431.5 54.4,431.5 54.9,431.4 55.4,431.4 55.9,431.4 56.4,431.4 56.9,431.4 57.4,431.4 57.9,431.4 58.4,431.3 58.9,431.3 59.4,431.3 59.9,431.3 60.4,431.3 60.9,431.2 61.4,431.2 61.9,431.2 62.4,431.1 62.9,431.1 63.4,431.1 63.9,431.0 64.4,431.0 64.9,431.0 65.4,430.9 65.9,430.9 66.4,430.8 66.9,430.7 67.4,430.7 67.9,430.6 68.4,430.5 68.9,430.5 69.4,430.4 69.9,430.3 70.4,430.2 70.9,430.1 71.4,430.0 71.9,429.9 72.4,429.7 72.9,429.6 73.4,429.5 73.9,429.3 74.4,429.1 74.9,429.0 75.4,428.8 75.9,428.6 76.4,428.4 76.9,428.1 77.4,427.9 77.9,427.6 78.4,427.3 78.9,427.0 79.4,426.7 79.9,426.3 80.4,426.0 80.9,425.6 81.4,425.1 81.9,424.7 82.4,424.2 82.9,423.6 83.4,423.1 83.9,422.5 84.4,421.8 84.9,421.1 85.4,420.4 85.9,419.6 86.4,418.8 86.9,417.9 87.4,416.9 87.9,415.9 88.4,414.8 88.9,413.7 89.4,412.4 89.9,411.1 90.4,409.8 90.9,408.3 91.4,406.7 91.9,405.1 92.4,403.3 92.9,401.5 93.4,399.5 93.9,397.4 94.4,395.2 94.9,392.9 95.4,390.5 95.9,388.0 96.4,385.3 96.9,382.5 97.4,379.6 97.9,376.5 98.4,373.3 98.9,370.0 99.4,366.6 99.9,363.0 100.4,359.3 100.9,355.6 101.4,351.7 101.9,347.7 102.4,343.6 102.9,339.5 103.4,335.3 103.9,331.1 104.4,326.8 104.9,322.6 105.4,318.4 105.9,314.2 106.4,310.1 106.9,306.1 107.4,302.3 107.9,298.6 108.4,295.0 108.9,291.7 109.4,288.6 109.9,285.8 110.4,283.3 110.9,281.0 111.4,279.1 111.9,277.6 112.4,276.4 112.9,275.6 113.4,275.2 113.9,275.1 114.4,275.4 114.9,276.1 115.4,277.1 115.9,278.4 116.4,280.1 116.9,282.0 117.4,284.2 117.9,286.8 118.4,289.5 118.9,292.5 119.4,295.7 119.9,299.1 120.4,302.6 120.9,306.3 121.4,310.0 121.9,313.9 122.4,317.9 122.9,321.8 123.4,325.8 123.9,329.9 124.4,333.9 124.9,337.8 125.4,341.8 125.9,345.7 126.4,349.5 126.9,353.2 127.4,356.8 127.9,360.4 128.4,363.9 128.9,367.2 129.4,370.4 129.9,373.6 130.4,376.6 130.9,379.5 131.4,382.3 131.9,384.9 132.4,387.5 132.9,389.9 133.4,392.2 133.9,394.4 134.4,396.6 134.9,398.6 135.4,400.5 135.9,402.3 136.4,404.0 136.9,405.6 137.4,407.2 137.9,408.6 138.4,410.0 138.9,411.3 139.4,412.5 139.9,413.7 140.4,414.8 140.9,415.8 141.4,416.8 141.9,417.7 142.4,418.5 142.9,419.3 143.4,420.1 143.9,420.8 144.4,421.5 144.9,422.1 145.4,422.7 145.9,423.3 146.4,423.8 146.9,424.3 147.4,424.8 147.9,425.2 148.4,425.6 148.9,426.0 149.4,426.3 149.9,426.7 150.4,427.0 150.9,427.3 151.4,427.5 151.9,427.8 152.4,428.0 152.9,428.3 153.4,428.5 153.9,428.7 154.4,428.9 154.9,429.0 155.4,429.2 155.9,429.4 156.4,429.5 156.9,429.6 157.4,429.8 157.9,429.9 158.4,430.0 158.9,430.1 159.4,430.2 159.9,430.3 160.4,430.4 160.9,430.4 161.4,430.5 161.9,430.6 162.4,430.7 162.9,430.7 163.4,430.8 163.9,430.8 164.4,430.9 164.9,430.9 165.4,431.0 165.9,431.0 166.4,431.0 166.9,431.1 167.4,431.1 167.9,431.1 168.4,431.2 168.9,431.2 169.4,431.2 169.9,431.3 170.4,431.3 170.9,431.3 171.4,431.3 171.9,431.3 172.4,431.4 172.9,431.4 173.4,431.4 173.9,431.4 174.4,431.4 174.9,431.4 175.4,431.4 175.9,431.4 176.4,431.5 176.9,431.5 177.4,431.5 177.9,431.5 178.4,431.5 178.9,431.5 179.4,431.5 179.9,431.5 180.4,431.5 180.9,431.5 181.4,431.5 181.9,431.5 182.4,431.5 182.9,431.5 183.4,431.5 183.9,431.5 184.4,431.5 184.9,431.6 185.4,431.6 185.9,431.6 186.4,431.6 186.9,431.6 187.4,431.6 187.9,431.6 188.4,431.6 188.9,431.6 189.4,431.6 189.9,431.6 190.4,431.6 190.9,431.6 191.4,431.6 191.9,431.6 192.4,431.6 192.9,431.6 193.4,431.6 193.9,431.6 194.4,431.6 194.9,431.6 195.4,431.6 195.9,431.6 196.4,431.6 196.9,431.6 197.4,431.6 197.9,431.6 198.4,431.6 198.9,431.6 199.4,431.6 199.9,431.6 200.4,431.6 200.9,431.6 201.4,431.6 201.9,431.6 202.4,431.6 202.9,431.6 203.4,431.6 203.9,431.6 204.4,431.6 204.9,431.6 205.4,431.6 205.9,431.6 206.4,431.6 206.9,431.6 207.4,431.6 207.9,431.6 208.4,431.6 208.9,431.6 209.4,431.6 209.9,431.6 210.4,431.6 210.9,431.6 211.4,431.6 211.9,431.6 212.4,431.6" fill="none" stroke="#b2182b" stroke-width="2.1" stroke-linejoin="round" stroke-linecap="butt" />
</g>
<rect x="41.9" y="265.0" width="170.5" height="170.2" fill="none" stroke="#222" stroke-width="1.05"/>
<line x1="41.90" y1="425.97" x2="43.20" y2="425.97" stroke="#222" stroke-width="0.8"/>
<line x1="212.40" y1="425.97" x2="211.10" y2="425.97" stroke="#222" stroke-width="0.8"/>
<line x1="41.90" y1="414.71" x2="43.20" y2="414.71" stroke="#222" stroke-width="0.8"/>
<line x1="212.40" y1="414.71" x2="211.10" y2="414.71" stroke="#222" stroke-width="0.8"/>
<line x1="41.90" y1="403.45" x2="43.20" y2="403.45" stroke="#222" stroke-width="0.8"/>
<line x1="212.40" y1="403.45" x2="211.10" y2="403.45" stroke="#222" stroke-width="0.8"/>
<line x1="41.90" y1="392.19" x2="43.20" y2="392.19" stroke="#222" stroke-width="0.8"/>
<line x1="212.40" y1="392.19" x2="211.10" y2="392.19" stroke="#222" stroke-width="0.8"/>
<line x1="41.90" y1="380.93" x2="43.20" y2="380.93" stroke="#222" stroke-width="0.8"/>
<line x1="212.40" y1="380.93" x2="211.10" y2="380.93" stroke="#222" stroke-width="0.8"/>
<line x1="41.90" y1="369.67" x2="43.20" y2="369.67" stroke="#222" stroke-width="0.8"/>
<line x1="212.40" y1="369.67" x2="211.10" y2="369.67" stroke="#222" stroke-width="0.8"/>
<line x1="41.90" y1="358.41" x2="43.20" y2="358.41" stroke="#222" stroke-width="0.8"/>
<line x1="212.40" y1="358.41" x2="211.10" y2="358.41" stroke="#222" stroke-width="0.8"/>
<line x1="41.90" y1="347.15" x2="43.20" y2="347.15" stroke="#222" stroke-width="0.8"/>
<line x1="212.40" y1="347.15" x2="211.10" y2="347.15" stroke="#222" stroke-width="0.8"/>
<line x1="41.90" y1="335.89" x2="43.20" y2="335.89" stroke="#222" stroke-width="0.8"/>
<line x1="212.40" y1="335.89" x2="211.10" y2="335.89" stroke="#222" stroke-width="0.8"/>
<line x1="41.90" y1="324.63" x2="43.20" y2="324.63" stroke="#222" stroke-width="0.8"/>
<line x1="212.40" y1="324.63" x2="211.10" y2="324.63" stroke="#222" stroke-width="0.8"/>
<line x1="41.90" y1="313.37" x2="43.20" y2="313.37" stroke="#222" stroke-width="0.8"/>
<line x1="212.40" y1="313.37" x2="211.10" y2="313.37" stroke="#222" stroke-width="0.8"/>
<line x1="41.90" y1="302.11" x2="43.20" y2="302.11" stroke="#222" stroke-width="0.8"/>
<line x1="212.40" y1="302.11" x2="211.10" y2="302.11" stroke="#222" stroke-width="0.8"/>
<line x1="41.90" y1="290.85" x2="43.20" y2="290.85" stroke="#222" stroke-width="0.8"/>
<line x1="212.40" y1="290.85" x2="211.10" y2="290.85" stroke="#222" stroke-width="0.8"/>
<line x1="41.90" y1="279.59" x2="43.20" y2="279.59" stroke="#222" stroke-width="0.8"/>
<line x1="212.40" y1="279.59" x2="211.10" y2="279.59" stroke="#222" stroke-width="0.8"/>
<line x1="41.90" y1="268.33" x2="43.20" y2="268.33" stroke="#222" stroke-width="0.8"/>
<line x1="212.40" y1="268.33" x2="211.10" y2="268.33" stroke="#222" stroke-width="0.8"/>
<line x1="42.30" y1="435.20" x2="42.30" y2="433.40" stroke="#222" stroke-width="0.85"/>
<line x1="42.30" y1="265.00" x2="42.30" y2="266.80" stroke="#222" stroke-width="0.85"/>
<line x1="50.77" y1="435.20" x2="50.77" y2="433.40" stroke="#222" stroke-width="0.85"/>
<line x1="50.77" y1="265.00" x2="50.77" y2="266.80" stroke="#222" stroke-width="0.85"/>
<line x1="59.24" y1="435.20" x2="59.24" y2="433.40" stroke="#222" stroke-width="0.85"/>
<line x1="59.24" y1="265.00" x2="59.24" y2="266.80" stroke="#222" stroke-width="0.85"/>
<line x1="67.71" y1="435.20" x2="67.71" y2="433.40" stroke="#222" stroke-width="0.85"/>
<line x1="67.71" y1="265.00" x2="67.71" y2="266.80" stroke="#222" stroke-width="0.85"/>
<line x1="76.18" y1="435.20" x2="76.18" y2="433.40" stroke="#222" stroke-width="0.85"/>
<line x1="76.18" y1="265.00" x2="76.18" y2="266.80" stroke="#222" stroke-width="0.85"/>
<line x1="84.65" y1="435.20" x2="84.65" y2="433.40" stroke="#222" stroke-width="0.85"/>
<line x1="84.65" y1="265.00" x2="84.65" y2="266.80" stroke="#222" stroke-width="0.85"/>
<line x1="93.12" y1="435.20" x2="93.12" y2="433.40" stroke="#222" stroke-width="0.85"/>
<line x1="93.12" y1="265.00" x2="93.12" y2="266.80" stroke="#222" stroke-width="0.85"/>
<line x1="101.59" y1="435.20" x2="101.59" y2="433.40" stroke="#222" stroke-width="0.85"/>
<line x1="101.59" y1="265.00" x2="101.59" y2="266.80" stroke="#222" stroke-width="0.85"/>
<line x1="110.06" y1="435.20" x2="110.06" y2="433.40" stroke="#222" stroke-width="0.85"/>
<line x1="110.06" y1="265.00" x2="110.06" y2="266.80" stroke="#222" stroke-width="0.85"/>
<line x1="118.53" y1="435.20" x2="118.53" y2="433.40" stroke="#222" stroke-width="0.85"/>
<line x1="118.53" y1="265.00" x2="118.53" y2="266.80" stroke="#222" stroke-width="0.85"/>
<line x1="127.00" y1="435.20" x2="127.00" y2="433.40" stroke="#222" stroke-width="0.85"/>
<line x1="127.00" y1="265.00" x2="127.00" y2="266.80" stroke="#222" stroke-width="0.85"/>
<line x1="135.47" y1="435.20" x2="135.47" y2="433.40" stroke="#222" stroke-width="0.85"/>
<line x1="135.47" y1="265.00" x2="135.47" y2="266.80" stroke="#222" stroke-width="0.85"/>
<line x1="143.94" y1="435.20" x2="143.94" y2="433.40" stroke="#222" stroke-width="0.85"/>
<line x1="143.94" y1="265.00" x2="143.94" y2="266.80" stroke="#222" stroke-width="0.85"/>
<line x1="152.41" y1="435.20" x2="152.41" y2="433.40" stroke="#222" stroke-width="0.85"/>
<line x1="152.41" y1="265.00" x2="152.41" y2="266.80" stroke="#222" stroke-width="0.85"/>
<line x1="160.88" y1="435.20" x2="160.88" y2="433.40" stroke="#222" stroke-width="0.85"/>
<line x1="160.88" y1="265.00" x2="160.88" y2="266.80" stroke="#222" stroke-width="0.85"/>
<line x1="169.35" y1="435.20" x2="169.35" y2="433.40" stroke="#222" stroke-width="0.85"/>
<line x1="169.35" y1="265.00" x2="169.35" y2="266.80" stroke="#222" stroke-width="0.85"/>
<line x1="177.82" y1="435.20" x2="177.82" y2="433.40" stroke="#222" stroke-width="0.85"/>
<line x1="177.82" y1="265.00" x2="177.82" y2="266.80" stroke="#222" stroke-width="0.85"/>
<line x1="186.29" y1="435.20" x2="186.29" y2="433.40" stroke="#222" stroke-width="0.85"/>
<line x1="186.29" y1="265.00" x2="186.29" y2="266.80" stroke="#222" stroke-width="0.85"/>
<line x1="194.76" y1="435.20" x2="194.76" y2="433.40" stroke="#222" stroke-width="0.85"/>
<line x1="194.76" y1="265.00" x2="194.76" y2="266.80" stroke="#222" stroke-width="0.85"/>
<line x1="203.23" y1="435.20" x2="203.23" y2="433.40" stroke="#222" stroke-width="0.85"/>
<line x1="203.23" y1="265.00" x2="203.23" y2="266.80" stroke="#222" stroke-width="0.85"/>
<line x1="211.70" y1="435.20" x2="211.70" y2="433.40" stroke="#222" stroke-width="0.85"/>
<line x1="211.70" y1="265.00" x2="211.70" y2="266.80" stroke="#222" stroke-width="0.85"/>
<line x1="42.30" y1="435.20" x2="42.30" y2="432.10" stroke="#222" stroke-width="0.85"/>
<line x1="42.30" y1="265.00" x2="42.30" y2="268.10" stroke="#222" stroke-width="0.85"/>
<line x1="84.65" y1="435.20" x2="84.65" y2="432.10" stroke="#222" stroke-width="0.85"/>
<line x1="84.65" y1="265.00" x2="84.65" y2="268.10" stroke="#222" stroke-width="0.85"/>
<line x1="127.00" y1="435.20" x2="127.00" y2="432.10" stroke="#222" stroke-width="0.85"/>
<line x1="127.00" y1="265.00" x2="127.00" y2="268.10" stroke="#222" stroke-width="0.85"/>
<line x1="169.35" y1="435.20" x2="169.35" y2="432.10" stroke="#222" stroke-width="0.85"/>
<line x1="169.35" y1="265.00" x2="169.35" y2="268.10" stroke="#222" stroke-width="0.85"/>
<line x1="211.70" y1="435.20" x2="211.70" y2="432.10" stroke="#222" stroke-width="0.85"/>
<line x1="211.70" y1="265.00" x2="211.70" y2="268.10" stroke="#222" stroke-width="0.85"/>
<line x1="41.90" y1="431.60" x2="43.70" y2="431.60" stroke="#222" stroke-width="0.85"/>
<line x1="212.40" y1="431.60" x2="210.60" y2="431.60" stroke="#222" stroke-width="0.85"/>
<line x1="41.90" y1="420.34" x2="43.70" y2="420.34" stroke="#222" stroke-width="0.85"/>
<line x1="212.40" y1="420.34" x2="210.60" y2="420.34" stroke="#222" stroke-width="0.85"/>
<line x1="41.90" y1="409.08" x2="43.70" y2="409.08" stroke="#222" stroke-width="0.85"/>
<line x1="212.40" y1="409.08" x2="210.60" y2="409.08" stroke="#222" stroke-width="0.85"/>
<line x1="41.90" y1="397.82" x2="43.70" y2="397.82" stroke="#222" stroke-width="0.85"/>
<line x1="212.40" y1="397.82" x2="210.60" y2="397.82" stroke="#222" stroke-width="0.85"/>
<line x1="41.90" y1="386.56" x2="43.70" y2="386.56" stroke="#222" stroke-width="0.85"/>
<line x1="212.40" y1="386.56" x2="210.60" y2="386.56" stroke="#222" stroke-width="0.85"/>
<line x1="41.90" y1="375.30" x2="43.70" y2="375.30" stroke="#222" stroke-width="0.85"/>
<line x1="212.40" y1="375.30" x2="210.60" y2="375.30" stroke="#222" stroke-width="0.85"/>
<line x1="41.90" y1="364.04" x2="43.70" y2="364.04" stroke="#222" stroke-width="0.85"/>
<line x1="212.40" y1="364.04" x2="210.60" y2="364.04" stroke="#222" stroke-width="0.85"/>
<line x1="41.90" y1="352.78" x2="43.70" y2="352.78" stroke="#222" stroke-width="0.85"/>
<line x1="212.40" y1="352.78" x2="210.60" y2="352.78" stroke="#222" stroke-width="0.85"/>
<line x1="41.90" y1="341.52" x2="43.70" y2="341.52" stroke="#222" stroke-width="0.85"/>
<line x1="212.40" y1="341.52" x2="210.60" y2="341.52" stroke="#222" stroke-width="0.85"/>
<line x1="41.90" y1="330.26" x2="43.70" y2="330.26" stroke="#222" stroke-width="0.85"/>
<line x1="212.40" y1="330.26" x2="210.60" y2="330.26" stroke="#222" stroke-width="0.85"/>
<line x1="41.90" y1="319.00" x2="43.70" y2="319.00" stroke="#222" stroke-width="0.85"/>
<line x1="212.40" y1="319.00" x2="210.60" y2="319.00" stroke="#222" stroke-width="0.85"/>
<line x1="41.90" y1="307.74" x2="43.70" y2="307.74" stroke="#222" stroke-width="0.85"/>
<line x1="212.40" y1="307.74" x2="210.60" y2="307.74" stroke="#222" stroke-width="0.85"/>
<line x1="41.90" y1="296.48" x2="43.70" y2="296.48" stroke="#222" stroke-width="0.85"/>
<line x1="212.40" y1="296.48" x2="210.60" y2="296.48" stroke="#222" stroke-width="0.85"/>
<line x1="41.90" y1="285.22" x2="43.70" y2="285.22" stroke="#222" stroke-width="0.85"/>
<line x1="212.40" y1="285.22" x2="210.60" y2="285.22" stroke="#222" stroke-width="0.85"/>
<line x1="41.90" y1="273.96" x2="43.70" y2="273.96" stroke="#222" stroke-width="0.85"/>
<line x1="212.40" y1="273.96" x2="210.60" y2="273.96" stroke="#222" stroke-width="0.85"/>
<line x1="41.90" y1="431.60" x2="45.00" y2="431.60" stroke="#222" stroke-width="0.85"/>
<line x1="212.40" y1="431.60" x2="209.30" y2="431.60" stroke="#222" stroke-width="0.85"/>
<line x1="41.90" y1="409.08" x2="45.00" y2="409.08" stroke="#222" stroke-width="0.85"/>
<line x1="212.40" y1="409.08" x2="209.30" y2="409.08" stroke="#222" stroke-width="0.85"/>
<line x1="41.90" y1="386.56" x2="45.00" y2="386.56" stroke="#222" stroke-width="0.85"/>
<line x1="212.40" y1="386.56" x2="209.30" y2="386.56" stroke="#222" stroke-width="0.85"/>
<line x1="41.90" y1="364.04" x2="45.00" y2="364.04" stroke="#222" stroke-width="0.85"/>
<line x1="212.40" y1="364.04" x2="209.30" y2="364.04" stroke="#222" stroke-width="0.85"/>
<line x1="41.90" y1="341.52" x2="45.00" y2="341.52" stroke="#222" stroke-width="0.85"/>
<line x1="212.40" y1="341.52" x2="209.30" y2="341.52" stroke="#222" stroke-width="0.85"/>
<line x1="41.90" y1="319.00" x2="45.00" y2="319.00" stroke="#222" stroke-width="0.85"/>
<line x1="212.40" y1="319.00" x2="209.30" y2="319.00" stroke="#222" stroke-width="0.85"/>
<line x1="41.90" y1="296.48" x2="45.00" y2="296.48" stroke="#222" stroke-width="0.85"/>
<line x1="212.40" y1="296.48" x2="209.30" y2="296.48" stroke="#222" stroke-width="0.85"/>
<line x1="41.90" y1="273.96" x2="45.00" y2="273.96" stroke="#222" stroke-width="0.85"/>
<line x1="212.40" y1="273.96" x2="209.30" y2="273.96" stroke="#222" stroke-width="0.85"/>
<text x="36.2" y="437.40000000000003" font-size="13.8" text-anchor="end" font-weight="normal" font-style="normal" fill="#1a1a1a" >0</text>
<text x="36.2" y="392.36" font-size="13.8" text-anchor="end" font-weight="normal" font-style="normal" fill="#1a1a1a" >0.4</text>
<text x="36.2" y="347.32000000000005" font-size="13.8" text-anchor="end" font-weight="normal" font-style="normal" fill="#1a1a1a" >0.8</text>
<text x="36.2" y="302.28000000000003" font-size="13.8" text-anchor="end" font-weight="normal" font-style="normal" fill="#1a1a1a" >1.2</text>
<text x="42.0" y="448.9" font-size="13.8" text-anchor="middle" font-weight="normal" font-style="normal" fill="#1a1a1a" >1.1</text>
<text x="83.0" y="448.9" font-size="13.8" text-anchor="middle" font-weight="normal" font-style="normal" fill="#1a1a1a" >1.15</text>
<text x="126.0" y="448.9" font-size="13.8" text-anchor="middle" font-weight="normal" font-style="normal" fill="#1a1a1a" >1.2</text>
<text x="168.0" y="448.9" font-size="13.8" text-anchor="middle" font-weight="normal" font-style="normal" fill="#1a1a1a" >1.25</text>
<text x="127.5" y="466.5" font-size="12.6" text-anchor="middle" font-weight="normal" font-style="normal" fill="#1a1a1a" >TH wavelength (&#956;m)</text>
<text x="11.5" y="349.2" font-size="13.8" text-anchor="middle" font-weight="normal" font-style="normal" fill="#1a1a1a" transform="rotate(-90 11.5 349.2)" >TH intensity (arb. un.)</text>
<text x="20.3" y="254.4" font-size="14.3" text-anchor="start" font-weight="bold" font-style="normal" fill="#000" >d</text>
<text x="174.4" y="287.0" font-size="11.9" fill="#1a1a1a"><tspan font-style="italic">&#296;</tspan> / <tspan font-style="italic">&#296;</tspan><tspan class="sb" font-size="6.2" dy="2.6">c</tspan></text>
<line x1="150.30" y1="298.70" x2="167.50" y2="298.70" stroke="#2166ac" stroke-width="1.9"/>
<text x="174.4" y="302.9" font-size="11.9" fill="#1a1a1a" text-anchor="start">0.2<tspan font-style="italic">&#296;</tspan><tspan class="sb" font-size="5.6" dy="2.6">c</tspan></text>
<line x1="150.30" y1="314.20" x2="167.50" y2="314.20" stroke="#4393c3" stroke-width="1.9"/>
<text x="174.4" y="318.4" font-size="11.9" fill="#1a1a1a" text-anchor="start">0.4<tspan font-style="italic">&#296;</tspan><tspan class="sb" font-size="5.6" dy="2.6">c</tspan></text>
<line x1="150.30" y1="329.40" x2="167.50" y2="329.40" stroke="#d1e5f0" stroke-width="1.9"/>
<text x="174.4" y="333.59999999999997" font-size="11.9" fill="#1a1a1a" text-anchor="start">0.6<tspan font-style="italic">&#296;</tspan><tspan class="sb" font-size="5.6" dy="2.6">c</tspan></text>
<line x1="150.30" y1="344.60" x2="167.50" y2="344.60" stroke="#fddbc7" stroke-width="1.9"/>
<text x="174.4" y="348.8" font-size="11.9" fill="#1a1a1a" text-anchor="start">0.9<tspan font-style="italic">&#296;</tspan><tspan class="sb" font-size="5.6" dy="2.6">c</tspan></text>
<line x1="150.30" y1="360.10" x2="167.50" y2="360.10" stroke="#ef8a62" stroke-width="1.9"/>
<text x="174.4" y="364.3" font-size="11.9" fill="#1a1a1a" text-anchor="start">1.1<tspan font-style="italic">&#296;</tspan><tspan class="sb" font-size="5.6" dy="2.6">c</tspan></text>
<line x1="150.30" y1="375.50" x2="167.50" y2="375.50" stroke="#b2182b" stroke-width="1.9"/>
<text x="174.4" y="379.7" font-size="11.9" fill="#1a1a1a" text-anchor="start">1.3<tspan font-style="italic">&#296;</tspan><tspan class="sb" font-size="5.6" dy="2.6">c</tspan></text>
<rect x="436.20" y="265.3" width="32.00" height="169.09999999999997" fill="#c9c9fb"/>
<clipPath id="ce"><rect x="297.9" y="265.3" width="170.89999999999998" height="169.09999999999997"/></clipPath>
<g clip-path="url(#ce)">
<line x1="298.50" y1="382.27" x2="440.02" y2="265.30" stroke="#1d1da8" stroke-width="1.35"/>
<line x1="298.50" y1="430.87" x2="468.20" y2="290.61" stroke="#1d1da8" stroke-width="1.35"/>
<circle cx="299.02" cy="430.44" r="3.3" fill="#fff" stroke="#1d1da8" stroke-width="1.3"/>
<circle cx="324.58" cy="409.31" r="3.3" fill="#fff" stroke="#1d1da8" stroke-width="1.3"/>
<circle cx="344.41" cy="392.92" r="3.3" fill="#fff" stroke="#1d1da8" stroke-width="1.3"/>
<circle cx="360.62" cy="379.53" r="3.3" fill="#fff" stroke="#1d1da8" stroke-width="1.3"/>
<circle cx="374.32" cy="368.20" r="3.3" fill="#fff" stroke="#1d1da8" stroke-width="1.3"/>
<circle cx="386.18" cy="358.40" r="3.3" fill="#fff" stroke="#1d1da8" stroke-width="1.3"/>
<circle cx="396.65" cy="349.74" r="3.3" fill="#fff" stroke="#1d1da8" stroke-width="1.3"/>
<circle cx="406.01" cy="342.01" r="3.3" fill="#fff" stroke="#1d1da8" stroke-width="1.3"/>
<circle cx="414.48" cy="335.01" r="3.3" fill="#fff" stroke="#1d1da8" stroke-width="1.3"/>
<circle cx="422.22" cy="328.61" r="3.3" fill="#fff" stroke="#1d1da8" stroke-width="1.3"/>
<circle cx="429.33" cy="322.73" r="3.3" fill="#fff" stroke="#1d1da8" stroke-width="1.3"/>
<circle cx="435.92" cy="317.29" r="3.3" fill="#fff" stroke="#1d1da8" stroke-width="1.3"/>
<circle cx="442.05" cy="312.22" r="3.3" fill="#fff" stroke="#1d1da8" stroke-width="1.3"/>
<circle cx="447.78" cy="307.48" r="3.3" fill="#fff" stroke="#1d1da8" stroke-width="1.3"/>
<circle cx="453.17" cy="303.03" r="3.3" fill="#fff" stroke="#1d1da8" stroke-width="1.3"/>
<circle cx="458.25" cy="298.83" r="3.3" fill="#fff" stroke="#1d1da8" stroke-width="1.3"/>
<circle cx="463.05" cy="294.86" r="3.3" fill="#fff" stroke="#1d1da8" stroke-width="1.3"/>
<circle cx="467.61" cy="291.09" r="3.3" fill="#fff" stroke="#1d1da8" stroke-width="1.3"/>
<circle cx="299.02" cy="382.10" r="3.5" fill="#1d1da8"/>
<circle cx="324.58" cy="361.60" r="3.5" fill="#1d1da8"/>
<circle cx="344.41" cy="344.80" r="3.5" fill="#1d1da8"/>
<circle cx="360.62" cy="331.80" r="3.5" fill="#1d1da8"/>
<circle cx="374.32" cy="319.80" r="3.5" fill="#1d1da8"/>
<circle cx="386.18" cy="311.40" r="3.5" fill="#1d1da8"/>
<circle cx="396.65" cy="302.20" r="3.5" fill="#1d1da8"/>
<circle cx="406.01" cy="295.20" r="3.5" fill="#1d1da8"/>
<circle cx="414.48" cy="289.10" r="3.5" fill="#1d1da8"/>
<circle cx="422.22" cy="283.90" r="3.5" fill="#1d1da8"/>
<circle cx="429.33" cy="279.60" r="3.5" fill="#1d1da8"/>
<circle cx="435.92" cy="276.60" r="3.5" fill="#1d1da8"/>
<circle cx="442.05" cy="273.80" r="3.5" fill="#1d1da8"/>
<circle cx="447.78" cy="272.60" r="3.5" fill="#1d1da8"/>
<circle cx="453.17" cy="272.60" r="3.5" fill="#1d1da8"/>
<circle cx="458.25" cy="273.60" r="3.5" fill="#1d1da8"/>
<circle cx="463.05" cy="275.60" r="3.5" fill="#1d1da8"/>
<circle cx="467.61" cy="279.10" r="3.5" fill="#1d1da8"/>
</g>
<rect x="298.5" y="265.3" width="169.7" height="169.09999999999997" fill="none" stroke="#333" stroke-width="1.1"/>
<line x1="349.03" y1="434.40" x2="349.03" y2="432.60" stroke="#222" stroke-width="0.85"/>
<line x1="349.03" y1="265.30" x2="349.03" y2="267.10" stroke="#222" stroke-width="0.85"/>
<line x1="394.43" y1="434.40" x2="394.43" y2="432.60" stroke="#222" stroke-width="0.85"/>
<line x1="394.43" y1="265.30" x2="394.43" y2="267.10" stroke="#222" stroke-width="0.85"/>
<line x1="424.33" y1="434.40" x2="424.33" y2="432.60" stroke="#222" stroke-width="0.85"/>
<line x1="424.33" y1="265.30" x2="424.33" y2="267.10" stroke="#222" stroke-width="0.85"/>
<line x1="446.67" y1="434.40" x2="446.67" y2="432.60" stroke="#222" stroke-width="0.85"/>
<line x1="446.67" y1="265.30" x2="446.67" y2="267.10" stroke="#222" stroke-width="0.85"/>
<line x1="464.50" y1="434.40" x2="464.50" y2="432.60" stroke="#222" stroke-width="0.85"/>
<line x1="464.50" y1="265.30" x2="464.50" y2="267.10" stroke="#222" stroke-width="0.85"/>
<line x1="313.00" y1="434.40" x2="313.00" y2="431.30" stroke="#222" stroke-width="0.85"/>
<line x1="313.00" y1="265.30" x2="313.00" y2="268.40" stroke="#222" stroke-width="0.85"/>
<line x1="374.60" y1="434.40" x2="374.60" y2="431.30" stroke="#222" stroke-width="0.85"/>
<line x1="374.60" y1="265.30" x2="374.60" y2="268.40" stroke="#222" stroke-width="0.85"/>
<line x1="410.63" y1="434.40" x2="410.63" y2="431.30" stroke="#222" stroke-width="0.85"/>
<line x1="410.63" y1="265.30" x2="410.63" y2="268.40" stroke="#222" stroke-width="0.85"/>
<line x1="436.20" y1="434.40" x2="436.20" y2="431.30" stroke="#222" stroke-width="0.85"/>
<line x1="436.20" y1="265.30" x2="436.20" y2="268.40" stroke="#222" stroke-width="0.85"/>
<line x1="456.03" y1="434.40" x2="456.03" y2="431.30" stroke="#222" stroke-width="0.85"/>
<line x1="456.03" y1="265.30" x2="456.03" y2="268.40" stroke="#222" stroke-width="0.85"/>
<line x1="298.50" y1="411.72" x2="300.30" y2="411.72" stroke="#222" stroke-width="0.85"/>
<line x1="468.20" y1="411.72" x2="466.40" y2="411.72" stroke="#222" stroke-width="0.85"/>
<line x1="298.50" y1="355.52" x2="300.30" y2="355.52" stroke="#222" stroke-width="0.85"/>
<line x1="468.20" y1="355.52" x2="466.40" y2="355.52" stroke="#222" stroke-width="0.85"/>
<line x1="298.50" y1="299.32" x2="300.30" y2="299.32" stroke="#222" stroke-width="0.85"/>
<line x1="468.20" y1="299.32" x2="466.40" y2="299.32" stroke="#222" stroke-width="0.85"/>
<line x1="298.50" y1="394.80" x2="301.60" y2="394.80" stroke="#222" stroke-width="0.85"/>
<line x1="468.20" y1="394.80" x2="465.10" y2="394.80" stroke="#222" stroke-width="0.85"/>
<line x1="298.50" y1="338.60" x2="301.60" y2="338.60" stroke="#222" stroke-width="0.85"/>
<line x1="468.20" y1="338.60" x2="465.10" y2="338.60" stroke="#222" stroke-width="0.85"/>
<line x1="298.50" y1="282.40" x2="301.60" y2="282.40" stroke="#222" stroke-width="0.85"/>
<line x1="468.20" y1="282.40" x2="465.10" y2="282.40" stroke="#222" stroke-width="0.85"/>
<text x="293.3" y="399.7" font-size="13.8" text-anchor="end" font-weight="normal" font-style="normal" fill="#1a1a1a" >0.1</text>
<text x="293.3" y="343.5" font-size="13.8" text-anchor="end" font-weight="normal" font-style="normal" fill="#1a1a1a" >1</text>
<text x="293.3" y="287.3" font-size="13.8" text-anchor="end" font-weight="normal" font-style="normal" fill="#1a1a1a" >10</text>
<text x="313.0" y="448.9" font-size="13.8" text-anchor="middle" font-weight="normal" font-style="normal" fill="#1a1a1a" >0.25</text>
<text x="374.59999999999997" y="448.9" font-size="13.8" text-anchor="middle" font-weight="normal" font-style="normal" fill="#1a1a1a" >0.5</text>
<text x="410.6336900444232" y="448.9" font-size="13.8" text-anchor="middle" font-weight="normal" font-style="normal" fill="#1a1a1a" >0.75</text>
<text x="436.2" y="448.9" font-size="13.8" text-anchor="middle" font-weight="normal" font-style="normal" fill="#1a1a1a" >1</text>
<text x="385.9" y="466.5" font-size="12.6" fill="#1a1a1a" text-anchor="middle">MIR intensity (<tspan font-style="italic">&#296;</tspan><tspan class="sb" font-size="6.2" dy="2.6">c</tspan><tspan dy="-2.6">)</tspan></text>
<text x="252.7" y="350.1" font-size="13.8" text-anchor="middle" font-weight="normal" font-style="normal" fill="#1a1a1a" transform="rotate(-90 252.7 350.1)" >Spectrally integrated</text>
<text x="269.3" y="348.8" font-size="13.8" text-anchor="middle" font-weight="normal" font-style="normal" fill="#1a1a1a" transform="rotate(-90 269.3 348.8)" >TH intensity (arb. un.)</text>
<text x="277.4" y="254.4" font-size="13.6" text-anchor="start" font-weight="bold" font-style="normal" fill="#000" >e</text>
<text x="322.4" y="287.7" font-size="13.8" text-anchor="start" font-weight="normal" font-style="normal" fill="#1a1a1a" >Metasurface</text>
<text x="388.3" y="381.6" font-size="13.6" text-anchor="start" font-weight="normal" font-style="normal" fill="#1a1a1a" >Film</text>
<rect x="648.20" y="265.4" width="59.70" height="169.10000000000002" fill="#c9c9fb"/>
<clipPath id="cf"><rect x="537.9" y="265.4" width="170.59999999999997" height="169.10000000000002"/></clipPath>
<g clip-path="url(#cf)">
<circle cx="538.38" cy="287.00" r="3.2" fill="#1d1da8"/>
<rect x="535.48" y="414.60" width="5.8" height="5.8" fill="#1d1da8"/>
<circle cx="548.32" cy="287.00" r="3.2" fill="#1d1da8"/>
<rect x="545.42" y="414.60" width="5.8" height="5.8" fill="#1d1da8"/>
<circle cx="558.27" cy="288.10" r="3.2" fill="#1d1da8"/>
<rect x="555.37" y="414.60" width="5.8" height="5.8" fill="#1d1da8"/>
<circle cx="568.21" cy="288.10" r="3.2" fill="#1d1da8"/>
<rect x="565.31" y="414.60" width="5.8" height="5.8" fill="#1d1da8"/>
<circle cx="578.15" cy="289.60" r="3.2" fill="#1d1da8"/>
<rect x="575.25" y="413.80" width="5.8" height="5.8" fill="#1d1da8"/>
<circle cx="588.09" cy="290.80" r="3.2" fill="#1d1da8"/>
<rect x="585.19" y="413.40" width="5.8" height="5.8" fill="#1d1da8"/>
<circle cx="598.04" cy="293.40" r="3.2" fill="#1d1da8"/>
<rect x="595.14" y="412.70" width="5.8" height="5.8" fill="#1d1da8"/>
<circle cx="607.98" cy="296.40" r="3.2" fill="#1d1da8"/>
<rect x="605.08" y="412.00" width="5.8" height="5.8" fill="#1d1da8"/>
<circle cx="617.92" cy="300.50" r="3.2" fill="#1d1da8"/>
<rect x="615.02" y="410.80" width="5.8" height="5.8" fill="#1d1da8"/>
<circle cx="627.87" cy="306.10" r="3.2" fill="#1d1da8"/>
<rect x="624.97" y="409.30" width="5.8" height="5.8" fill="#1d1da8"/>
<circle cx="637.81" cy="312.00" r="3.2" fill="#1d1da8"/>
<rect x="634.91" y="406.40" width="5.8" height="5.8" fill="#1d1da8"/>
<circle cx="647.75" cy="320.30" r="3.2" fill="#1d1da8"/>
<rect x="644.85" y="401.90" width="5.8" height="5.8" fill="#1d1da8"/>
<circle cx="657.70" cy="330.00" r="3.2" fill="#1d1da8"/>
<rect x="654.80" y="394.40" width="5.8" height="5.8" fill="#1d1da8"/>
<circle cx="667.64" cy="340.80" r="3.2" fill="#1d1da8"/>
<rect x="664.74" y="384.70" width="5.8" height="5.8" fill="#1d1da8"/>
<circle cx="677.58" cy="352.70" r="3.2" fill="#1d1da8"/>
<rect x="674.68" y="369.00" width="5.8" height="5.8" fill="#1d1da8"/>
<circle cx="687.53" cy="367.70" r="3.2" fill="#1d1da8"/>
<rect x="684.63" y="348.50" width="5.8" height="5.8" fill="#1d1da8"/>
<circle cx="697.47" cy="381.90" r="3.2" fill="#1d1da8"/>
<rect x="694.57" y="318.60" width="5.8" height="5.8" fill="#1d1da8"/>
<circle cx="707.41" cy="395.70" r="3.2" fill="#1d1da8"/>
<rect x="704.51" y="277.50" width="5.8" height="5.8" fill="#1d1da8"/>
</g>
<line x1="552.00" y1="301.30" x2="577.90" y2="301.30" stroke="#3030b8" stroke-width="1.3"/>
<path d="M549.6,301.3 L557.8,298.7 L555.8,301.3 L557.8,303.9 Z" fill="#3030b8"/>
<line x1="593.60" y1="399.90" x2="618.50" y2="399.90" stroke="#3030b8" stroke-width="1.3"/>
<path d="M621.2,399.9 L613.0,397.3 L615.0,399.9 L613.0,402.5 Z" fill="#3030b8"/>
<rect x="538.5" y="265.4" width="169.39999999999998" height="169.10000000000002" fill="none" stroke="#333" stroke-width="1.1"/>
<line x1="544.18" y1="434.50" x2="544.18" y2="432.70" stroke="#222" stroke-width="0.85"/>
<line x1="544.18" y1="265.40" x2="544.18" y2="267.20" stroke="#222" stroke-width="0.85"/>
<line x1="561.51" y1="434.50" x2="561.51" y2="432.70" stroke="#222" stroke-width="0.85"/>
<line x1="561.51" y1="265.40" x2="561.51" y2="267.20" stroke="#222" stroke-width="0.85"/>
<line x1="578.85" y1="434.50" x2="578.85" y2="432.70" stroke="#222" stroke-width="0.85"/>
<line x1="578.85" y1="265.40" x2="578.85" y2="267.20" stroke="#222" stroke-width="0.85"/>
<line x1="596.19" y1="434.50" x2="596.19" y2="432.70" stroke="#222" stroke-width="0.85"/>
<line x1="596.19" y1="265.40" x2="596.19" y2="267.20" stroke="#222" stroke-width="0.85"/>
<line x1="613.53" y1="434.50" x2="613.53" y2="432.70" stroke="#222" stroke-width="0.85"/>
<line x1="613.53" y1="265.40" x2="613.53" y2="267.20" stroke="#222" stroke-width="0.85"/>
<line x1="630.86" y1="434.50" x2="630.86" y2="432.70" stroke="#222" stroke-width="0.85"/>
<line x1="630.86" y1="265.40" x2="630.86" y2="267.20" stroke="#222" stroke-width="0.85"/>
<line x1="648.20" y1="434.50" x2="648.20" y2="432.70" stroke="#222" stroke-width="0.85"/>
<line x1="648.20" y1="265.40" x2="648.20" y2="267.20" stroke="#222" stroke-width="0.85"/>
<line x1="665.54" y1="434.50" x2="665.54" y2="432.70" stroke="#222" stroke-width="0.85"/>
<line x1="665.54" y1="265.40" x2="665.54" y2="267.20" stroke="#222" stroke-width="0.85"/>
<line x1="682.88" y1="434.50" x2="682.88" y2="432.70" stroke="#222" stroke-width="0.85"/>
<line x1="682.88" y1="265.40" x2="682.88" y2="267.20" stroke="#222" stroke-width="0.85"/>
<line x1="700.21" y1="434.50" x2="700.21" y2="432.70" stroke="#222" stroke-width="0.85"/>
<line x1="700.21" y1="265.40" x2="700.21" y2="267.20" stroke="#222" stroke-width="0.85"/>
<line x1="544.18" y1="434.50" x2="544.18" y2="431.40" stroke="#222" stroke-width="0.85"/>
<line x1="544.18" y1="265.40" x2="544.18" y2="268.50" stroke="#222" stroke-width="0.85"/>
<line x1="578.85" y1="434.50" x2="578.85" y2="431.40" stroke="#222" stroke-width="0.85"/>
<line x1="578.85" y1="265.40" x2="578.85" y2="268.50" stroke="#222" stroke-width="0.85"/>
<line x1="613.53" y1="434.50" x2="613.53" y2="431.40" stroke="#222" stroke-width="0.85"/>
<line x1="613.53" y1="265.40" x2="613.53" y2="268.50" stroke="#222" stroke-width="0.85"/>
<line x1="648.20" y1="434.50" x2="648.20" y2="431.40" stroke="#222" stroke-width="0.85"/>
<line x1="648.20" y1="265.40" x2="648.20" y2="268.50" stroke="#222" stroke-width="0.85"/>
<line x1="682.88" y1="434.50" x2="682.88" y2="431.40" stroke="#222" stroke-width="0.85"/>
<line x1="682.88" y1="265.40" x2="682.88" y2="268.50" stroke="#222" stroke-width="0.85"/>
<line x1="538.50" y1="430.76" x2="540.30" y2="430.76" stroke="#222" stroke-width="0.85"/>
<line x1="538.50" y1="426.28" x2="540.30" y2="426.28" stroke="#222" stroke-width="0.85"/>
<line x1="538.50" y1="421.80" x2="540.30" y2="421.80" stroke="#222" stroke-width="0.85"/>
<line x1="538.50" y1="417.32" x2="540.30" y2="417.32" stroke="#222" stroke-width="0.85"/>
<line x1="538.50" y1="412.84" x2="540.30" y2="412.84" stroke="#222" stroke-width="0.85"/>
<line x1="538.50" y1="408.36" x2="540.30" y2="408.36" stroke="#222" stroke-width="0.85"/>
<line x1="538.50" y1="403.88" x2="540.30" y2="403.88" stroke="#222" stroke-width="0.85"/>
<line x1="538.50" y1="399.40" x2="540.30" y2="399.40" stroke="#222" stroke-width="0.85"/>
<line x1="538.50" y1="394.92" x2="540.30" y2="394.92" stroke="#222" stroke-width="0.85"/>
<line x1="538.50" y1="390.44" x2="540.30" y2="390.44" stroke="#222" stroke-width="0.85"/>
<line x1="538.50" y1="385.96" x2="540.30" y2="385.96" stroke="#222" stroke-width="0.85"/>
<line x1="538.50" y1="381.48" x2="540.30" y2="381.48" stroke="#222" stroke-width="0.85"/>
<line x1="538.50" y1="377.00" x2="540.30" y2="377.00" stroke="#222" stroke-width="0.85"/>
<line x1="538.50" y1="372.52" x2="540.30" y2="372.52" stroke="#222" stroke-width="0.85"/>
<line x1="538.50" y1="368.04" x2="540.30" y2="368.04" stroke="#222" stroke-width="0.85"/>
<line x1="538.50" y1="363.56" x2="540.30" y2="363.56" stroke="#222" stroke-width="0.85"/>
<line x1="538.50" y1="359.08" x2="540.30" y2="359.08" stroke="#222" stroke-width="0.85"/>
<line x1="538.50" y1="354.60" x2="540.30" y2="354.60" stroke="#222" stroke-width="0.85"/>
<line x1="538.50" y1="350.12" x2="540.30" y2="350.12" stroke="#222" stroke-width="0.85"/>
<line x1="538.50" y1="345.64" x2="540.30" y2="345.64" stroke="#222" stroke-width="0.85"/>
<line x1="538.50" y1="341.16" x2="540.30" y2="341.16" stroke="#222" stroke-width="0.85"/>
<line x1="538.50" y1="336.68" x2="540.30" y2="336.68" stroke="#222" stroke-width="0.85"/>
<line x1="538.50" y1="332.20" x2="540.30" y2="332.20" stroke="#222" stroke-width="0.85"/>
<line x1="538.50" y1="327.72" x2="540.30" y2="327.72" stroke="#222" stroke-width="0.85"/>
<line x1="538.50" y1="323.24" x2="540.30" y2="323.24" stroke="#222" stroke-width="0.85"/>
<line x1="538.50" y1="318.76" x2="540.30" y2="318.76" stroke="#222" stroke-width="0.85"/>
<line x1="538.50" y1="314.28" x2="540.30" y2="314.28" stroke="#222" stroke-width="0.85"/>
<line x1="538.50" y1="309.80" x2="540.30" y2="309.80" stroke="#222" stroke-width="0.85"/>
<line x1="538.50" y1="305.32" x2="540.30" y2="305.32" stroke="#222" stroke-width="0.85"/>
<line x1="538.50" y1="300.84" x2="540.30" y2="300.84" stroke="#222" stroke-width="0.85"/>
<line x1="538.50" y1="296.36" x2="540.30" y2="296.36" stroke="#222" stroke-width="0.85"/>
<line x1="538.50" y1="291.88" x2="540.30" y2="291.88" stroke="#222" stroke-width="0.85"/>
<line x1="538.50" y1="287.40" x2="540.30" y2="287.40" stroke="#222" stroke-width="0.85"/>
<line x1="538.50" y1="282.92" x2="540.30" y2="282.92" stroke="#222" stroke-width="0.85"/>
<line x1="538.50" y1="278.44" x2="540.30" y2="278.44" stroke="#222" stroke-width="0.85"/>
<line x1="538.50" y1="273.96" x2="540.30" y2="273.96" stroke="#222" stroke-width="0.85"/>
<line x1="538.50" y1="269.48" x2="540.30" y2="269.48" stroke="#222" stroke-width="0.85"/>
<line x1="538.50" y1="421.80" x2="541.60" y2="421.80" stroke="#222" stroke-width="0.85"/>
<line x1="538.50" y1="399.40" x2="541.60" y2="399.40" stroke="#222" stroke-width="0.85"/>
<line x1="538.50" y1="377.00" x2="541.60" y2="377.00" stroke="#222" stroke-width="0.85"/>
<line x1="538.50" y1="354.60" x2="541.60" y2="354.60" stroke="#222" stroke-width="0.85"/>
<line x1="538.50" y1="332.20" x2="541.60" y2="332.20" stroke="#222" stroke-width="0.85"/>
<line x1="538.50" y1="309.80" x2="541.60" y2="309.80" stroke="#222" stroke-width="0.85"/>
<line x1="538.50" y1="287.40" x2="541.60" y2="287.40" stroke="#222" stroke-width="0.85"/>
<line x1="707.90" y1="434.30" x2="706.10" y2="434.30" stroke="#222" stroke-width="0.85"/>
<line x1="707.90" y1="426.65" x2="706.10" y2="426.65" stroke="#222" stroke-width="0.85"/>
<line x1="707.90" y1="418.99" x2="706.10" y2="418.99" stroke="#222" stroke-width="0.85"/>
<line x1="707.90" y1="411.34" x2="706.10" y2="411.34" stroke="#222" stroke-width="0.85"/>
<line x1="707.90" y1="403.68" x2="706.10" y2="403.68" stroke="#222" stroke-width="0.85"/>
<line x1="707.90" y1="396.03" x2="706.10" y2="396.03" stroke="#222" stroke-width="0.85"/>
<line x1="707.90" y1="388.37" x2="706.10" y2="388.37" stroke="#222" stroke-width="0.85"/>
<line x1="707.90" y1="380.72" x2="706.10" y2="380.72" stroke="#222" stroke-width="0.85"/>
<line x1="707.90" y1="373.06" x2="706.10" y2="373.06" stroke="#222" stroke-width="0.85"/>
<line x1="707.90" y1="365.41" x2="706.10" y2="365.41" stroke="#222" stroke-width="0.85"/>
<line x1="707.90" y1="357.75" x2="706.10" y2="357.75" stroke="#222" stroke-width="0.85"/>
<line x1="707.90" y1="350.10" x2="706.10" y2="350.10" stroke="#222" stroke-width="0.85"/>
<line x1="707.90" y1="342.44" x2="706.10" y2="342.44" stroke="#222" stroke-width="0.85"/>
<line x1="707.90" y1="334.79" x2="706.10" y2="334.79" stroke="#222" stroke-width="0.85"/>
<line x1="707.90" y1="327.13" x2="706.10" y2="327.13" stroke="#222" stroke-width="0.85"/>
<line x1="707.90" y1="319.48" x2="706.10" y2="319.48" stroke="#222" stroke-width="0.85"/>
<line x1="707.90" y1="311.82" x2="706.10" y2="311.82" stroke="#222" stroke-width="0.85"/>
<line x1="707.90" y1="304.17" x2="706.10" y2="304.17" stroke="#222" stroke-width="0.85"/>
<line x1="707.90" y1="296.51" x2="706.10" y2="296.51" stroke="#222" stroke-width="0.85"/>
<line x1="707.90" y1="288.86" x2="706.10" y2="288.86" stroke="#222" stroke-width="0.85"/>
<line x1="707.90" y1="281.20" x2="706.10" y2="281.20" stroke="#222" stroke-width="0.85"/>
<line x1="707.90" y1="273.55" x2="706.10" y2="273.55" stroke="#222" stroke-width="0.85"/>
<line x1="707.90" y1="265.89" x2="706.10" y2="265.89" stroke="#222" stroke-width="0.85"/>
<line x1="707.90" y1="434.30" x2="704.80" y2="434.30" stroke="#222" stroke-width="0.85"/>
<line x1="707.90" y1="396.03" x2="704.80" y2="396.03" stroke="#222" stroke-width="0.85"/>
<line x1="707.90" y1="357.75" x2="704.80" y2="357.75" stroke="#222" stroke-width="0.85"/>
<line x1="707.90" y1="319.48" x2="704.80" y2="319.48" stroke="#222" stroke-width="0.85"/>
<line x1="707.90" y1="281.20" x2="704.80" y2="281.20" stroke="#222" stroke-width="0.85"/>
<text x="534.1" y="292.7" font-size="13.8" text-anchor="end" font-weight="normal" font-style="normal" fill="#1a1a1a" >0</text>
<text x="534.1" y="337.5" font-size="13.8" text-anchor="end" font-weight="normal" font-style="normal" fill="#1a1a1a" >&#8722;10</text>
<text x="534.1" y="382.3" font-size="13.8" text-anchor="end" font-weight="normal" font-style="normal" fill="#1a1a1a" >&#8722;20</text>
<text x="534.1" y="427.09999999999997" font-size="13.8" text-anchor="end" font-weight="normal" font-style="normal" fill="#1a1a1a" >&#8722;30</text>
<text x="714.0" y="438.90000000000003" font-size="13.8" text-anchor="start" font-weight="normal" font-style="normal" fill="#1a1a1a" >20</text>
<text x="714.0" y="362.35" font-size="13.8" text-anchor="start" font-weight="normal" font-style="normal" fill="#1a1a1a" >30</text>
<text x="714.0" y="285.80000000000007" font-size="13.8" text-anchor="start" font-weight="normal" font-style="normal" fill="#1a1a1a" >40</text>
<text x="543.8" y="448.9" font-size="13.8" text-anchor="middle" font-weight="normal" font-style="normal" fill="#1a1a1a" >0.25</text>
<text x="578.0" y="448.9" font-size="13.8" text-anchor="middle" font-weight="normal" font-style="normal" fill="#1a1a1a" >0.5</text>
<text x="612.0" y="448.9" font-size="13.8" text-anchor="middle" font-weight="normal" font-style="normal" fill="#1a1a1a" >0.75</text>
<text x="648.2" y="448.9" font-size="13.8" text-anchor="middle" font-weight="normal" font-style="normal" fill="#1a1a1a" >1</text>
<text x="683.3" y="448.9" font-size="13.8" text-anchor="middle" font-weight="normal" font-style="normal" fill="#1a1a1a" >1.25</text>
<text x="627.0" y="466.5" font-size="12.6" fill="#1a1a1a" text-anchor="middle">MIR intensity (<tspan font-style="italic">&#296;</tspan><tspan class="sb" font-size="6.2" dy="2.6">c</tspan><tspan dy="-2.6">)</tspan></text>
<text x="505.0" y="349.2" font-size="13.8" text-anchor="middle" font-weight="normal" font-style="normal" fill="#1a1a1a" transform="rotate(-90 505.0 349.2)" >Relative TH peak position (nm)</text>
<text x="735.6" y="344.3" font-size="13.0" text-anchor="middle" font-weight="normal" font-style="normal" fill="#1a1a1a" transform="rotate(90 735.6 344.3)" >TH spectrum FWHM (nm)</text>
<text x="517.8" y="254.6" font-size="14.4" text-anchor="start" font-weight="bold" font-style="normal" fill="#000" >f</text>
</svg>
</body></html>
